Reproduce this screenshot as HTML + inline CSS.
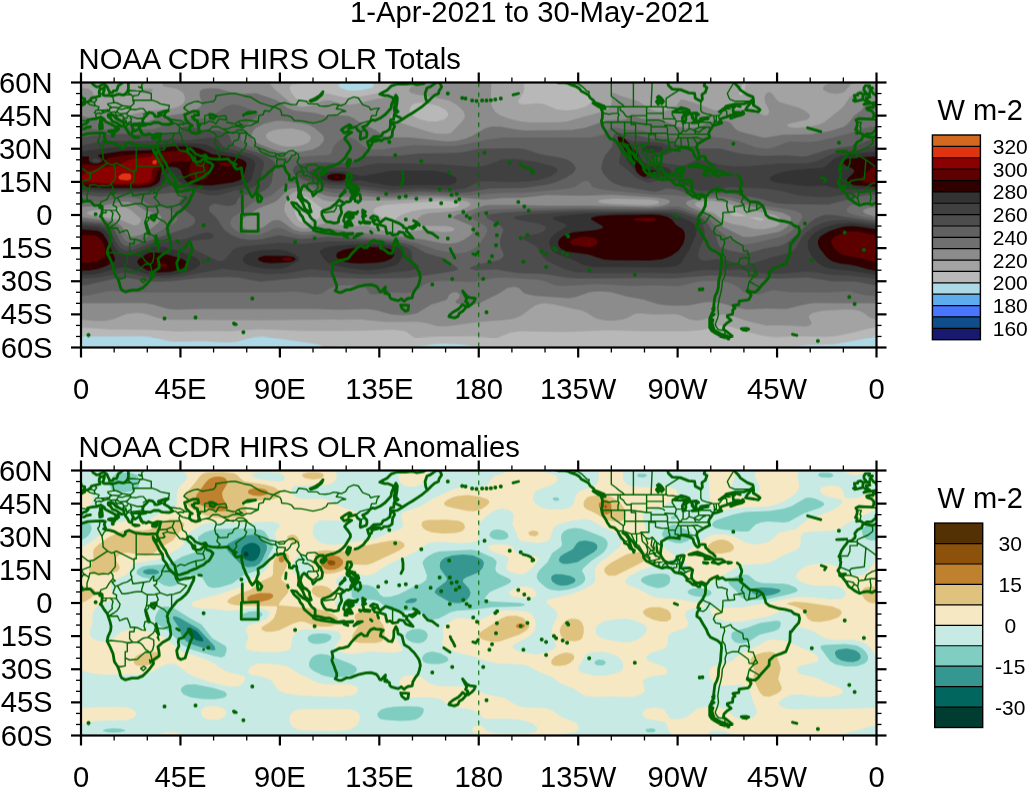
<!DOCTYPE html>
<html><head><meta charset="utf-8"><style>
html,body{margin:0;padding:0;background:#fff;width:1027px;height:788px;overflow:hidden}
svg text{font-family:"Liberation Sans",sans-serif;fill:#000}
svg{will-change:transform}
</style></head><body>
<svg width="1027" height="788" viewBox="0 0 1027 788" style="display:block">
<text x="529.9" y="21.9" text-anchor="middle" font-size="29.3">1-Apr-2021 to 30-May-2021</text>
<text x="78.6" y="68.7" font-size="29.2">NOAA CDR HIRS OLR Totals</text>
<text x="78.6" y="456.7" font-size="29.2">NOAA CDR HIRS OLR Anomalies</text>
<svg x="81.0" y="82.5" width="795.5" height="265.0" viewBox="0 0 795.5 265.0" overflow="hidden"><rect x="0" y="0" width="795.5" height="265.0" fill="#104E8B"/>
<path fill="#4876FF" fill-rule="evenodd" d="M795.5 0.0 795.5 265.0 0.0 265.0 0.0 0.0Z"/>
<path fill="#5CACEE" fill-rule="evenodd" d="M795.5 0.0 795.5 265.0 0.0 265.0 0.0 0.0Z"/>
<path fill="#ADD8E6" fill-rule="evenodd" d="M795.5 0.0 795.5 265.0 0.0 265.0 0.0 0.0Z"/>
<path fill="#B8B8B8" fill-rule="evenodd" d="M259.6 0.0 257.3 2.2 257.3 3.3 259.8 5.5 266.3 7.7 272.9 8.3 281.7 7.6 290.2 5.5 293.1 3.3 291.9 1.1 289.7 0.0 795.5 0.0 795.5 254.0 753.5 261.7 727.0 262.6 707.1 265.0 397.7 265.0 381.2 262.1 363.5 261.1 353.6 261.6 331.5 265.0 265.2 265.0 264.1 263.7 260.7 263.2 254.8 263.9 253.6 265.0 243.1 265.0 239.6 262.8 232.0 261.0 182.3 253.9 172.4 254.5 155.8 259.2 145.8 260.1 120.4 258.8 92.8 259.2 86.2 258.3 70.7 254.6 61.9 253.7 0.0 254.0 0.0 0.0Z"/>
<path fill="#A3A3A3" fill-rule="evenodd" d="M221.0 0.0 211.1 2.2 209.5 3.3 208.6 5.5 210.3 9.9 214.4 15.5 217.7 17.8 222.1 18.9 226.5 18.0 236.4 12.5 242.0 11.1 248.6 11.4 263.0 14.9 268.5 15.4 276.2 14.7 295.3 11.0 303.8 8.8 308.5 6.6 311.3 3.3 310.9 1.1 309.4 0.0 441.9 0.0 443.1 2.2 443.3 6.6 441.9 11.0 437.5 17.7 437.5 19.9 438.5 21.0 443.0 22.1 453.0 20.9 459.6 21.1 464.0 22.1 476.2 26.9 485.0 28.1 495.0 27.0 504.2 24.3 509.3 21.0 510.7 17.7 509.6 13.2 505.8 8.8 501.6 6.6 490.6 2.9 486.1 0.0 662.9 0.0 658.2 8.8 657.9 11.0 658.5 12.3 659.6 12.8 661.8 12.2 663.5 9.9 664.7 1.1 665.8 0.0 795.5 0.0 795.5 244.9 788.9 245.8 770.0 250.6 753.5 253.7 745.8 254.3 718.2 253.8 695.0 254.5 686.1 254.1 676.2 252.1 648.6 243.9 641.9 242.9 637.5 243.4 620.9 247.6 606.6 248.8 559.1 248.7 530.3 247.8 483.9 249.4 439.7 248.7 429.8 249.9 418.7 254.4 413.2 255.3 392.2 253.8 355.8 253.9 334.8 254.9 331.5 254.0 325.9 249.6 323.2 248.4 312.7 247.2 277.3 248.3 223.2 248.5 179.0 246.7 149.2 248.8 123.7 248.4 96.1 248.9 66.3 247.3 28.7 247.1 0.0 244.9 0.0 0.0ZM333.6 21.0 331.5 22.1 329.5 24.3 328.5 27.6 328.8 29.8 331.5 33.1 338.1 36.5 346.9 38.8 355.8 39.1 363.5 36.7 367.2 33.1 367.2 30.9 364.8 27.6 356.9 23.2 343.6 20.3 338.1 20.2ZM218.9 113.7 216.6 115.0 214.7 117.0 213.4 120.4 212.9 124.8 214.5 132.5 216.6 136.6 218.8 139.1 223.2 140.9 228.3 140.2 235.6 136.9 244.3 131.4 245.0 130.3 244.0 128.1 228.3 115.9 223.2 113.6ZM303.8 122.2 295.5 124.8 293.8 125.9 292.3 128.1 292.6 129.2 294.9 131.4 304.9 138.0 308.3 139.6 310.5 139.8 312.7 139.0 316.7 134.7 320.0 132.5 331.5 128.4 343.6 126.4 370.1 125.5 375.7 124.4 378.7 122.6 378.5 121.5 376.6 120.4 370.1 119.1 358.0 118.6ZM648.4 130.3 650.7 132.5 654.1 133.7 659.6 134.1 666.7 133.6 655.2 130.3 649.7 129.6ZM667.6 134.7 678.4 138.1 682.0 138.0 682.6 136.9 680.8 135.8 676.2 134.7Z"/>
<path fill="#8C8C8C" fill-rule="evenodd" d="M81.9 0.0 119.1 0.0 133.7 1.5 141.4 1.0 145.5 0.0 188.1 0.0 193.2 6.6 209.9 20.4 215.0 23.2 221.0 24.5 229.8 23.6 239.8 18.9 244.2 17.8 249.7 18.1 261.9 21.5 268.5 22.2 275.1 21.4 296.1 16.3 306.0 15.2 312.7 15.5 316.7 17.7 317.4 21.0 315.1 26.5 309.4 33.1 309.2 34.2 310.8 36.4 319.3 40.3 345.8 48.7 354.7 50.9 362.4 51.5 367.9 50.9 370.7 49.7 381.5 38.6 383.5 35.3 384.0 33.1 382.5 28.7 376.8 22.9 367.9 18.1 360.2 16.2 335.7 12.1 330.4 10.6 328.2 8.8 327.9 7.7 329.8 4.4 337.0 1.8 351.3 0.1 410.4 0.0 409.7 18.8 411.0 24.3 414.3 29.4 419.8 33.1 427.6 35.9 439.7 39.1 449.7 40.1 478.4 39.8 486.1 39.1 522.8 28.7 527.3 26.5 529.9 23.2 530.9 18.8 530.3 11.0 531.4 10.1 541.4 14.0 556.9 18.4 569.3 26.5 575.6 28.8 583.4 28.8 591.0 26.5 595.6 23.2 599.9 17.0 601.0 16.8 616.5 21.3 633.1 27.7 641.9 28.5 660.7 27.0 669.5 27.2 675.1 28.5 681.7 32.5 685.0 33.1 687.3 32.0 688.2 28.7 687.2 25.4 684.0 19.9 683.6 14.4 685.0 11.0 688.3 9.5 691.3 11.0 694.9 16.6 698.3 19.4 718.5 25.4 724.8 28.7 728.6 32.0 729.2 34.3 725.9 37.2 709.0 40.9 706.4 42.0 705.9 43.1 709.3 44.8 715.9 45.4 729.2 44.2 738.1 42.0 743.2 39.8 761.0 25.4 763.9 22.1 768.1 15.5 771.6 12.1 777.8 8.6 783.3 6.5 788.9 5.5 795.5 5.3 795.5 237.1 789.0 235.2 782.2 230.2 778.8 228.6 773.4 227.3 764.6 226.9 741.4 228.2 731.4 230.6 729.2 231.9 727.9 234.1 728.4 236.3 730.3 239.6 730.4 241.8 728.1 243.3 723.7 243.9 707.1 242.9 685.0 242.9 666.2 238.4 649.7 233.1 641.9 231.9 635.3 232.8 622.0 237.3 615.4 238.1 608.8 237.1 599.9 232.9 594.4 231.5 573.4 231.9 556.9 230.7 553.5 231.4 546.8 235.2 541.4 237.1 534.8 238.1 527.0 238.3 515.3 236.3 504.9 229.7 500.5 228.1 471.8 221.7 464.0 220.8 458.5 221.5 454.1 223.0 439.7 233.4 432.5 236.3 423.2 237.6 397.8 239.4 364.6 244.0 355.8 243.4 344.7 240.5 337.0 239.3 306.0 239.4 279.5 236.9 181.2 237.8 89.5 237.3 78.4 236.0 64.1 231.3 56.3 230.3 45.3 231.6 33.1 236.5 25.4 238.2 14.4 238.4 0.0 237.1 0.0 5.3 7.5 6.6 11.1 8.8 12.6 12.1 14.5 22.1 16.0 24.3 18.8 26.5 34.8 32.0 46.4 33.0 66.3 28.6 90.6 26.3 97.2 24.3 101.0 22.1 103.0 19.9 104.0 16.6 103.6 13.2 101.8 9.9 96.5 6.6 82.9 3.7 81.6 2.2ZM198.8 46.4 192.2 47.7 187.4 49.7 185.1 51.9 185.2 55.2 188.8 58.5 194.5 61.3 200.0 63.2 206.6 64.2 214.2 64.0 221.0 62.8 226.3 60.7 229.6 57.4 229.9 55.2 228.7 53.0 225.4 50.1 221.0 47.9 211.0 46.0ZM213.8 109.3 209.9 111.6 206.5 115.9 203.7 122.6 203.3 128.1 205.9 133.6 212.2 141.3 217.1 144.6 222.1 145.9 228.7 145.3 242.0 141.2 248.6 140.4 267.4 143.8 286.2 143.3 300.8 148.0 310.5 149.4 324.8 149.4 343.6 147.3 361.3 149.4 369.0 149.3 372.8 148.0 373.5 146.9 372.9 145.8 370.7 144.6 364.6 143.6 342.5 143.2 339.2 141.8 337.5 140.2 336.6 138.0 337.0 135.8 341.2 132.5 346.9 130.8 371.2 128.9 379.0 127.5 386.4 124.8 389.4 122.6 389.7 121.5 387.0 119.3 380.1 117.6 355.8 115.9 309.4 118.0 271.8 118.2 249.7 119.2 242.0 117.4 231.7 111.5 226.3 109.3 219.9 108.3ZM532.8 115.9 521.1 117.0 517.4 118.1 517.0 119.3 520.4 120.4 530.3 121.5 564.6 122.7 573.4 122.3 576.9 121.5 578.3 120.4 578.0 119.3 576.0 118.1 570.1 117.0ZM617.3 119.2 614.6 120.4 613.7 121.5 615.0 123.7 619.5 125.9 633.1 130.7 644.1 139.0 650.8 141.5 662.9 143.5 674.0 146.4 682.8 146.8 693.9 144.6 697.8 142.4 700.0 139.1 699.2 135.8 693.7 132.5 667.3 126.7 645.1 120.4 630.9 118.3ZM36.8 124.8 11.6 128.1 7.1 129.2 5.8 130.3 6.4 131.4 12.2 133.2 39.8 137.5 53.0 142.9 56.3 142.4 59.1 140.2 60.0 138.0 59.4 135.8 49.1 127.0 44.1 124.8ZM751.3 0.0 773.4 0.0 769.6 2.2 763.5 9.2 760.1 10.5 755.7 11.2 748.0 10.4 742.9 7.7 742.1 6.6 742.2 4.4 744.7 2.2ZM63.0 6.5 69.6 6.3 71.4 6.6 71.9 7.7 68.5 10.4 63.0 11.0 60.5 9.9 59.8 8.8 60.2 7.7ZM596.6 11.0 595.3 11.0 594.9 9.9Z"/>
<path fill="#707070" fill-rule="evenodd" d="M122.6 6.4 129.3 5.7 137.0 6.1 152.5 10.6 158.0 11.4 175.7 10.8 195.6 17.8 206.8 25.4 213.2 28.0 234.2 30.6 245.3 33.5 260.7 32.9 267.4 33.6 271.8 35.3 281.7 41.8 294.6 47.5 302.7 53.1 307.2 54.8 330.4 55.1 364.6 58.9 374.7 58.5 384.4 56.3 392.0 53.0 404.4 45.8 411.0 44.0 419.8 44.2 436.4 47.3 444.2 48.0 490.6 47.6 504.5 45.3 525.9 37.8 542.5 37.5 545.9 36.4 551.3 33.1 561.3 36.2 584.5 39.2 597.7 44.5 605.5 45.8 616.5 44.9 627.6 40.0 632.4 38.6 638.6 37.9 644.1 38.2 648.8 39.8 654.4 46.4 658.5 49.1 681.7 55.1 686.1 55.1 701.6 52.3 730.3 51.8 749.3 48.6 762.8 44.2 767.1 40.9 773.4 33.1 780.7 27.6 785.8 21.0 790.0 18.9 793.3 19.1 794.4 19.9 795.5 22.1 795.2 24.3 792.3 29.8 793.5 32.0 795.5 33.1 795.5 124.2 785.6 125.8 782.1 128.1 782.2 129.2 785.1 131.4 795.5 134.4 795.5 220.8 733.6 220.5 725.9 221.4 704.9 226.4 685.0 226.1 666.2 227.0 658.5 225.8 639.7 220.6 632.0 219.5 624.2 219.7 606.6 223.0 593.3 223.2 582.3 222.5 575.6 221.2 562.4 216.9 545.8 213.9 530.3 209.8 522.6 208.9 514.9 208.9 508.2 209.8 493.9 214.8 488.3 215.7 453.0 213.2 444.2 211.2 441.9 209.8 437.9 205.4 433.1 204.2 426.5 205.5 417.9 210.9 398.9 220.4 390.0 222.6 382.3 222.6 375.7 220.8 374.6 219.7 374.8 218.6 378.3 215.3 378.9 212.0 375.7 209.8 372.1 209.8 368.3 212.0 366.2 216.4 364.6 217.7 350.2 222.0 335.8 230.8 330.4 232.0 322.6 232.7 310.5 232.1 295.0 227.7 286.2 226.6 261.9 227.3 236.4 226.6 117.1 226.5 95.0 227.3 87.3 226.5 71.8 221.9 63.0 220.5 0.0 220.8 0.0 134.4 25.4 137.7 34.3 139.9 40.3 143.5 46.5 152.4 48.6 153.7 51.9 154.2 59.5 152.4 67.7 148.0 77.6 140.2 80.6 135.8 79.9 133.6 78.4 132.4 64.1 127.8 51.9 120.5 47.5 119.0 39.8 119.2 21.0 123.4 0.0 124.2 0.0 33.1 22.1 39.6 43.1 39.0 60.8 39.8 66.3 39.3 78.4 34.8 105.0 30.6 111.8 28.7 116.5 26.5 119.4 24.3 121.0 21.0 118.7 13.2 118.5 9.9 119.8 7.7ZM194.2 38.6 182.3 41.6 174.6 45.8 172.0 48.6 170.4 51.9 170.5 55.2 171.8 57.4 176.5 60.7 190.0 66.3 198.9 68.9 207.7 69.9 221.0 69.1 232.0 66.9 238.6 63.4 242.6 58.5 243.1 55.2 241.2 51.9 234.2 45.9 228.7 42.8 222.1 41.0 207.7 39.0 200.0 38.3ZM214.1 104.9 209.6 106.0 205.5 108.2 197.8 116.4 193.4 119.8 177.9 125.6 163.8 134.7 159.6 139.1 159.1 141.3 159.9 143.5 162.4 145.5 166.0 146.9 171.3 147.6 175.7 147.3 182.3 144.7 191.1 138.2 196.7 137.3 201.1 138.9 212.2 146.9 219.9 149.3 227.6 149.2 242.0 146.1 248.6 145.8 266.3 149.1 322.6 154.4 342.5 157.1 360.2 160.8 369.0 161.2 376.8 159.9 383.4 157.1 389.9 152.4 392.9 148.0 392.7 145.8 390.0 143.0 372.4 135.8 371.5 134.7 375.7 132.5 403.3 123.1 409.9 122.6 438.6 122.5 468.5 123.3 503.8 122.9 569.0 124.6 576.7 124.1 583.4 122.8 586.9 121.5 589.0 119.3 588.5 118.1 585.6 116.7 575.6 115.0 531.4 112.2 499.4 113.3 466.3 112.6 441.9 115.3 421.0 115.4 403.3 117.2 376.8 114.8 351.3 113.6 337.9 113.7 310.5 115.4 281.7 113.6 253.0 114.5 244.2 113.0 232.0 107.7 225.4 105.6 219.9 104.7ZM625.8 115.9 611.0 117.2 606.6 118.6 604.6 120.4 605.9 122.6 609.2 124.8 628.9 132.5 641.9 144.3 661.8 154.3 670.7 154.5 697.2 149.4 701.6 147.6 706.0 144.6 709.9 139.1 710.0 135.8 708.6 133.6 701.6 130.2 676.2 125.1 645.7 117.0 636.4 116.0Z"/>
<path fill="#616161" fill-rule="evenodd" d="M151.4 22.0 155.8 22.2 161.3 23.7 173.7 28.7 177.0 30.9 176.8 33.1 165.7 41.8 161.4 47.5 159.7 54.1 160.4 57.4 161.8 59.6 167.2 62.9 194.5 72.6 201.1 74.4 206.6 75.0 247.5 72.5 250.4 70.7 252.0 65.1 256.3 59.7 260.7 56.5 266.3 55.1 270.7 55.5 275.1 57.3 282.3 64.0 286.2 65.9 292.8 67.0 300.5 67.1 332.6 62.4 363.5 63.8 375.7 63.4 406.6 57.0 422.1 55.1 510.4 55.0 521.5 52.4 524.8 50.2 529.2 45.6 532.5 44.8 543.6 46.9 561.3 48.0 575.6 53.0 584.5 54.4 604.4 55.4 633.1 54.6 641.9 55.4 657.4 58.5 674.8 65.1 685.0 66.3 692.7 65.0 704.9 60.2 709.3 59.2 729.2 59.6 736.9 58.7 767.9 51.1 786.7 44.8 795.5 44.2 795.5 118.0 786.7 118.4 775.6 120.7 768.5 123.7 765.5 127.0 766.4 129.2 767.8 130.3 773.4 132.5 795.5 137.0 795.5 213.6 784.5 212.8 767.9 208.8 745.8 210.0 709.3 209.8 693.9 207.7 690.5 207.9 678.4 211.4 669.5 211.8 662.9 209.8 656.8 204.3 650.3 201.0 641.9 198.9 634.2 198.2 618.7 198.8 601.0 202.9 594.4 203.8 573.4 202.8 552.4 203.4 517.1 201.5 481.7 203.6 474.0 202.7 464.0 198.8 456.3 197.1 423.2 195.0 413.2 195.6 392.2 199.4 364.6 198.2 353.6 198.7 348.5 199.9 343.1 202.1 335.9 207.8 331.5 209.8 324.8 210.4 310.5 209.7 295.0 212.1 291.6 212.0 288.4 210.9 285.9 206.5 282.6 204.3 276.2 203.0 267.4 202.6 258.5 203.1 252.5 204.3 247.4 206.5 241.1 210.9 235.3 212.0 214.3 209.0 193.4 209.9 51.9 210.1 32.0 208.5 24.3 209.3 8.8 212.8 0.0 213.6 0.0 137.0 22.1 139.3 30.9 141.6 34.3 143.5 36.6 145.8 43.1 157.1 46.4 159.1 49.7 159.5 59.7 157.1 76.2 150.2 93.9 140.3 96.0 138.0 96.5 135.8 94.6 131.4 88.4 126.7 84.0 125.2 68.8 122.6 60.1 117.0 54.1 115.2 47.5 114.6 40.9 114.9 23.2 119.0 17.7 119.7 0.0 118.0 0.0 44.2 12.2 46.6 18.8 47.2 25.4 46.9 44.2 44.2 63.0 47.1 71.8 46.8 77.5 45.3 88.1 39.8 93.9 38.1 103.9 36.7 123.7 35.9 129.3 35.0 144.7 23.9ZM500.8 99.4 493.9 104.5 486.1 106.3 443.0 110.3 417.6 110.5 387.8 112.9 342.5 111.3 309.4 112.9 282.8 110.1 254.1 110.5 244.2 108.8 223.2 101.8 215.4 100.7 208.8 100.8 202.2 103.1 190.0 113.2 175.7 117.9 171.3 120.2 163.0 127.0 151.9 134.7 149.7 138.0 149.3 141.3 150.7 144.6 154.7 148.1 160.2 150.6 166.8 152.1 173.5 152.4 179.0 151.8 184.1 150.2 193.4 145.8 197.8 145.2 201.1 146.1 212.1 151.1 219.9 152.7 227.6 152.6 246.4 150.3 270.7 153.5 319.3 157.0 335.9 160.5 355.8 167.4 371.2 170.5 377.9 171.1 385.6 169.7 393.9 165.6 398.6 161.2 404.4 153.1 406.5 148.0 405.4 144.6 402.2 142.0 392.2 136.7 390.1 134.7 390.0 133.6 392.5 131.4 396.6 129.6 407.7 127.2 439.7 125.9 502.7 125.2 570.1 126.1 593.3 123.9 597.7 124.1 624.4 133.6 628.6 136.9 636.8 146.9 650.8 158.2 656.3 160.9 662.9 161.9 672.9 160.7 697.2 155.1 703.8 152.8 709.3 149.4 714.8 144.6 719.2 139.1 721.0 134.7 720.8 132.5 719.3 130.6 713.7 128.1 683.9 123.3 648.6 114.4 638.6 113.5 604.4 114.0 590.0 112.5 573.4 112.3 530.6 108.2 519.3 106.8 512.6 104.9 511.0 103.8 509.2 100.5 507.1 98.8 503.8 98.5Z"/>
<path fill="#4D4D4D" fill-rule="evenodd" d="M103.9 44.1 110.5 44.2 120.4 47.3 139.2 48.5 144.7 49.7 148.1 52.4 150.7 59.6 153.7 62.9 158.7 65.1 174.6 69.5 183.4 72.8 191.2 77.3 194.0 80.6 194.3 83.9 192.3 89.4 190.7 99.4 188.4 103.8 184.5 107.5 177.9 110.2 163.5 112.5 159.7 113.7 157.2 115.9 154.7 121.5 151.4 123.1 146.9 123.4 134.8 121.3 131.5 121.8 128.6 123.7 127.8 125.9 128.8 129.2 135.0 134.7 142.9 146.9 150.3 152.6 159.1 155.9 170.1 157.4 180.1 156.8 197.8 152.7 219.9 156.5 246.4 154.5 314.9 158.9 329.3 162.3 334.5 164.5 344.7 170.5 362.0 175.6 367.8 178.9 376.6 185.5 377.2 186.6 375.7 187.7 367.9 189.6 327.0 195.4 281.7 196.1 228.7 194.5 180.1 198.9 173.5 198.3 156.9 195.0 145.8 194.5 117.1 195.5 91.7 198.5 76.2 199.2 64.1 198.5 47.5 195.6 42.0 195.3 32.5 196.5 5.5 202.5 0.0 203.0 0.0 139.1 19.9 140.9 28.8 143.5 33.5 148.0 39.8 160.1 43.1 162.8 47.5 163.9 54.1 162.8 107.2 145.1 112.0 142.4 113.8 140.2 114.4 138.0 113.0 134.7 103.0 127.0 98.9 122.6 98.4 119.3 103.1 113.7 102.5 112.6 98.3 111.0 90.6 110.3 70.7 112.3 44.2 111.6 19.9 114.2 0.0 112.2 0.0 55.2 12.2 53.1 38.7 51.4 68.5 52.5 96.1 50.9 99.7 49.7 99.7 46.4 100.7 45.3ZM534.8 50.5 538.1 50.3 545.8 51.9 555.7 52.7 570.9 56.3 588.9 59.2 608.8 66.3 638.6 66.0 659.6 71.2 682.8 73.5 706.0 72.7 720.4 73.9 725.9 73.7 746.9 67.1 774.5 63.0 786.7 57.9 795.5 55.2 795.5 112.2 786.7 112.6 777.8 114.0 746.9 122.2 706.0 121.4 694.2 120.4 676.2 115.4 648.6 110.8 640.8 110.4 623.1 111.7 614.3 111.6 606.7 110.4 594.4 106.9 587.8 106.1 583.4 106.5 577.8 108.6 573.4 109.2 541.4 103.7 534.3 101.6 528.9 98.3 522.6 91.6 520.3 86.1 521.1 80.6 524.0 72.9 531.4 64.1 532.2 54.1 533.0 51.9ZM397.8 66.2 435.3 65.7 443.0 66.5 459.6 71.8 479.5 75.2 485.0 76.8 489.5 79.1 492.6 81.7 494.5 85.0 494.5 87.2 492.2 90.5 485.0 95.2 474.0 100.0 465.1 102.3 441.9 105.4 408.8 106.0 388.9 109.6 376.8 110.4 341.4 108.8 309.4 110.4 282.8 106.9 249.7 106.2 239.8 103.7 219.5 96.1 214.2 92.8 212.5 90.5 211.9 88.3 212.8 85.0 215.4 82.8 224.3 80.4 235.3 79.8 264.1 80.7 270.9 79.5 280.7 75.1 287.3 73.6 312.7 73.8 338.1 71.1 373.4 70.6 383.4 69.4ZM593.3 126.8 598.8 127.6 619.9 134.7 624.2 138.0 626.7 141.3 635.1 154.6 637.5 162.3 639.1 164.5 647.3 167.8 661.8 170.6 669.5 169.9 683.9 165.9 698.3 163.4 703.8 161.6 708.2 158.6 730.3 138.7 735.8 135.2 741.4 133.0 746.9 132.2 752.4 132.6 795.5 139.1 795.5 203.0 774.5 198.9 751.3 198.8 727.0 195.1 701.6 196.0 674.0 195.8 644.1 193.5 628.7 193.0 592.2 196.0 562.4 195.5 497.2 196.0 486.1 195.2 464.0 191.4 436.4 190.5 415.4 187.0 395.8 187.7 388.8 186.6 389.0 185.5 390.9 184.4 396.6 182.1 417.6 177.8 421.2 175.6 422.5 173.4 422.4 171.1 419.5 164.5 418.9 160.1 419.5 155.7 422.6 146.9 419.8 143.5 406.1 135.8 405.3 133.6 408.8 131.7 422.1 129.9 451.9 128.4 506.0 127.1 569.0 127.4Z"/>
<path fill="#404040" fill-rule="evenodd" d="M128.2 55.2 132.6 55.2 136.0 56.3 138.1 58.2 141.2 62.9 145.8 65.8 171.3 72.1 176.8 74.3 181.2 77.3 182.7 79.5 183.0 82.8 180.9 89.4 179.4 98.3 177.3 101.6 174.1 103.8 170.1 105.2 153.6 108.1 140.3 112.1 133.7 113.1 124.8 112.3 91.7 103.1 88.4 103.4 76.2 107.7 66.3 109.1 22.1 110.4 0.0 109.0 0.0 63.2 16.6 59.7 25.4 58.5 57.5 58.7 82.9 57.5 108.3 57.5ZM539.2 55.0 542.5 55.4 552.4 59.1 561.3 58.8 573.4 59.7 581.2 60.8 587.6 62.9 591.4 66.2 591.4 68.5 590.0 70.1 584.5 72.5 573.2 75.1 570.4 76.2 569.9 77.3 571.6 78.4 576.2 79.5 599.9 83.2 604.4 82.5 613.2 78.2 618.7 77.3 624.2 78.1 639.7 82.5 655.2 84.0 667.3 83.8 699.4 81.0 727.0 80.7 735.8 78.7 746.9 73.2 753.5 71.0 780.0 67.2 795.5 63.2 795.5 109.0 775.6 110.2 748.0 114.5 735.8 114.6 718.2 113.1 698.3 108.1 682.8 106.1 649.7 104.6 640.8 105.4 626.5 108.2 618.7 108.5 612.5 107.1 601.0 100.9 592.2 98.5 577.8 97.6 569.0 100.1 565.7 99.8 554.9 95.0 546.9 87.4 538.8 81.7 537.8 78.4 539.4 72.9 539.5 69.6 537.0 58.5 537.4 56.3ZM421.0 77.1 427.6 76.4 435.3 76.6 457.4 79.9 472.5 83.9 475.9 86.1 476.5 88.3 474.8 90.5 469.1 93.9 456.3 97.7 445.3 99.1 433.1 99.7 402.2 98.4 396.6 99.8 383.9 106.0 372.3 107.4 339.2 106.0 310.5 107.5 278.4 103.2 249.7 102.5 242.0 100.9 235.6 98.3 230.8 95.0 228.6 91.6 228.9 89.4 230.9 87.6 237.5 85.6 246.4 85.0 275.1 85.1 296.1 80.7 358.0 81.5 394.4 84.4 404.4 83.1ZM499.4 129.2 587.8 128.9 596.6 130.0 608.6 133.6 614.3 135.8 619.2 139.1 621.6 142.4 623.6 148.0 623.8 154.6 619.2 164.5 617.4 170.0 617.4 174.5 618.7 176.7 620.9 177.8 624.2 178.2 636.4 176.7 641.9 176.8 647.4 178.2 658.5 182.6 661.8 183.1 669.5 181.7 690.5 174.9 710.4 169.8 714.8 166.1 720.2 155.7 725.1 150.2 733.6 144.1 743.6 139.8 752.4 138.0 763.5 137.6 774.5 138.4 795.5 141.2 795.5 196.3 771.2 193.2 750.2 192.3 730.3 189.2 722.6 189.3 702.7 191.1 688.3 191.3 675.1 190.1 658.5 187.1 641.9 187.7 622.0 187.4 602.1 190.2 592.2 190.8 565.7 190.2 510.4 190.7 493.9 189.5 483.0 186.6 466.3 178.4 461.8 174.3 456.6 165.6 454.1 162.9 442.0 156.8 441.4 155.7 441.9 154.6 444.2 153.5 456.3 151.4 462.3 149.1 465.4 145.8 464.0 143.5 457.5 141.3 436.4 137.2 432.7 135.8 432.7 134.7 435.6 133.6 449.7 131.7ZM18.8 142.8 26.5 145.5 30.0 149.1 34.7 159.0 37.6 163.5 40.9 166.5 45.3 168.0 51.9 167.3 70.7 160.7 105.0 156.5 119.6 151.3 127.1 150.0 131.0 151.3 132.6 153.2 132.6 154.6 131.3 155.7 127.4 156.8 109.4 158.3 107.2 160.1 107.2 162.3 110.5 165.6 137.0 178.5 140.3 178.6 142.5 177.8 145.3 175.6 152.5 166.9 155.8 165.2 161.3 164.1 198.9 160.3 219.9 161.4 247.5 158.9 296.1 159.6 313.9 161.2 322.3 163.4 327.0 165.6 329.4 167.8 330.7 170.0 331.5 176.7 332.5 178.9 337.9 183.3 338.0 184.4 334.8 186.6 327.0 188.6 290.6 191.9 276.2 191.5 229.8 186.4 204.4 191.0 186.7 191.7 141.4 186.3 100.5 194.0 87.3 195.6 68.5 195.2 47.5 190.6 42.0 190.2 15.5 195.2 0.0 196.3 0.0 141.2Z"/>
<path fill="#333333" fill-rule="evenodd" d="M96.1 60.7 113.8 60.9 122.6 61.7 127.1 63.1 138.1 68.5 160.2 72.6 169.0 75.4 173.4 78.4 174.5 81.7 170.8 96.1 168.3 99.4 162.4 102.1 137.0 107.5 129.3 107.9 112.7 105.1 102.8 102.0 97.3 98.3 92.8 90.8 89.5 89.7 86.3 91.6 84.1 98.3 81.4 101.6 76.2 104.5 69.6 106.4 60.8 107.2 24.3 107.9 0.0 106.6 0.0 68.9 36.5 64.3 64.1 64.3 84.0 61.4ZM13.1 76.2 11.3 77.3 11.1 78.4 12.4 79.5 16.6 79.9 19.0 78.4 18.8 77.3 16.9 76.2ZM543.6 61.7 546.9 62.9 556.8 69.6 561.3 78.3 564.6 81.3 567.9 82.6 578.9 83.6 585.0 85.0 589.2 87.2 590.2 88.3 590.2 90.5 588.9 91.8 585.6 93.1 573.4 94.5 567.9 96.0 564.6 95.9 560.2 94.0 555.7 90.1 545.8 77.3 544.2 72.9 542.7 65.1 542.6 62.9ZM567.9 62.9 574.5 62.9 578.9 63.9 581.4 65.1 582.2 66.2 582.0 67.4 578.0 69.6 572.3 70.4 565.7 70.1 561.9 68.5 561.4 67.4 562.2 65.1 564.6 63.7ZM795.5 68.9 795.5 106.6 765.7 106.7 756.8 105.9 743.6 103.1 730.3 103.8 723.7 103.5 698.2 100.5 692.7 99.3 688.8 97.2 689.1 95.0 692.3 92.8 703.8 89.0 714.8 87.3 741.4 85.3 744.7 83.8 753.0 76.2 760.1 73.4 769.1 71.8ZM309.4 88.3 346.9 88.1 356.9 88.7 365.4 90.5 371.2 92.8 374.6 95.0 376.0 98.3 374.7 100.5 372.7 101.6 367.1 102.7 334.8 102.4 311.6 103.4 297.9 101.6 279.5 97.7 260.7 100.2 250.8 100.0 243.1 97.8 240.5 96.1 239.4 93.9 240.6 91.6 242.4 90.5 250.8 88.7 264.1 89.2 279.5 93.4 282.8 93.6ZM540.3 130.3 573.4 130.2 587.8 131.2 596.8 133.6 607.6 138.0 612.1 140.8 614.3 143.3 615.3 145.8 615.5 149.1 614.8 152.4 608.8 166.6 599.9 180.6 595.5 183.4 585.6 184.8 510.7 184.4 502.7 182.6 490.7 176.7 477.3 172.1 472.1 168.9 469.4 165.6 468.0 160.1 469.5 155.7 474.0 151.5 486.1 143.5 483.6 141.3 472.8 136.9 471.7 135.8 472.7 134.7 482.8 132.9 501.7 131.4ZM757.9 141.2 772.3 140.6 795.5 143.5 795.5 192.3 771.2 188.4 753.5 186.8 746.9 185.5 741.0 183.3 737.4 181.1 730.6 173.4 727.6 167.8 726.6 162.3 727.4 157.9 730.1 153.5 734.7 149.7 741.4 146.1 749.1 143.3ZM15.5 144.6 23.2 147.1 27.1 151.3 35.0 166.7 38.7 170.3 42.0 172.0 46.4 172.7 50.8 172.1 65.2 166.0 70.7 164.5 77.3 163.9 82.9 164.3 107.2 171.8 113.8 174.5 118.0 177.8 119.1 180.0 118.8 182.2 115.4 185.5 107.3 188.8 98.3 191.2 88.4 192.7 78.4 193.0 68.5 192.0 60.1 189.9 48.6 185.7 43.1 184.8 36.5 185.7 16.6 191.2 7.7 192.2 0.0 192.3 0.0 143.5ZM268.5 162.3 295.0 161.8 310.5 163.2 315.5 164.5 319.9 166.7 321.8 168.9 322.1 172.2 318.2 180.0 313.7 183.3 299.8 186.6 286.2 187.7 265.2 185.3 251.4 182.2 246.8 180.0 244.2 177.8 239.2 171.1 239.0 168.9 239.6 167.8 244.2 165.3 253.3 163.4ZM180.1 167.8 194.5 167.1 204.4 168.1 208.8 169.4 215.4 172.9 217.4 174.5 218.4 176.7 216.6 179.1 206.5 184.4 201.1 186.0 195.6 186.6 185.6 186.2 173.5 184.3 166.6 182.2 162.4 178.9 161.8 176.7 162.5 174.5 165.7 171.4 171.3 169.3Z"/>
<path fill="#300000" fill-rule="evenodd" d="M91.7 64.0 103.9 63.7 113.8 64.7 119.3 66.2 131.5 71.7 153.6 74.8 161.3 76.9 164.6 79.2 165.8 81.7 162.3 93.9 160.8 96.1 158.0 98.1 151.4 100.1 130.4 103.1 117.1 102.6 110.5 101.3 106.0 99.4 102.8 96.1 99.4 87.2 96.1 84.9 90.6 84.2 86.2 85.1 82.3 87.2 80.1 90.5 79.1 97.2 78.0 99.4 74.0 102.4 68.5 104.4 58.6 105.4 25.4 105.6 0.0 104.2 0.0 74.1 7.7 74.1 8.2 75.1 7.6 77.3 8.9 79.5 12.2 80.9 16.6 81.1 19.9 80.0 21.4 78.4 20.9 76.2 16.6 72.9 19.5 71.8 42.0 68.5 68.5 67.8ZM548.0 70.2 550.2 70.0 552.7 71.8 558.9 80.6 563.5 84.7 570.1 87.7 576.1 88.3 565.7 92.2 561.3 91.1 558.2 88.3 549.7 77.3 547.8 72.9ZM771.2 75.0 795.5 74.1 795.5 104.2 773.4 102.8 769.0 101.6 766.1 99.4 765.8 98.3 766.7 96.1 772.5 90.5 773.4 88.3 771.2 86.1 763.5 82.2 761.8 79.5 763.5 77.3ZM250.8 91.5 256.3 91.0 261.9 91.6 265.4 92.8 267.2 95.0 265.2 96.7 260.7 98.0 255.2 98.3 250.8 97.7 247.5 96.5 246.0 95.0 247.3 92.8ZM531.4 132.5 571.2 131.9 579.4 132.5 586.7 134.4 590.7 136.9 595.1 142.4 601.0 146.2 603.3 148.9 604.0 154.6 602.3 161.2 597.7 168.1 590.0 173.4 581.2 176.7 569.0 178.0 532.5 177.8 522.6 177.0 507.1 172.0 485.7 168.9 480.7 166.7 477.6 163.4 477.1 160.1 478.3 156.8 480.6 154.4 485.0 151.9 492.8 149.7 514.9 147.6 521.3 145.8 521.9 144.6 521.3 143.5 510.2 136.9 509.9 135.8 511.7 134.7 517.1 133.6ZM770.1 143.5 777.8 143.9 795.5 146.7 795.5 188.2 787.8 186.9 773.4 183.0 759.0 180.9 752.4 179.2 749.1 177.5 745.4 174.5 738.5 165.6 736.8 161.2 737.0 157.9 738.9 154.6 741.5 152.4 747.7 149.1 756.6 145.8 763.5 144.1ZM15.5 147.9 18.9 149.1 21.9 151.3 25.5 156.8 33.5 174.5 34.0 176.7 33.0 178.9 25.9 183.3 16.9 186.6 8.8 188.0 0.0 188.2 0.0 146.7ZM287.3 164.5 299.4 164.7 308.3 166.2 312.9 168.9 313.3 172.2 312.0 174.5 309.4 176.7 303.8 178.9 296.1 180.2 280.6 181.0 269.6 180.6 261.9 179.0 257.2 176.7 255.0 173.4 256.4 170.0 261.9 167.5 271.7 165.6ZM70.7 170.0 79.5 170.3 100.5 176.1 105.4 178.9 106.0 180.0 105.8 182.2 103.9 184.4 100.2 186.6 89.5 189.5 77.3 189.9 66.3 187.7 58.7 183.3 56.8 181.1 56.2 178.9 57.6 176.7 62.2 173.4 66.5 171.1ZM183.4 173.2 207.7 173.4 212.3 174.5 214.1 175.6 214.6 176.7 213.2 178.3 208.8 179.8 191.1 180.8 182.4 180.0 177.4 177.8 176.8 176.7 177.9 175.1Z"/>
<path fill="#5C0000" fill-rule="evenodd" d="M98.3 67.7 106.1 68.5 110.4 70.7 111.6 72.9 111.5 75.1 109.4 78.4 91.7 79.5 86.2 80.9 81.8 83.0 76.1 88.3 74.1 98.3 69.6 101.6 64.1 103.0 55.2 103.6 21.0 103.2 0.0 101.7 0.0 82.2 4.4 81.5 12.2 82.6 17.7 82.3 22.5 80.6 26.3 76.2 29.8 74.9 47.5 72.3 70.7 70.7ZM110.5 78.9 120.4 79.8 127.0 81.7 127.7 82.8 127.2 87.2 127.6 92.8 126.1 96.1 122.6 97.8 118.2 98.4 113.8 97.8 110.3 96.1 108.7 93.9 108.1 90.5 108.9 82.8ZM143.6 79.7 148.1 80.2 150.9 81.7 150.9 82.8 148.1 84.2 143.9 83.9 138.2 81.7 138.3 80.6ZM795.5 82.2 795.5 101.7 785.6 100.4 780.1 98.3 779.7 97.2 780.7 95.0 791.1 84.6ZM255.2 93.8 257.5 93.9 259.0 95.0 256.3 95.6 253.5 95.0ZM555.7 135.7 567.9 134.9 574.1 135.8 575.4 136.9 573.4 138.5 566.8 139.2 554.0 138.0 551.4 136.9ZM767.9 149.0 776.7 148.9 788.9 151.8 795.5 152.5 795.5 180.0 782.2 176.4 763.5 172.8 757.9 170.2 754.1 166.7 750.5 161.2 750.2 159.0 751.0 156.8 753.3 154.6 757.4 152.4ZM13.3 152.8 16.6 154.3 19.9 157.1 23.0 162.3 24.5 167.8 24.2 172.2 21.8 175.6 17.7 177.9 11.0 179.9 5.5 180.5 0.0 180.0 0.0 152.5ZM498.3 154.5 506.0 154.1 512.7 155.1 515.6 156.8 516.7 160.1 515.4 162.3 513.9 163.4 508.2 164.9 492.8 162.5 489.7 161.2 489.0 159.0 490.9 156.8ZM202.2 175.4 207.7 174.8 210.7 175.6 211.6 176.7 208.8 178.3 204.4 178.5 201.7 177.8 200.7 176.7ZM78.4 181.0 84.0 181.3 86.1 182.2 86.5 183.3 84.0 184.5 79.3 184.4 76.7 183.3 76.2 182.2Z"/>
<path fill="#8B0000" fill-rule="evenodd" d="M71.8 73.9 78.4 74.5 80.7 75.9 80.9 77.3 77.3 83.1 71.3 87.2 70.5 89.4 70.6 95.0 70.0 97.2 67.7 99.4 65.2 100.4 56.3 101.4 19.9 100.4 7.7 99.2 3.3 98.3 0.0 96.7 0.0 93.7 1.0 92.8 5.5 90.1 12.9 87.2 22.1 85.0 36.5 83.3 45.9 78.4 52.0 76.2ZM795.5 93.7 795.5 96.7 794.7 95.0ZM507.1 160.1 508.4 160.1 508.5 161.2 506.9 161.2Z"/>
<path fill="#E0330F" fill-rule="evenodd" d="M71.8 78.3 74.0 77.3 75.1 77.6 75.9 78.4 75.8 80.6 74.0 82.0 72.4 81.7 71.2 80.6ZM40.9 91.3 44.2 90.7 48.6 91.1 50.3 92.8 50.2 96.1 49.5 97.2 46.4 98.1 39.2 97.2 37.7 96.1 37.3 93.9Z"/>
<path fill="#300000" d="M536.6 53.9 542.4 55.0 548.2 60.9 552.9 66.7 556.4 72.6 561.1 79.6 564.6 86.6 566.4 92.4 563.4 94.8 558.8 92.4 555.3 88.9 554.1 84.2 552.9 79.6 549.4 73.7 544.7 67.9 540.1 62.0 537.1 57.4Z"/><g transform="translate(0,0)"><path d="M637.9,106.4 635.3,108.2 635.5,114.0 636.6,117.0 640.8,117.0 646.3,118.8 645.7,122.6 646.8,128.1 647.7,129.8 M662.9,113.7 660.3,119.5 661.4,121.0 662.9,122.6 M669.3,119.5 667.6,128.1 670.7,128.3 M676.2,119.9 675.5,127.4 M681.5,123.2 675.5,127.4 670.7,128.3 665.6,129.8 663.4,127.4 662.9,122.6 657.0,123.7 653.0,124.1 653.6,129.2 647.7,129.8 641.9,130.1 641.9,134.7 641.0,141.8 634.4,144.0 632.4,148.6 634.6,152.4 639.7,153.5 639.7,156.8 643.0,156.8 649.7,154.1 651.2,156.8 656.3,160.1 661.8,163.0 662.5,168.5 666.5,168.5 667.3,171.1 668.4,176.7 667.3,181.1 672.2,181.7 674.8,189.0 676.6,192.3 672.6,194.3 668.2,199.2 672.2,201.0 677.9,204.5 677.5,206.9 M618.1,140.0 622.3,140.9 625.4,138.7 628.9,132.9 M621.4,129.4 625.4,131.4 629.1,132.7 M629.1,132.7 633.1,135.8 640.8,141.8 M643.0,156.8 643.7,160.3 641.9,165.6 641.3,170.7 641.9,171.1 M639.9,173.1 641.9,171.1 M641.9,171.1 644.1,174.5 644.8,180.0 645.7,183.1 M645.7,183.1 644.1,187.7 644.4,192.3 641.3,198.8 640.8,205.4 639.7,210.9 638.2,216.4 636.8,225.3 637.5,231.9 636.4,236.3 634.2,241.8 635.3,244.5 637.5,247.3 644.4,248.2 M643.9,248.7 643.9,254.0 M645.7,183.1 650.8,181.3 655.2,181.1 657.2,181.5 M657.2,181.5 659.2,175.8 665.1,175.1 667.6,176.7 M657.2,181.5 662.9,185.5 667.3,188.8 668.2,192.8 672.2,193.0 674.8,189.0 M666.5,207.4 667.3,203.2 668.2,199.2 M536.7,60.7 542.0,60.3 550.2,63.4 556.4,63.4 560.2,62.3 564.6,67.1 567.9,68.5 571.4,66.7 575.6,71.8 580.7,75.3 M591.8,100.5 592.2,97.2 593.5,97.2 595.7,96.9 595.7,93.2 598.4,93.2 600.4,91.6 M598.4,93.2 598.4,97.4 600.6,97.8 M598.4,97.4 598.0,100.7 596.4,102.2 M598.0,100.7 601.5,101.8 601.9,103.1 M600.2,97.4 604.4,101.6 607.7,100.5 611.7,99.4 M601.9,103.1 604.4,102.0 607.7,100.5 M606.1,108.0 609.0,108.2 610.5,108.4 M612.3,114.6 612.5,112.0 613.2,111.3 M624.5,115.1 624.9,113.3 M563.5,85.0 567.9,83.9 572.3,82.8 576.7,86.1 578.9,88.3 574.5,89.4 570.1,90.5 566.8,87.2 563.5,85.0 M560.2,62.3 561.3,70.7 565.7,75.1 570.1,79.5 574.5,82.8 M571.4,66.7 570.1,75.1 573.4,79.5 M550.2,63.4 553.5,70.7 556.9,75.1 M575.6,71.8 576.7,80.6 579.4,83.3 M586.7,92.3 591.1,93.9 594.4,93.2 M581.2,97.6 582.3,93.9 585.6,92.8 M572.3,92.8 576.7,91.6 581.2,91.6 M523.0,24.3 585.1,24.3 585.1,23.4 586.5,25.0 592.2,25.2 597.7,26.5 608.1,29.8 611.0,30.9 613.4,37.5 611.7,39.8 620.9,38.0 619.8,36.9 626.7,35.3 630.2,33.1 637.5,33.1 639.1,32.0 640.8,29.4 642.6,27.8 644.8,28.0 645.7,28.7 645.7,31.8 647.4,33.8 M483.9,-1.1 483.9,0.4 491.7,2.2 496.1,0.7 500.5,3.3 506.0,8.8 508.2,9.3 507.6,11.5 M521.1,39.8 550.2,39.8 565.6,42.0 570.1,42.0 570.1,44.2 584.9,44.2 585.6,44.6 586.5,46.2 M521.1,30.5 528.1,31.8 532.5,30.9 537.0,30.9 M530.3,39.8 530.3,46.4 542.3,55.2 542.0,60.3 M537.0,24.3 537.0,30.9 538.1,32.0 537.0,34.7 537.0,39.8 M539.2,24.3 539.2,27.6 542.5,29.8 543.6,32.0 545.8,34.2 550.2,34.2 550.2,33.1 M543.6,39.8 543.6,54.1 542.3,55.2 M550.2,33.1 550.2,42.0 554.6,42.0 554.6,63.4 M565.6,24.3 565.6,42.0 M565.6,33.1 550.2,33.1 M570.1,42.0 570.1,50.8 567.9,50.8 567.9,61.8 559.9,61.8 M543.6,50.8 570.1,50.8 586.5,50.8 M582.0,24.3 582.3,30.9 582.3,32.5 582.3,36.4 M565.6,30.9 582.3,30.9 M565.6,37.5 577.8,37.5 582.3,38.6 583.4,39.8 M570.1,44.2 584.9,44.2 M574.5,50.8 574.5,51.9 567.9,51.9 M574.5,51.9 574.5,56.3 576.7,57.0 581.2,57.9 585.6,57.6 587.7,58.3 M586.5,46.2 586.5,51.9 586.9,54.3 587.7,58.3 587.7,59.6 587.8,62.1 588.9,64.0 588.2,66.9 M586.5,51.9 596.6,51.9 597.7,53.0 596.6,55.2 594.4,59.6 594.0,64.0 597.3,64.0 597.5,65.8 M587.7,59.6 594.4,59.6 M582.3,36.4 594.0,36.4 595.3,38.6 594.4,42.8 593.3,43.3 583.8,42.8 M593.3,43.3 596.6,47.5 598.4,50.8 597.7,51.9 M591.5,29.4 591.1,32.0 594.0,36.4 M595.3,38.6 601.5,38.6 M602.1,40.4 602.1,48.6 601.0,49.0 600.8,49.7 599.9,50.8 M599.9,50.8 598.4,50.8 M608.1,40.4 608.1,46.2 605.5,48.6 602.1,48.6 M602.1,40.4 608.1,40.4 611.2,40.4 M617.6,39.8 617.6,42.8 617.6,44.8 619.8,44.8 628.0,44.8 628.7,44.6 M608.1,46.2 612.1,47.3 613.0,47.7 615.4,49.0 M597.7,51.9 615.0,51.7 627.8,51.8 M596.6,55.2 600.6,55.2 606.3,55.2 609.2,55.2 612.1,55.0 616.5,54.8 620.9,56.8 622.0,57.6 M599.9,55.2 600.2,64.0 600.2,65.4 M606.3,55.2 607.7,61.8 607.7,64.0 601.9,64.0 602.1,65.4 M607.7,64.0 607.9,64.7 614.3,64.9 615.4,64.7 M612.1,55.0 612.5,55.4 616.1,61.4 M615.0,51.7 613.0,47.7 617.6,44.8 M615.4,49.0 618.1,49.7 622.0,46.4 623.6,45.7 624.2,45.9 M619.4,39.8 629.1,39.8 630.4,41.3 632.9,42.0 M628.4,45.0 628.0,44.8 629.5,47.5 M632.6,33.1 633.5,38.2 633.1,41.5 M633.5,38.2 636.8,39.8 636.8,41.3 M633.1,39.8 636.8,39.8 639.1,38.0 M637.5,33.1 638.6,37.5 639.3,37.3 M635.3,33.1 635.3,38.2 M552.4,24.3 552.4,-1.1 M543.5,24.3 541.4,22.1 538.1,19.9 534.8,17.0 530.3,13.7 530.3,-1.1 M570.1,24.3 571.2,-1.1 M585.1,23.4 585.1,15.9 598.8,7.1 M619.8,18.8 619.8,27.6 620.9,29.8 625.4,31.4 630.9,32.7 M645.7,28.7 643.0,27.4 644.1,26.5 649.2,26.5 M654.1,18.8 669.5,18.8 M654.1,18.8 648.6,16.6 646.3,11.0 653.0,0.0 M-4.0,36.7 1.5,38.0 7.1,38.9 M791.5,36.7 797.0,38.0 802.6,38.9 M778.9,50.3 779.4,47.5 780.0,45.0 778.9,44.2 780.3,40.0 777.4,39.8 M5.5,19.7 9.1,22.1 12.8,23.2 14.1,23.2 18.1,24.3 16.8,27.4 15.2,27.6 13.3,30.3 15.5,31.1 14.6,32.9 15.5,34.9 16.6,35.8 M7.5,19.0 11.0,19.0 13.3,20.3 14.1,23.2 M13.0,14.6 15.7,17.2 13.3,20.3 M19.0,11.3 21.9,11.5 M16.8,27.4 21.2,27.6 23.2,27.6 27.0,27.2 28.7,27.6 28.7,25.8 30.5,24.7 27.6,23.2 26.7,21.4 32.7,20.1 32.3,16.6 31.4,13.5 M15.5,31.1 18.8,30.5 19.9,31.4 23.2,29.8 27.4,28.7 30.3,29.8 M21.2,27.6 21.0,28.7 23.2,29.2 M28.7,25.8 32.7,24.7 37.3,25.2 37.6,26.5 36.5,27.6 35.6,29.2 30.3,29.8 30.1,32.0 M26.7,21.4 32.7,20.1 36.0,20.5 41.5,23.2 39.3,24.5 37.3,25.2 M41.5,23.2 49.7,24.1 48.8,25.6 45.3,25.4 41.5,26.9 38.0,26.5 M32.3,16.6 33.1,19.9 36.0,20.5 M49.7,24.1 53.0,21.0 51.9,17.7 51.9,14.4 50.4,12.4 43.3,12.4 M50.4,12.4 47.3,10.4 48.6,8.0 46.4,8.6 M51.9,13.5 57.5,12.6 58.8,9.5 61.9,8.6 55.2,8.4 48.6,8.0 M61.9,8.6 61.2,6.0 57.5,4.4 61.2,4.6 60.5,2.4 61.9,1.1 M53.0,21.0 52.8,17.7 70.7,17.7 70.3,17.4 M61.9,8.6 70.3,11.0 70.3,17.4 76.0,19.4 79.5,21.4 84.0,22.3 88.4,23.0 87.7,26.9 84.4,28.5 M48.8,25.6 50.6,26.7 55.0,27.2 58.8,26.1 62.3,26.1 65.6,30.0 62.3,32.0 M50.6,26.7 48.6,27.6 46.4,30.3 44.6,30.7 41.5,31.1 38.2,31.1 36.2,29.4 M44.6,30.7 47.5,33.1 50.2,34.2 49.5,35.3 50.6,37.1 49.5,39.1 45.5,41.7 45.1,39.1 42.9,40.0 M50.2,34.2 56.3,36.0 61.9,35.8 63.2,36.0 M49.5,39.1 50.8,41.3 57.7,40.4 61.9,39.8 M45.5,41.7 46.4,42.8 44.4,45.0 M50.8,41.3 49.7,41.7 46.4,42.2 M57.7,40.4 58.8,41.3 57.9,42.8 M36.2,29.4 34.5,30.5 34.3,32.0 36.5,32.7 42.0,33.3 42.4,35.3 43.1,37.5 40.9,38.6 M36.5,32.7 38.7,33.1 41.5,31.1 M34.9,32.7 36.5,35.3 38.7,37.5 M42.4,35.3 45.5,35.8 47.5,33.1 M42.0,36.9 44.9,38.0 45.5,39.3 M79.1,59.2 85.7,58.7 86.8,61.4 81.8,62.9 84.0,66.2 80.7,67.6 77.3,67.4 M79.1,53.4 80.9,51.2 84.0,51.2 89.5,50.8 93.5,50.6 91.3,56.3 85.7,58.7 M93.5,50.6 99.0,50.3 97.9,47.7 99.0,44.8 M99.0,44.8 96.3,42.2 94.6,40.9 91.9,40.6 M96.3,42.2 99.4,41.5 102.8,42.0 102.8,40.2 99.2,38.0 96.1,37.8 88.4,36.7 M102.8,40.2 105.0,41.3 107.4,40.2 M99.0,44.8 101.6,46.6 106.1,47.7 108.1,47.7 M99.0,50.3 100.5,54.1 101.6,59.6 105.0,61.8 106.1,65.1 107.4,66.2 M91.3,56.3 94.6,62.9 98.8,68.0 102.8,68.2 105.4,69.6 107.2,70.2 M105.4,69.6 105.0,68.5 106.1,67.6 M86.8,61.4 89.5,62.3 94.6,62.9 M77.3,67.4 82.9,67.4 M98.8,68.0 105.4,69.6 M114.0,78.8 116.0,82.8 122.6,83.9 123.7,88.3 121.5,89.4 114.9,90.5 115.3,95.6 M122.6,83.9 122.0,82.4 123.7,79.5 124.6,77.5 M96.1,95.8 99.4,93.9 103.9,95.0 107.8,92.8 114.9,90.5 M117.1,50.1 122.6,48.6 126.4,48.1 131.5,49.7 134.8,51.7 135.2,53.9 133.7,58.5 134.8,63.2 136.6,64.0 137.0,67.4 135.9,70.7 139.2,74.0 136.1,76.8 M135.2,53.9 139.2,54.1 142.5,52.3 144.7,50.1 149.8,50.3 154.7,49.7 158.0,50.8 165.5,49.9 M134.8,63.2 139.2,67.4 146.7,66.7 147.4,63.6 151.4,62.3 153.1,58.5 156.9,57.4 158.2,54.1 158.0,50.8 165.3,50.3 M117.1,50.1 117.1,40.9 123.7,41.3 123.7,33.1 129.3,32.0 M122.6,48.6 128.2,47.5 131.5,44.2 137.0,44.2 141.4,46.4 144.7,48.1 149.8,50.3 M117.1,40.9 123.5,41.3 128.2,38.6 132.6,39.8 134.8,41.5 138.1,36.4 145.8,37.5 144.7,33.1 134.8,34.2 129.3,32.0 M141.4,46.4 146.9,46.4 151.4,44.2 156.9,43.7 161.3,45.3 154.7,42.4 161.8,43.1 156.9,39.3 154.7,40.9 152.5,41.3 145.8,39.8 M161.3,45.3 165.7,43.1 169.7,43.1 173.5,40.9 177.2,39.3 169.0,38.0 164.6,37.5 159.1,38.4 156.9,39.3 M149.8,50.3 152.5,50.8 156.9,47.5 162.4,47.5 165.5,49.9 M177.2,39.3 177.9,33.1 182.3,32.0 183.4,28.3 188.9,28.7 192.2,24.3 187.8,23.2 179.0,20.3 170.1,14.8 162.4,13.2 154.7,11.0 150.3,11.0 143.6,11.9 134.8,13.2 134.8,16.1 132.6,18.8 126.0,19.9 121.5,20.8 117.1,18.8 112.7,19.4 106.1,22.1 103.9,24.3 102.8,25.6 105.0,27.4 108.3,29.8 M192.2,24.3 198.9,21.0 204.0,20.3 209.9,22.1 215.4,22.1 217.7,17.7 225.4,18.8 227.6,21.4 236.4,21.4 238.6,23.4 244.2,23.8 248.6,23.2 253.0,21.6 257.9,22.5 255.2,26.3 259.6,26.9 264.7,28.7 260.7,29.2 256.3,32.5 247.0,32.9 245.3,36.0 240.9,38.6 232.0,40.6 221.0,38.4 213.2,38.0 210.6,34.7 206.6,33.1 200.6,32.5 200.4,29.8 198.9,26.9 194.5,25.2 192.2,24.3 M257.9,22.5 260.3,23.2 264.5,21.2 267.4,16.6 272.9,14.4 277.3,15.5 281.7,22.1 288.4,24.7 289.5,27.2 293.9,26.1 298.3,25.6 296.1,28.7 295.0,33.1 290.6,33.3 289.5,36.9 288.8,38.9 M274.9,44.4 279.5,40.9 283.3,39.8 286.6,38.9 288.8,38.9 M278.6,49.0 280.6,48.6 283.7,47.3 M165.5,49.9 166.8,51.9 170.1,54.1 173.5,56.3 174.6,60.7 173.5,63.6 179.0,65.8 183.4,67.4 187.8,69.6 194.5,70.9 196.7,71.8 202.2,70.9 204.4,71.1 207.7,68.7 212.1,68.0 215.0,70.2 217.2,71.8 218.1,75.5 215.9,79.5 219.9,83.9 223.2,85.0 224.9,85.7 226.5,82.4 229.8,82.2 234.2,81.9 238.2,84.8 M165.5,49.9 164.6,56.3 163.5,59.6 165.7,61.2 164.6,64.0 163.5,66.2 156.9,71.1 154.7,72.9 155.8,75.7 153.6,79.1 151.4,80.2 M177.4,65.8 180.1,69.6 185.6,72.0 190.0,73.8 194.7,74.2 194.9,71.1 M194.7,74.2 196.7,76.8 195.6,78.8 196.0,81.7 196.7,84.4 M196.7,76.8 198.9,76.6 204.4,77.3 203.7,80.2 202.9,81.7 204.8,85.7 204.0,86.6 M196.7,71.8 198.4,73.5 203.3,73.3 204.4,71.1 M203.7,80.2 206.4,79.5 209.0,76.8 210.4,73.5 214.3,72.4 215.0,70.2 M215.9,79.5 219.4,83.7 221.2,87.5 223.2,89.2 217.9,89.0 215.0,91.6 215.9,96.1 M223.2,89.2 221.6,92.3 223.8,93.2 226.5,93.0 231.4,96.1 233.1,101.1 227.6,100.7 226.1,102.5 226.9,105.3 M224.9,85.7 226.5,89.4 229.8,90.1 232.5,91.9 235.6,93.9 237.5,97.2 237.5,100.5 235.3,100.5 233.1,101.1 M235.3,100.5 237.5,105.3 234.2,108.2 232.0,109.3 230.9,109.5 M221.2,118.1 223.2,118.8 225.4,119.0 M242.2,128.1 243.1,130.3 249.7,129.2 253.0,129.2 255.2,125.9 255.2,123.7 256.3,123.0 259.9,123.2 M253.0,121.7 254.6,121.9 255.2,121.5 M311.6,138.2 311.6,152.6 M275.1,152.8 276.4,153.5 M-4.0,55.0 -3.8,60.7 -8.2,64.5 -19.2,69.1 -19.2,71.3 M791.5,55.0 791.7,60.7 787.3,64.5 776.3,69.1 776.3,71.3 M776.3,71.3 766.3,71.3 M776.3,71.3 776.3,75.1 769.0,75.1 769.0,80.6 766.8,85.5 757.9,85.5 M776.3,72.2 784.9,77.3 783.3,96.3 770.3,98.0 768.5,100.3 759.0,96.7 M19.0,51.0 18.3,56.1 16.6,57.9 21.0,65.8 M21.0,65.8 21.9,71.8 22.1,76.6 26.5,80.6 M25.4,59.4 22.8,62.3 21.0,65.8 M26.5,80.6 12.8,89.7 9.3,90.3 M9.3,90.3 7.3,90.5 2.4,86.8 -10.6,77.3 M804.8,90.3 802.8,90.5 797.9,86.8 784.9,77.3 M55.2,62.7 55.2,83.9 M55.2,83.9 81.5,83.9 M55.2,83.9 55.2,88.3 53.0,88.3 53.0,89.4 M53.0,89.4 35.4,80.6 33.1,81.7 M33.1,81.7 30.9,82.6 26.5,80.6 M33.1,81.7 34.3,87.2 34.3,96.1 29.8,101.6 32.0,104.9 32.0,108.2 34.3,110.4 30.9,111.5 34.3,115.9 36.5,115.3 40.9,113.1 42.0,112.6 46.4,111.3 50.6,108.4 M9.3,90.3 9.3,96.1 2.9,98.7 0.4,99.6 M804.8,90.3 804.8,96.1 798.4,98.7 795.9,99.6 M0.4,99.6 -4.4,101.1 -9.9,104.5 -11.9,109.5 M795.9,99.6 791.1,101.1 785.6,104.5 783.6,109.5 M0.4,99.6 2.2,102.7 5.1,104.9 6.2,105.6 8.0,106.7 8.8,102.7 13.3,102.2 17.7,103.8 22.1,103.1 27.6,103.6 29.8,101.6 M795.9,99.6 797.7,102.7 800.6,104.9 801.7,105.6 803.5,106.7 804.3,102.7 808.8,102.2 813.2,103.8 817.6,103.1 823.1,103.6 825.3,101.6 M8.0,106.7 6.0,112.6 6.0,118.6 M5.1,104.9 2.2,104.2 0.0,108.2 0.4,114.8 2.7,119.0 M800.6,104.9 797.7,104.2 795.5,108.2 795.9,114.8 798.2,119.0 M0.0,108.2 -0.4,114.8 1.1,118.6 M795.5,108.2 795.1,114.8 796.6,118.6 M0.0,108.2 -6.2,108.2 -6.2,111.5 -5.5,114.8 -6.6,121.2 M795.5,108.2 789.3,108.2 789.3,111.5 790.0,114.8 788.9,121.2 M789.3,108.2 783.6,109.5 780.0,110.0 777.8,110.4 776.7,115.9 778.7,122.8 M776.7,115.9 773.4,113.7 770.8,117.0 770.1,117.3 M773.4,113.7 772.3,112.0 766.8,110.6 766.1,112.6 M777.8,110.4 776.7,107.1 770.3,105.1 765.2,104.5 758.6,105.1 M770.3,105.1 768.5,100.3 M765.2,104.5 762.4,106.0 761.7,107.8 M758.6,103.3 765.0,102.7 765.0,103.6 758.4,103.6 M18.8,122.6 19.9,119.3 25.4,117.3 27.6,113.7 29.8,110.4 32.0,108.2 M21.2,127.4 25.0,127.6 29.4,127.6 35.4,128.1 35.6,124.6 32.0,122.6 33.1,119.3 34.3,115.9 M25.0,127.6 25.0,130.3 20.8,130.3 M29.4,127.6 32.0,130.7 30.9,135.8 31.4,138.0 26.3,143.1 M35.4,128.1 39.1,133.6 38.2,136.9 36.0,140.2 33.8,141.8 27.2,145.8 M36.5,115.3 40.9,123.2 44.2,123.2 49.7,122.3 53.0,121.5 55.9,121.2 60.5,121.2 60.8,118.8 62.8,111.7 51.9,113.3 50.6,108.4 M50.6,108.4 50.8,106.0 49.7,104.5 49.7,101.6 53.0,97.8 53.0,89.4 M60.5,121.2 66.3,124.3 68.5,124.3 74.0,124.1 79.3,122.3 76.2,118.1 72.9,114.8 75.6,113.5 75.8,109.3 77.8,108.2 80.7,103.8 80.7,100.9 85.3,92.8 M62.8,111.7 68.5,110.9 71.8,106.0 72.9,105.6 72.5,110.4 75.1,110.0 M80.7,100.9 88.4,100.7 91.7,102.7 93.7,104.9 M93.7,104.9 94.6,108.2 95.7,107.1 M94.6,108.2 97.2,112.6 105.8,115.1 99.4,121.5 92.8,123.7 90.6,123.9 M90.6,123.9 90.6,135.8 91.7,136.3 M90.6,123.9 86.2,124.8 79.3,122.3 M75.1,123.2 77.3,129.2 75.1,132.5 M74.9,134.7 83.3,139.1 86.6,142.9 M89.5,155.7 82.9,158.1 79.1,157.9 76.5,157.9 M66.3,124.3 66.1,130.3 65.4,135.6 64.1,138.7 64.7,142.4 68.1,150.8 M65.4,135.6 68.1,134.7 67.4,137.8 64.7,140.0 M68.1,134.7 74.9,134.7 M68.1,150.8 72.7,153.3 74.5,156.8 73.6,160.1 72.3,162.5 66.7,166.9 M73.6,160.1 76.5,162.3 78.0,170.0 76.2,166.7 M66.7,166.9 61.9,167.8 55.9,171.8 59.2,172.5 61.9,175.1 64.5,178.9 69.2,182.0 71.6,179.5 72.9,174.5 72.7,169.4 67.2,166.9 M68.1,150.8 63.9,151.3 63.0,155.7 64.5,159.7 60.8,159.4 56.3,157.2 53.7,156.8 53.0,161.2 48.6,161.2 48.6,168.3 51.9,171.8 55.9,171.8 M53.7,156.8 49.3,156.8 48.6,153.7 46.4,148.0 44.2,148.0 38.7,150.2 36.5,145.5 27.2,145.8 M51.9,171.8 46.2,172.9 46.4,181.1 44.2,181.1 44.2,187.3 44.2,195.4 39.8,196.3 36.5,195.7 M44.2,187.3 48.6,189.5 56.3,188.8 59.7,185.5 64.5,181.5 69.2,182.0 70.7,187.7 70.7,191.7 72.7,191.9 M26.1,170.7 29.8,170.0 40.9,171.1 46.4,172.2 51.9,171.8 M59.7,197.9 63.0,195.7 65.0,197.4 62.3,200.1 59.7,197.9 M68.5,189.3 70.7,190.6 69.2,192.8 68.5,189.3 M21.2,123.9 21.2,127.4 M543.1,70.7 546.2,70.7 M555.5,63.4 555.7,70.7 554.9,73.8 M554.9,73.8 558.0,75.1 561.3,80.6 562.4,82.8 M564.6,67.1 566.8,72.9 565.2,75.1 M565.2,75.1 566.8,79.5 566.1,82.8 565.0,83.9 M573.9,71.1 572.3,75.1 573.4,77.3 572.3,79.5 M575.6,71.8 575.2,78.4 575.6,81.7 577.8,83.5 M567.9,90.5 569.0,87.2 566.8,85.0 M571.2,92.8 573.4,91.4 574.5,89.4 M577.8,96.1 577.8,93.2 579.4,91.6 M583.4,91.6 586.7,95.0 587.8,96.7 M595.7,86.1 597.7,88.3 596.6,91.6 M601.0,85.0 598.8,89.4 598.4,93.2 M572.3,82.8 574.5,85.7 578.9,86.1 M567.9,83.9 569.0,80.6 572.3,79.5" fill="none" stroke="#006400" stroke-width="1.4" stroke-linejoin="round" stroke-linecap="round"/><path d="M-13.0,53.4 -4.4,55.0 0.0,53.2 6.6,51.2 14.4,50.6 22.1,50.3 24.3,51.0 23.2,54.1 24.7,57.9 22.5,58.3 25.4,59.4 29.2,59.8 33.6,61.2 37.6,63.4 42.0,65.6 44.4,63.6 44.4,61.4 48.2,59.8 51.3,61.2 55.2,62.7 60.3,63.2 66.1,63.6 71.4,63.4 75.6,63.4 77.1,67.4 75.8,70.4 75.6,71.1 74.0,69.6 72.0,66.5 72.9,69.6 74.7,72.4 76.5,75.7 78.4,79.7 81.5,83.9 82.2,89.2 85.3,92.8 87.7,98.0 91.7,102.0 95.7,104.9 95.5,107.1 98.3,109.5 103.9,108.0 108.3,107.5 113.1,106.4 112.7,109.5 110.0,114.8 107.2,120.8 103.9,124.8 100.1,128.1 96.1,130.7 93.9,133.4 90.4,137.6 87.7,141.6 86.0,145.8 86.8,147.5 87.1,151.3 88.8,155.2 89.5,161.2 89.9,164.5 88.2,168.3 81.5,172.0 76.9,176.2 78.0,181.1 78.2,185.3 72.0,189.7 72.5,193.2 68.5,198.5 65.2,202.1 61.7,205.4 56.6,207.6 50.8,207.6 44.2,209.3 40.7,207.4 39.6,205.4 38.2,199.9 36.5,195.7 33.4,191.2 32.0,183.1 29.2,176.7 26.1,170.7 27.0,166.1 29.6,160.3 30.1,155.9 29.2,151.9 27.2,145.8 26.3,143.1 23.2,139.1 20.6,134.7 19.2,133.8 20.8,131.6 21.2,127.0 21.2,123.9 18.8,122.6 15.5,122.8 13.3,123.0 11.0,120.4 9.3,118.6 7.5,118.4 3.3,118.8 -0.4,120.1 -4.4,122.1 -8.8,120.8 -13.0,121.5 -17.0,122.8 -21.0,120.8 -23.9,118.6 -27.6,116.2 -29.2,113.7 -30.3,111.5 -32.5,108.9 -34.5,106.2 -36.9,104.9 -36.7,102.9 -38.7,100.0 -36.5,96.7 -35.6,91.6 -36.5,89.4 -35.8,87.9 -37.6,86.1 -36.0,82.8 -35.1,80.2 -32.5,76.4 -30.1,73.3 -28.5,70.9 -25.0,70.2 -21.7,67.4 -21.2,65.4 -21.7,62.9 -19.0,59.4 -16.8,58.3 -15.0,57.4 -13.7,54.1 -13.0,53.4 M782.5,53.4 791.1,55.0 795.5,53.2 802.1,51.2 809.9,50.6 817.6,50.3 819.8,51.0 818.7,54.1 820.2,57.9 818.0,58.3 820.9,59.4 824.7,59.8 829.1,61.2 833.1,63.4 837.5,65.6 839.9,63.6 839.9,61.4 843.7,59.8 846.8,61.2 850.7,62.7 855.8,63.2 861.6,63.6 866.9,63.4 871.1,63.4 872.6,67.4 871.3,70.4 871.1,71.1 869.5,69.6 867.5,66.5 868.4,69.6 870.2,72.4 872.0,75.7 873.9,79.7 877.0,83.9 877.7,89.2 880.8,92.8 883.2,98.0 887.2,102.0 891.2,104.9 891.0,107.1 893.8,109.5 899.4,108.0 903.8,107.5 908.6,106.4 908.2,109.5 905.5,114.8 902.7,120.8 899.4,124.8 895.6,128.1 891.6,130.7 889.4,133.4 885.9,137.6 883.2,141.6 881.5,145.8 882.3,147.5 882.6,151.3 884.3,155.2 885.0,161.2 885.4,164.5 883.7,168.3 877.0,172.0 872.4,176.2 873.5,181.1 873.7,185.3 867.5,189.7 868.0,193.2 864.0,198.5 860.7,202.1 857.2,205.4 852.1,207.6 846.3,207.6 839.7,209.3 836.2,207.4 835.1,205.4 833.7,199.9 832.0,195.7 828.9,191.2 827.5,183.1 824.7,176.7 821.6,170.7 822.5,166.1 825.1,160.3 825.6,155.9 824.7,151.9 822.7,145.8 821.8,143.1 818.7,139.1 816.1,134.7 814.7,133.8 816.3,131.6 816.7,127.0 816.7,123.9 814.3,122.6 811.0,122.8 808.8,123.0 806.5,120.4 804.8,118.6 803.0,118.4 798.8,118.8 795.1,120.1 791.1,122.1 786.7,120.8 782.5,121.5 778.5,122.8 774.5,120.8 771.6,118.6 767.9,116.2 766.3,113.7 765.2,111.5 763.0,108.9 761.0,106.2 758.6,104.9 758.8,102.9 756.8,100.0 759.0,96.7 759.9,91.6 759.0,89.4 759.7,87.9 757.9,86.1 759.5,82.8 760.4,80.2 763.0,76.4 765.4,73.3 767.0,70.9 770.5,70.2 773.8,67.4 774.3,65.4 773.8,62.9 776.5,59.4 778.7,58.3 780.5,57.4 781.8,54.1 782.5,53.4 M108.9,159.0 110.9,164.5 111.6,166.7 109.4,171.1 107.6,176.7 106.1,181.1 104.1,187.5 99.9,189.0 97.2,187.3 96.3,184.2 95.7,180.0 97.9,175.6 97.2,171.1 98.1,168.3 102.3,167.2 105.8,162.5 108.9,159.0 M48.6,-1.1 47.3,0.0 47.5,6.0 46.6,8.8 46.6,9.5 44.2,11.3 43.3,12.4 41.1,12.4 37.6,11.7 31.6,13.5 26.5,12.8 24.1,13.2 22.3,12.6 22.1,11.0 23.2,7.7 23.4,5.1 21.0,6.4 19.0,6.4 18.1,9.9 19.0,13.5 15.5,14.4 10.6,15.5 9.3,17.7 7.1,19.2 4.2,19.9 3.5,21.6 0.2,23.2 -3.5,23.0 -3.5,25.0 -6.6,24.7 -9.9,25.6 -9.5,26.9 -5.1,28.3 -2.7,30.9 -2.7,34.0 -4.0,36.7 -11.0,36.4 -17.7,36.0 -20.6,37.5 -19.7,38.6 -19.2,41.5 -19.7,44.2 -21.0,47.0 -19.4,47.5 -19.9,50.8 -16.4,50.3 -13.9,51.9 -12.4,53.0 -9.7,51.5 -4.9,51.2 -1.1,47.9 0.4,46.8 -0.7,45.3 2.0,42.0 4.9,41.1 7.1,39.1 6.6,37.5 10.6,36.7 16.1,36.0 19.7,34.5 22.8,36.4 24.5,38.9 27.0,40.2 31.4,42.4 34.7,44.2 34.5,48.1 35.4,48.6 36.7,47.5 37.8,46.4 36.5,44.8 38.0,43.1 40.9,43.9 37.3,41.7 35.1,40.0 31.6,38.9 29.8,36.2 27.2,34.2 27.2,32.2 30.3,31.6 30.1,33.1 32.0,32.5 35.1,36.2 40.0,38.4 42.9,40.0 42.9,42.8 44.4,45.3 46.4,47.9 48.0,51.2 49.7,52.1 50.8,51.9 51.3,48.8 53.0,48.1 50.6,42.8 53.0,42.6 57.5,42.4 58.6,43.1 60.8,42.0 64.1,41.5 61.9,40.6 61.7,37.1 63.2,34.9 65.6,32.7 67.8,29.8 71.8,30.7 74.0,32.9 73.8,34.2 76.2,34.2 80.7,32.5 78.0,32.2 77.3,30.9 84.0,28.7 87.3,28.3 84.4,30.0 83.7,31.8 83.3,33.8 87.7,36.2 91.9,40.6 88.4,42.0 81.8,41.7 80.2,41.3 77.3,39.8 72.9,40.0 69.2,41.7 64.3,41.5 64.7,42.6 59.7,43.3 57.9,45.3 59.2,47.7 60.3,50.8 62.3,51.5 65.4,52.6 67.6,51.2 71.8,52.8 76.5,51.2 80.0,51.5 79.1,54.1 78.4,57.6 77.3,60.1 76.2,62.9 75.6,63.4 M844.1,-1.1 842.8,0.0 843.0,6.0 842.1,8.8 842.1,9.5 839.7,11.3 838.8,12.4 836.6,12.4 833.1,11.7 827.1,13.5 822.0,12.8 819.6,13.2 817.8,12.6 817.6,11.0 818.7,7.7 818.9,5.1 816.5,6.4 814.5,6.4 813.6,9.9 814.5,13.5 811.0,14.4 806.1,15.5 804.8,17.7 802.6,19.2 799.7,19.9 799.0,21.6 795.7,23.2 792.0,23.0 792.0,25.0 788.9,24.7 785.6,25.6 786.0,26.9 790.4,28.3 792.8,30.9 792.8,34.0 791.5,36.7 784.5,36.4 777.8,36.0 774.9,37.5 775.8,38.6 776.3,41.5 775.8,44.2 774.5,47.0 776.1,47.5 775.6,50.8 779.1,50.3 781.6,51.9 783.1,53.0 785.8,51.5 790.6,51.2 794.4,47.9 795.9,46.8 794.8,45.3 797.5,42.0 800.4,41.1 802.6,39.1 802.1,37.5 806.1,36.7 811.6,36.0 815.2,34.5 818.3,36.4 820.0,38.9 822.5,40.2 826.9,42.4 830.2,44.2 830.0,48.1 830.9,48.6 832.2,47.5 833.3,46.4 832.0,44.8 833.5,43.1 836.4,43.9 832.8,41.7 830.6,40.0 827.1,38.9 825.3,36.2 822.7,34.2 822.7,32.2 825.8,31.6 825.6,33.1 827.5,32.5 830.6,36.2 835.5,38.4 838.4,40.0 838.4,42.8 839.9,45.3 841.9,47.9 843.5,51.2 845.2,52.1 846.3,51.9 846.8,48.8 848.5,48.1 846.1,42.8 848.5,42.6 853.0,42.4 854.1,43.1 856.3,42.0 859.6,41.5 857.4,40.6 857.2,37.1 858.7,34.9 861.1,32.7 863.3,29.8 867.3,30.7 869.5,32.9 869.3,34.2 871.7,34.2 876.2,32.5 873.5,32.2 872.8,30.9 879.5,28.7 882.8,28.3 879.9,30.0 879.2,31.8 878.8,33.8 883.2,36.2 887.4,40.6 883.9,42.0 877.3,41.7 875.7,41.3 872.8,39.8 868.4,40.0 864.7,41.7 859.8,41.5 860.2,42.6 855.2,43.3 853.4,45.3 854.7,47.7 855.8,50.8 857.8,51.5 860.9,52.6 863.1,51.2 867.3,52.8 872.0,51.2 875.5,51.5 874.6,54.1 873.9,57.6 872.8,60.1 871.7,62.9 871.1,63.4 M77.1,67.4 79.1,71.8 80.7,74.6 82.9,78.2 84.2,79.5 86.6,85.0 89.5,89.4 91.5,92.8 93.9,95.2 94.6,99.8 96.1,104.5 99.4,104.2 103.9,102.7 107.2,101.6 108.5,100.5 112.7,98.9 115.3,98.0 118.2,96.3 122.6,94.3 125.5,91.4 127.7,90.5 129.9,87.2 132.1,82.8 129.5,80.4 126.0,79.1 124.6,77.5 124.4,74.2 122.2,76.6 119.3,79.1 114.9,79.5 114.0,78.8 114.0,75.3 113.1,74.9 112.3,78.0 110.9,74.0 109.4,72.2 107.2,70.2 106.1,67.6 107.4,66.2 109.4,66.2 111.1,67.8 112.3,68.7 113.8,70.9 116.0,72.0 120.4,73.8 124.4,72.4 126.6,75.5 130.4,76.4 136.1,76.8 140.3,76.8 147.4,76.4 148.1,77.7 151.4,80.6 155.3,81.9 152.5,83.0 154.7,86.1 156.4,86.8 159.3,85.7 160.4,85.5 160.9,90.5 162.4,97.2 163.1,98.3 165.3,104.0 167.5,107.8 168.6,110.6 171.3,114.6 172.8,113.1 175.2,109.8 176.3,106.2 177.4,103.6 177.0,98.3 181.9,95.6 184.1,93.4 188.9,88.8 192.0,86.6 194.2,83.9 196.7,84.4 200.0,83.3 202.9,83.3 204.0,86.6 205.5,89.4 208.4,92.8 208.4,97.2 211.0,97.6 212.6,95.4 215.7,96.1 215.9,99.4 217.0,102.2 217.9,110.4 217.2,114.8 217.9,115.1 221.6,120.4 224.1,126.3 228.7,129.6 230.3,129.4 228.5,124.1 228.5,121.9 225.8,118.8 222.1,116.6 220.3,113.3 219.2,110.0 221.0,104.7 223.0,102.7 225.4,104.7 227.4,106.9 230.9,109.5 232.0,113.5 235.8,109.5 238.2,108.9 240.6,107.5 241.3,104.9 241.5,102.0 239.3,96.9 236.9,95.0 235.6,92.8 233.8,90.5 235.6,87.2 238.6,85.0 242.4,85.0 243.1,87.7 244.2,87.9 245.3,85.0 250.4,83.5 252.4,83.3 257.9,80.8 261.0,78.4 264.1,75.3 266.7,70.9 269.4,66.5 269.4,64.0 267.2,60.5 263.6,56.1 265.8,53.0 270.7,49.9 267.2,49.0 263.0,50.3 260.3,47.3 264.3,44.4 268.3,42.2 270.0,43.1 267.6,46.6 270.2,45.3 274.9,44.4 276.4,47.3 279.8,49.9 279.1,55.2 279.5,56.8 282.2,55.9 285.1,55.0 285.9,53.0 285.9,49.7 283.7,47.3 281.7,44.6 284.2,43.5 286.6,42.0 288.8,39.1 291.5,37.3 293.9,38.0 299.0,35.8 304.3,32.0 310.0,25.8 310.5,22.1 312.5,17.2 312.2,15.2 307.2,13.2 303.8,13.2 298.8,11.7 301.6,9.9 306.0,7.7 310.5,3.3 316.0,1.5 324.8,1.5 331.5,0.9 335.9,2.2 342.5,1.1 346.5,-2.2 M354.7,-2.2 353.1,-1.1 359.1,0.4 360.6,4.4 358.0,8.6 357.5,11.0 353.6,12.8 350.5,15.5 346.3,19.9 344.7,15.9 344.1,11.0 346.0,5.5 349.1,4.4 353.6,1.1 355.8,-0.7 M10.8,-1.1 11.0,0.0 12.2,2.2 12.6,2.4 15.5,4.4 17.7,4.2 21.0,2.2 23.2,1.1 23.6,2.2 25.4,3.3 26.5,5.1 27.6,7.7 28.3,8.8 28.5,10.2 31.4,10.2 32.5,8.4 35.4,8.2 36.7,5.5 37.1,3.3 39.8,1.5 41.5,0.0 38.7,-1.5 M-12.6,21.9 -8.8,21.2 -3.1,20.3 3.1,19.4 3.8,16.3 0.7,15.5 -0.2,12.8 -3.3,11.0 -4.4,9.1 -6.6,8.6 -5.5,7.1 -4.0,5.5 -7.7,5.1 -6.9,3.1 -11.0,3.1 -12.6,5.5 -12.4,8.2 -10.8,9.7 -11.0,11.5 -6.9,11.3 -7.3,13.2 -6.6,14.6 -10.2,14.8 -9.9,15.9 -9.1,17.0 -11.5,18.1 -7.1,19.0 -9.3,19.7 -12.6,21.9 M782.9,21.9 786.7,21.2 792.4,20.3 798.6,19.4 799.3,16.3 796.2,15.5 795.3,12.8 792.2,11.0 791.1,9.1 788.9,8.6 790.0,7.1 791.5,5.5 787.8,5.1 788.6,3.1 784.5,3.1 782.9,5.5 783.1,8.2 784.7,9.7 784.5,11.5 788.6,11.3 788.2,13.2 788.9,14.6 785.3,14.8 785.6,15.9 786.4,17.0 784.0,18.1 788.4,19.0 786.2,19.7 782.9,21.9 M782.2,17.2 781.8,14.8 782.5,11.9 779.6,10.4 776.9,11.0 776.7,12.6 773.4,12.8 773.6,14.6 774.5,16.3 772.5,17.9 773.8,18.8 777.4,18.1 781.4,17.2 782.2,17.2 M27.4,49.0 29.6,48.1 34.5,47.9 33.4,50.8 31.6,50.8 27.4,49.0 M18.6,42.0 21.2,42.0 21.4,45.9 18.8,46.6 18.6,44.2 18.6,42.0 M19.2,37.8 21.0,37.8 20.8,41.1 19.4,40.6 19.2,37.8 M51.9,54.1 58.1,54.8 54.1,55.4 51.9,54.1 M71.4,55.2 76.5,53.9 74.9,56.1 71.6,55.9 71.4,55.2 M103.9,33.8 103.6,31.8 105.2,31.6 108.7,30.0 112.7,28.7 117.1,28.9 117.6,32.5 113.4,32.7 112.7,34.7 111.1,34.5 113.4,37.1 116.5,38.4 116.7,41.5 118.9,42.8 117.1,44.2 119.1,49.9 114.7,51.2 110.7,49.9 108.3,47.9 109.2,43.5 111.4,43.1 108.7,41.5 107.4,40.2 105.0,37.8 104.5,35.3 103.9,33.8 M128.6,32.0 131.5,32.0 135.0,33.6 132.6,36.4 129.3,35.3 128.6,32.0 M162.4,32.7 166.8,29.8 174.6,29.6 170.1,30.5 164.6,31.4 162.4,32.7 M176.6,110.9 179.4,113.7 181.0,115.9 179.4,119.0 177.0,119.3 176.3,114.8 176.6,110.9 M267.4,76.6 269.6,77.3 268.5,81.7 266.9,84.1 265.4,81.5 267.4,76.6 M240.0,90.1 244.4,88.1 245.3,89.2 242.2,92.3 240.0,91.6 240.0,90.1 M286.4,59.2 289.3,57.6 291.5,59.6 290.1,63.2 287.7,63.6 286.8,60.3 286.4,59.2 M289.3,57.4 292.8,54.1 300.1,53.7 302.3,50.1 305.4,49.0 308.9,46.4 309.4,42.6 312.5,41.1 313.6,44.2 311.6,47.9 311.3,51.0 311.1,53.7 308.9,55.2 306.7,56.1 302.7,56.1 302.3,56.8 300.1,58.5 298.5,56.8 293.9,56.8 289.3,57.4 M292.8,59.0 293.9,57.4 297.4,57.0 297.6,57.9 295.0,58.7 292.8,59.0 M309.4,40.9 312.0,40.2 316.4,39.8 321.5,36.9 319.3,35.3 313.1,32.2 312.7,36.9 310.0,37.1 309.4,38.6 309.4,40.9 M313.8,30.9 317.1,29.2 314.9,26.5 316.0,19.9 316.4,15.5 314.9,12.6 313.8,15.5 314.2,19.9 313.3,25.4 313.8,30.9 M266.5,91.6 268.0,91.4 270.0,91.6 270.7,94.3 270.0,96.5 268.7,97.6 268.3,100.3 269.1,101.4 270.9,101.1 271.8,102.0 273.8,102.0 274.4,103.8 273.1,104.5 271.8,103.6 270.7,102.9 269.1,101.8 267.4,102.5 266.5,100.9 267.2,100.0 266.3,99.6 264.9,97.4 266.1,96.1 266.1,93.6 266.5,91.6 M269.6,117.0 270.0,115.1 271.8,113.7 273.1,113.5 274.7,113.7 275.8,112.6 277.3,111.1 278.9,112.2 279.8,116.4 278.9,118.6 277.8,119.3 277.1,120.1 276.4,119.0 274.4,118.8 273.8,116.4 271.8,115.9 269.8,117.3 269.6,117.0 M274.7,104.7 276.9,104.9 277.8,108.0 276.2,108.2 274.7,106.9 274.7,104.7 M269.4,106.2 270.9,106.9 272.0,107.8 270.9,109.3 269.6,109.3 269.4,106.2 M271.6,108.4 272.9,109.3 272.2,112.0 270.9,111.7 270.5,110.2 271.6,108.4 M259.0,114.0 260.7,112.6 262.5,110.6 264.3,109.3 263.8,107.5 263.0,109.5 261.2,111.3 259.4,113.1 259.0,114.0 M265.8,102.7 267.8,102.9 268.5,104.7 267.6,105.6 266.1,104.5 265.8,102.7 M240.9,129.2 242.2,128.1 245.7,127.0 249.9,125.2 255.2,120.8 258.1,117.3 260.1,118.8 263.6,120.8 260.7,122.6 259.6,124.8 260.7,130.3 259.6,132.5 257.9,135.8 257.4,139.8 253.0,140.7 249.7,139.6 245.3,139.1 243.1,136.9 240.9,132.5 240.9,129.2 M210.6,120.1 215.4,121.0 218.1,124.1 221.9,127.4 224.3,128.7 227.6,131.0 229.4,134.5 230.9,136.5 233.8,138.7 234.2,139.6 234.0,145.1 231.1,145.5 226.1,141.3 223.2,138.7 221.6,134.5 219.2,131.8 218.1,128.7 215.7,126.5 213.0,123.9 210.6,120.1 M232.5,147.5 234.2,145.5 239.3,146.4 244.0,147.7 248.8,147.7 252.8,149.5 253.0,151.7 247.5,150.8 244.0,150.4 238.6,149.5 235.1,148.8 232.5,147.5 M253.0,150.4 255.7,151.1 257.4,151.3 257.0,152.2 254.6,151.9 253.0,150.4 M258.1,151.5 263.0,150.6 262.5,151.9 258.1,152.2 258.1,151.5 M264.7,151.3 271.8,150.8 271.4,151.7 265.2,152.2 264.7,151.3 M272.9,155.2 276.7,151.5 281.3,151.1 276.2,153.5 272.9,155.2 M263.0,153.7 266.9,155.0 265.2,153.3 263.0,153.7 M263.8,144.6 264.3,140.2 262.5,138.5 264.1,132.5 265.8,130.7 267.4,129.6 271.8,130.3 275.1,130.1 276.7,129.2 275.3,131.4 272.5,131.6 267.4,131.4 265.6,132.5 266.3,134.7 268.5,134.5 272.5,134.5 271.1,135.8 268.0,136.7 271.4,142.9 268.7,143.1 267.2,138.5 266.1,139.1 266.1,144.9 263.8,144.6 M281.7,127.6 284.4,129.2 282.8,131.4 284.8,133.2 282.6,134.3 281.7,131.4 281.7,127.6 M282.8,139.1 289.0,140.0 288.4,140.9 283.9,140.5 282.8,139.1 M278.4,139.6 281.1,139.8 279.5,140.9 278.4,139.6 M289.5,135.4 292.1,133.4 296.1,134.5 297.2,138.0 299.4,139.8 304.5,135.8 311.6,138.2 318.2,140.9 322.2,143.5 322.6,145.1 326.2,146.0 325.3,148.6 327.0,149.9 329.2,152.4 332.1,155.9 329.2,155.2 324.8,153.5 322.6,150.2 318.2,149.3 316.7,151.9 311.6,152.6 309.4,150.4 306.0,151.1 304.3,144.0 298.3,142.2 293.9,141.6 291.7,138.7 294.3,137.6 290.1,135.8 289.5,135.4 M328.1,144.6 331.5,144.2 334.8,141.8 336.3,142.0 334.1,144.6 331.5,146.4 328.1,144.6 M332.6,138.2 337.6,141.3 338.5,142.9 335.7,139.6 332.6,138.2 M342.5,144.6 344.3,146.9 346.9,149.7 351.3,150.8 354.7,153.5 356.9,155.2 M250.8,181.1 251.9,186.6 250.8,189.9 253.2,195.9 254.1,198.8 255.7,202.7 255.7,206.0 254.1,208.2 257.4,209.8 260.7,209.8 265.2,207.4 269.4,207.1 274.0,205.4 278.4,203.8 285.1,202.3 289.9,202.1 295.0,203.6 296.8,205.4 298.8,209.1 300.3,209.3 301.6,207.6 304.5,204.5 303.8,208.7 303.8,210.9 306.0,209.6 305.4,211.1 308.3,211.8 308.9,214.9 310.5,216.4 313.8,217.3 317.1,218.2 319.3,217.1 320.2,216.2 321.5,217.5 323.3,218.8 324.8,217.3 327.0,216.0 331.2,215.3 331.9,211.3 333.4,208.7 334.1,207.4 337.0,203.6 338.3,199.9 339.4,194.8 338.3,189.9 336.8,187.3 333.2,182.2 329.7,178.9 328.1,177.1 323.3,174.2 322.4,171.1 321.1,165.6 319.3,164.1 317.1,163.4 316.4,159.0 314.9,156.1 313.6,158.8 312.9,160.3 312.7,166.7 311.1,171.1 307.6,170.7 303.8,167.6 299.4,165.6 300.1,161.9 302.3,159.7 300.3,159.0 295.0,158.6 293.0,157.9 289.5,159.4 287.3,162.3 286.2,165.2 283.3,165.4 280.2,163.0 276.2,165.6 272.9,168.9 270.0,172.2 267.4,175.8 262.3,177.3 257.9,178.0 253.0,180.6 250.8,181.1 M319.7,222.4 327.7,222.8 327.0,227.9 324.4,228.8 320.9,225.7 319.7,222.4 M381.6,208.5 386.0,213.8 388.7,215.1 394.4,215.8 393.1,219.1 390.9,221.5 387.1,224.4 386.0,223.7 386.9,220.8 384.5,218.8 385.8,216.4 384.0,213.1 381.6,208.5 M381.6,221.9 385.2,224.6 384.0,226.1 381.6,228.8 378.3,230.8 377.0,233.9 373.4,235.4 367.9,234.1 368.6,232.5 371.9,229.7 377.2,226.8 380.1,223.9 381.6,221.9 M466.3,-2.2 468.5,-1.1 472.9,-1.5 477.3,0.0 483.9,0.2 487.2,0.9 491.7,2.9 495.0,4.0 498.3,6.0 500.5,8.8 504.9,11.0 507.6,12.6 509.3,15.5 512.7,18.1 513.8,20.3 518.8,22.1 523.0,23.6 524.1,26.1 519.9,25.6 521.3,28.9 521.5,30.5 521.3,36.0 520.4,38.0 521.1,42.0 521.9,44.6 524.8,49.0 526.1,51.7 529.0,56.1 533.6,57.4 536.5,60.3 537.4,62.3 539.8,66.7 543.1,70.4 543.4,72.4 546.9,74.0 549.1,78.0 551.8,79.1 552.7,81.9 553.5,79.9 551.1,78.4 549.8,75.5 547.6,68.5 545.1,64.5 541.8,62.3 545.8,63.6 549.1,68.5 552.4,71.8 554.6,76.0 556.9,77.3 560.4,81.3 562.4,83.9 562.6,87.0 565.0,90.3 570.1,92.8 574.7,95.2 581.2,97.6 585.1,96.7 590.0,97.6 593.8,101.8 598.8,102.9 602.1,103.8 604.4,106.0 606.1,108.0 605.7,109.8 608.6,111.3 611.7,114.0 614.3,114.4 617.6,116.4 618.7,116.2 619.8,112.8 622.5,114.2 624.5,115.1 624.7,118.1 624.2,123.7 621.4,129.2 618.7,132.5 617.8,133.6 616.7,137.4 618.9,138.0 616.1,142.0 615.8,145.8 618.9,148.0 622.0,153.5 625.4,159.0 627.1,163.4 629.5,166.7 636.4,170.0 640.2,173.4 640.6,177.1 639.9,184.6 639.5,190.6 637.7,198.5 637.3,205.4 636.0,209.8 634.0,213.8 633.3,218.6 632.6,224.6 632.0,228.6 628.7,235.9 628.7,239.6 628.7,245.1 630.9,248.4 636.4,251.8 640.8,254.0 646.3,255.1 649.2,254.0 651.2,253.5 644.4,248.2 642.4,246.5 643.0,243.4 645.7,240.7 650.1,237.8 646.3,234.5 646.3,233.0 651.6,231.7 651.9,227.2 654.1,225.7 651.9,223.0 657.8,222.2 658.1,218.6 667.3,217.3 668.4,216.2 670.2,212.9 668.7,210.5 666.2,208.9 666.5,207.4 667.3,208.5 671.3,209.6 674.2,209.6 677.5,206.9 680.4,203.2 683.5,199.9 688.1,194.8 688.3,189.9 693.2,185.5 700.0,183.1 704.9,181.1 706.4,177.3 708.9,171.1 709.3,161.2 710.4,161.2 713.7,156.8 717.7,152.4 718.6,148.2 717.7,144.6 713.1,143.1 710.4,140.7 703.8,138.9 697.6,138.0 688.3,135.2 685.0,132.5 683.9,128.5 681.7,123.2 677.3,120.1 674.0,119.5 669.1,119.3 666.9,117.5 662.9,114.0 659.6,111.5 658.7,108.9 654.1,109.1 647.7,109.1 644.6,109.3 641.3,107.1 637.3,108.4 636.6,105.6 631.5,107.8 628.7,109.5 625.8,113.5 624.7,113.5 620.9,111.7 618.9,112.0 616.1,112.6 613.6,111.3 610.8,108.4 610.5,104.9 611.7,99.4 608.8,97.4 604.4,97.6 600.4,97.8 599.3,97.2 600.6,93.9 602.1,90.5 603.3,85.0 599.9,85.0 596.0,86.1 595.5,89.4 592.6,91.4 586.7,92.3 583.1,90.1 580.3,86.1 579.4,83.3 580.1,77.3 580.7,75.1 580.3,71.1 585.6,68.0 588.2,66.9 593.3,67.4 598.4,68.2 597.5,65.8 601.0,64.7 605.5,65.6 608.8,66.5 612.1,68.5 612.8,71.8 614.7,74.9 616.7,76.8 618.5,75.5 617.4,69.8 615.6,65.1 616.3,61.8 618.9,60.1 623.1,57.6 628.7,54.8 627.6,51.0 628.4,48.8 630.0,46.6 632.0,43.1 636.4,42.0 639.3,40.9 640.8,40.4 639.1,38.6 640.4,36.0 647.4,33.8 649.7,32.7 653.0,32.5 652.3,28.7 651.9,25.4 653.6,24.5 649.7,23.8 643.0,25.8 639.3,28.7 638.2,29.2 641.9,27.4 645.2,23.6 654.1,21.6 662.9,21.4 669.5,18.8 672.4,16.6 671.8,14.4 666.2,12.1 662.9,9.9 659.6,7.7 657.4,4.4 653.0,0.0 652.5,-2.2 M649.7,35.8 655.0,34.0 660.7,32.5 662.9,31.1 661.8,28.9 659.6,31.6 655.2,31.8 653.0,32.5 649.7,35.8 M679.0,27.4 677.3,29.4 672.9,28.5 664.5,27.4 666.2,24.3 669.1,21.0 672.6,18.5 672.4,22.7 676.8,25.4 679.0,27.4 M586.5,-2.2 587.3,2.7 591.1,6.6 599.3,7.1 607.7,10.4 613.6,10.8 614.3,15.7 619.8,18.8 621.4,16.6 620.9,12.1 624.2,9.9 626.0,5.1 623.1,3.3 624.0,0.0 623.1,-2.2 M523.0,25.6 518.2,24.5 512.0,20.5 514.0,20.1 519.3,22.1 523.0,25.6 M607.9,84.1 613.2,82.4 616.5,81.5 619.8,82.8 624.2,84.8 628.2,86.1 631.8,87.9 628.4,88.6 623.8,88.6 624.7,86.8 622.0,85.0 617.2,84.4 614.3,83.7 611.0,84.1 607.9,84.1 M631.1,91.9 634.6,88.6 640.8,88.8 644.4,91.4 641.0,91.9 637.7,93.6 634.6,92.5 631.1,91.9 M622.5,91.9 626.9,92.5 625.8,93.0 622.5,92.3 622.5,91.9 M647.0,91.6 650.5,92.1 647.0,92.8 647.0,91.6 M660.3,246.2 665.1,245.8 667.8,246.5 665.1,248.0 661.8,247.3 660.3,246.2 M630.9,248.4 634.2,250.6 638.6,252.9 643.0,255.1 646.3,255.1 M633.1,224.8 631.5,226.4 632.9,228.1 633.1,224.8 M592.0,29.4 596.6,29.6 602.1,29.8 608.6,29.8 608.1,27.8 605.7,26.7 599.9,25.2 597.7,26.5 592.0,29.4 M607.7,31.1 603.3,32.0 601.3,35.3 601.9,40.4 603.9,40.2 605.0,36.4 604.4,34.0 607.7,31.1 M608.8,31.1 611.0,32.7 611.2,35.3 613.2,37.5 615.0,36.4 615.0,33.1 617.6,32.0 615.4,30.5 608.8,31.1 M611.2,40.4 616.5,40.2 621.2,38.0 617.6,38.4 613.2,39.8 611.2,40.4 M619.2,36.9 623.1,36.9 627.1,36.4 626.7,34.9 624.2,35.3 620.0,36.0 619.2,36.9 M451.0,90.3 452.8,89.7 451.2,87.9 451.0,90.3 M70.3,133.2 74.9,132.3 75.4,133.4 72.9,138.0 70.0,135.8 70.3,133.2 M64.5,140.0 65.4,144.6 67.6,151.3 68.5,151.3 66.3,144.6 64.7,139.8 M75.1,153.5 76.2,157.9 77.8,164.1 76.5,162.3 75.6,157.9 75.1,153.5 M229.1,18.3 233.1,16.6 238.6,13.2 242.0,9.3 240.9,12.1 235.3,17.0 229.8,18.8 229.1,18.3 M161.3,113.3 161.3,122.6 161.5,131.8 M160.4,132.1 177.2,131.4 177.2,148.8 160.2,148.8 160.4,132.1 M205.1,102.5 204.6,108.2 M206.6,114.8 207.3,117.0 M117.8,104.7 120.4,104.9 M437.5,11.0 432.0,12.4 M362.8,177.3 369.0,181.7 M391.8,171.4 394.7,172.5 397.3,168.9 M369.2,166.1 370.1,168.5 371.9,171.4 373.9,175.6 M441.9,83.9 446.4,85.0 449.7,86.6 M322.2,36.2 327.0,33.1 331.5,30.5 335.9,27.6 340.3,24.7 344.7,21.0 M274.0,78.6 277.3,77.7 282.2,74.4 284.6,71.1 286.4,69.3 288.6,65.4 M320.0,102.9 322.0,98.9 322.0,92.5 321.3,88.3 M620.9,73.8 624.2,74.2 624.7,77.3 626.9,79.3 628.7,81.3 632.0,83.3 634.2,85.7 M656.3,92.5 658.9,94.7 659.4,96.7 660.3,98.7 660.7,100.3 660.7,101.8 659.2,105.8 660.0,109.3 M658.7,108.9 660.9,108.7 660.7,110.2 658.7,110.2 658.7,108.9 M711.5,251.8 715.9,252.9 M755.7,69.1 765.7,68.7 M740.3,95.0 745.1,96.7 743.6,99.4 M726.6,45.3 733.6,47.3 739.8,49.2 M593.3,132.9 596.6,134.3 M95.7,158.1 98.3,159.7 M122.6,179.1 122.6,179.1 M152.5,240.7 155.3,242.0 M2.9,46.6 5.5,45.0 9.5,44.4 M798.4,46.6 801.0,45.0 805.0,44.4 M51.9,46.8 54.1,48.6 58.6,45.9 61.9,52.3 M630.2,235.9 628.9,238.9 629.1,242.5 629.8,245.8 631.3,248.2 634.2,250.0 637.5,251.8 640.8,253.3 644.1,254.4 647.4,254.6 M632.0,237.4 630.9,240.7 632.0,244.0 633.1,247.3 636.4,249.5 639.7,251.3 643.0,252.4 646.3,253.5 M633.1,231.9 630.9,233.6 629.8,235.9 M580.7,21.2 582.5,19.0 581.2,16.8 579.4,14.6 577.8,13.7 576.3,14.8 578.5,17.2 579.4,19.4 580.7,21.2 M577.2,21.6 578.5,19.9 576.3,17.9 575.4,19.2 577.2,21.6 M653.0,22.5 659.2,24.1 657.4,23.4 653.0,22.5 M653.2,29.6 658.5,30.0 655.2,30.5 653.2,29.6 M274.7,107.1 276.2,108.2 276.7,110.2 275.8,110.4 274.7,108.7 274.7,107.1 M273.6,107.8 274.2,109.3 272.7,111.5 272.7,109.8 273.6,107.8 M273.6,110.2 275.1,110.4 274.7,111.3 273.6,111.1 273.6,110.2 M265.2,119.3 267.4,119.5 269.6,118.4 M281.5,133.8 282.2,136.0 283.3,140.5 M289.5,149.1 291.0,150.6 M296.5,144.4 297.6,147.5" fill="none" stroke="#006400" stroke-width="2.8" stroke-linejoin="round" stroke-linecap="round"/><path d="M340.3 78.8h0.01 M368.1 89.9h0.01 M378.3 116.8h0.01 M370.6 112.4h0.01 M368.8 107.1h0.01 M358.6 106.9h0.01 M374.8 119.3h0.01 M375.7 111.5h0.01 M349.6 117.3h0.01 M360.2 120.8h0.01 M335.4 116.2h0.01 M305.2 111.5h0.01 M297.2 116.2h0.01 M318.2 114.8h0.01 M324.8 113.7h0.01 M382.3 129.4h0.01 M385.6 133.6h0.01 M388.9 135.8h0.01 M368.8 133.6h0.01 M405.3 130.7h0.01 M447.7 128.3h0.01 M437.3 119.5h0.01 M443.3 123.9h0.01 M416.1 140.7h0.01 M414.3 142.4h0.01 M415.9 152.8h0.01 M396.0 151.3h0.01 M392.2 146.9h0.01 M415.0 162.8h0.01 M408.4 179.3h0.01 M411.0 173.8h0.01 M442.4 179.3h0.01 M439.7 155.5h0.01 M446.4 152.4h0.01 M465.1 171.4h0.01 M460.7 168.9h0.01 M475.1 167.8h0.01 M481.7 170.0h0.01 M486.1 172.2h0.01 M472.9 165.6h0.01 M486.1 152.4h0.01 M487.2 154.1h0.01 M465.1 184.4h0.01 M508.2 187.7h0.01 M553.8 192.3h0.01 M621.4 206.7h0.01 M366.8 156.1h0.01 M324.8 136.9h0.01 M371.2 196.5h0.01 M351.3 202.1h0.01 M402.2 196.5h0.01 M405.5 229.7h0.01 M451.9 89.4h0.01 M403.5 70.2h0.01 M428.7 80.2h0.01 M439.7 81.7h0.01 M419.8 15.9h0.01 M414.3 17.0h0.01 M409.9 17.7h0.01 M405.5 18.1h0.01 M401.1 18.1h0.01 M395.5 18.5h0.01 M391.1 17.9h0.01 M384.5 15.9h0.01 M381.2 15.5h0.01 M366.8 11.0h0.01 M314.2 72.7h0.01 M308.3 59.6h0.01 M122.6 142.7h0.01 M127.3 177.3h0.01 M153.6 241.4h0.01 M114.5 235.0h0.01 M162.4 249.8h0.01 M83.5 236.1h0.01 M171.3 216.0h0.01 M233.6 155.7h0.01 M214.1 159.4h0.01 M160.4 109.1h0.01 M652.3 61.2h0.01 M757.9 60.3h0.01 M14.6 131.8h0.01 M19.2 124.8h0.01 M763.7 149.9h0.01 M782.9 167.6h0.01 M768.3 214.4h0.01 M773.6 221.5h0.01 M723.9 140.9h0.01 M730.8 177.8h0.01 M7.5 252.6h0.01 M736.9 258.4h0.01 M31.8 53.2h0.01 M647.4 255.9h0.01 M618.7 206.9h0.01" fill="none" stroke="#006400" stroke-width="4" stroke-linecap="round"/><line x1="397.75" y1="0" x2="397.75" y2="265.0" stroke="#006400" stroke-width="1.1" stroke-dasharray="4.5 5.5"/></g></svg>
<line x1="81.00" y1="347.50" x2="81.00" y2="357.50" stroke="#000" stroke-width="2.2"/>
<line x1="81.00" y1="82.50" x2="81.00" y2="72.50" stroke="#000" stroke-width="2.2"/>
<line x1="114.15" y1="347.50" x2="114.15" y2="352.50" stroke="#000" stroke-width="1.3"/>
<line x1="114.15" y1="82.50" x2="114.15" y2="77.50" stroke="#000" stroke-width="1.3"/>
<line x1="147.29" y1="347.50" x2="147.29" y2="352.50" stroke="#000" stroke-width="1.3"/>
<line x1="147.29" y1="82.50" x2="147.29" y2="77.50" stroke="#000" stroke-width="1.3"/>
<line x1="180.44" y1="347.50" x2="180.44" y2="357.50" stroke="#000" stroke-width="2.2"/>
<line x1="180.44" y1="82.50" x2="180.44" y2="72.50" stroke="#000" stroke-width="2.2"/>
<line x1="213.58" y1="347.50" x2="213.58" y2="352.50" stroke="#000" stroke-width="1.3"/>
<line x1="213.58" y1="82.50" x2="213.58" y2="77.50" stroke="#000" stroke-width="1.3"/>
<line x1="246.73" y1="347.50" x2="246.73" y2="352.50" stroke="#000" stroke-width="1.3"/>
<line x1="246.73" y1="82.50" x2="246.73" y2="77.50" stroke="#000" stroke-width="1.3"/>
<line x1="279.88" y1="347.50" x2="279.88" y2="357.50" stroke="#000" stroke-width="2.2"/>
<line x1="279.88" y1="82.50" x2="279.88" y2="72.50" stroke="#000" stroke-width="2.2"/>
<line x1="313.02" y1="347.50" x2="313.02" y2="352.50" stroke="#000" stroke-width="1.3"/>
<line x1="313.02" y1="82.50" x2="313.02" y2="77.50" stroke="#000" stroke-width="1.3"/>
<line x1="346.17" y1="347.50" x2="346.17" y2="352.50" stroke="#000" stroke-width="1.3"/>
<line x1="346.17" y1="82.50" x2="346.17" y2="77.50" stroke="#000" stroke-width="1.3"/>
<line x1="379.31" y1="347.50" x2="379.31" y2="357.50" stroke="#000" stroke-width="2.2"/>
<line x1="379.31" y1="82.50" x2="379.31" y2="72.50" stroke="#000" stroke-width="2.2"/>
<line x1="412.46" y1="347.50" x2="412.46" y2="352.50" stroke="#000" stroke-width="1.3"/>
<line x1="412.46" y1="82.50" x2="412.46" y2="77.50" stroke="#000" stroke-width="1.3"/>
<line x1="445.60" y1="347.50" x2="445.60" y2="352.50" stroke="#000" stroke-width="1.3"/>
<line x1="445.60" y1="82.50" x2="445.60" y2="77.50" stroke="#000" stroke-width="1.3"/>
<line x1="478.75" y1="347.50" x2="478.75" y2="357.50" stroke="#000" stroke-width="2.2"/>
<line x1="478.75" y1="82.50" x2="478.75" y2="72.50" stroke="#000" stroke-width="2.2"/>
<line x1="511.90" y1="347.50" x2="511.90" y2="352.50" stroke="#000" stroke-width="1.3"/>
<line x1="511.90" y1="82.50" x2="511.90" y2="77.50" stroke="#000" stroke-width="1.3"/>
<line x1="545.04" y1="347.50" x2="545.04" y2="352.50" stroke="#000" stroke-width="1.3"/>
<line x1="545.04" y1="82.50" x2="545.04" y2="77.50" stroke="#000" stroke-width="1.3"/>
<line x1="578.19" y1="347.50" x2="578.19" y2="357.50" stroke="#000" stroke-width="2.2"/>
<line x1="578.19" y1="82.50" x2="578.19" y2="72.50" stroke="#000" stroke-width="2.2"/>
<line x1="611.33" y1="347.50" x2="611.33" y2="352.50" stroke="#000" stroke-width="1.3"/>
<line x1="611.33" y1="82.50" x2="611.33" y2="77.50" stroke="#000" stroke-width="1.3"/>
<line x1="644.48" y1="347.50" x2="644.48" y2="352.50" stroke="#000" stroke-width="1.3"/>
<line x1="644.48" y1="82.50" x2="644.48" y2="77.50" stroke="#000" stroke-width="1.3"/>
<line x1="677.62" y1="347.50" x2="677.62" y2="357.50" stroke="#000" stroke-width="2.2"/>
<line x1="677.62" y1="82.50" x2="677.62" y2="72.50" stroke="#000" stroke-width="2.2"/>
<line x1="710.77" y1="347.50" x2="710.77" y2="352.50" stroke="#000" stroke-width="1.3"/>
<line x1="710.77" y1="82.50" x2="710.77" y2="77.50" stroke="#000" stroke-width="1.3"/>
<line x1="743.92" y1="347.50" x2="743.92" y2="352.50" stroke="#000" stroke-width="1.3"/>
<line x1="743.92" y1="82.50" x2="743.92" y2="77.50" stroke="#000" stroke-width="1.3"/>
<line x1="777.06" y1="347.50" x2="777.06" y2="357.50" stroke="#000" stroke-width="2.2"/>
<line x1="777.06" y1="82.50" x2="777.06" y2="72.50" stroke="#000" stroke-width="2.2"/>
<line x1="810.21" y1="347.50" x2="810.21" y2="352.50" stroke="#000" stroke-width="1.3"/>
<line x1="810.21" y1="82.50" x2="810.21" y2="77.50" stroke="#000" stroke-width="1.3"/>
<line x1="843.35" y1="347.50" x2="843.35" y2="352.50" stroke="#000" stroke-width="1.3"/>
<line x1="843.35" y1="82.50" x2="843.35" y2="77.50" stroke="#000" stroke-width="1.3"/>
<line x1="876.50" y1="347.50" x2="876.50" y2="357.50" stroke="#000" stroke-width="2.2"/>
<line x1="876.50" y1="82.50" x2="876.50" y2="72.50" stroke="#000" stroke-width="2.2"/>
<line x1="81.00" y1="347.50" x2="71.00" y2="347.50" stroke="#000" stroke-width="2.2"/>
<line x1="876.50" y1="347.50" x2="886.50" y2="347.50" stroke="#000" stroke-width="2.2"/>
<line x1="81.00" y1="336.46" x2="76.00" y2="336.46" stroke="#000" stroke-width="1.3"/>
<line x1="876.50" y1="336.46" x2="881.50" y2="336.46" stroke="#000" stroke-width="1.3"/>
<line x1="81.00" y1="325.42" x2="76.00" y2="325.42" stroke="#000" stroke-width="1.3"/>
<line x1="876.50" y1="325.42" x2="881.50" y2="325.42" stroke="#000" stroke-width="1.3"/>
<line x1="81.00" y1="314.38" x2="71.00" y2="314.38" stroke="#000" stroke-width="2.2"/>
<line x1="876.50" y1="314.38" x2="886.50" y2="314.38" stroke="#000" stroke-width="2.2"/>
<line x1="81.00" y1="303.33" x2="76.00" y2="303.33" stroke="#000" stroke-width="1.3"/>
<line x1="876.50" y1="303.33" x2="881.50" y2="303.33" stroke="#000" stroke-width="1.3"/>
<line x1="81.00" y1="292.29" x2="76.00" y2="292.29" stroke="#000" stroke-width="1.3"/>
<line x1="876.50" y1="292.29" x2="881.50" y2="292.29" stroke="#000" stroke-width="1.3"/>
<line x1="81.00" y1="281.25" x2="71.00" y2="281.25" stroke="#000" stroke-width="2.2"/>
<line x1="876.50" y1="281.25" x2="886.50" y2="281.25" stroke="#000" stroke-width="2.2"/>
<line x1="81.00" y1="270.21" x2="76.00" y2="270.21" stroke="#000" stroke-width="1.3"/>
<line x1="876.50" y1="270.21" x2="881.50" y2="270.21" stroke="#000" stroke-width="1.3"/>
<line x1="81.00" y1="259.17" x2="76.00" y2="259.17" stroke="#000" stroke-width="1.3"/>
<line x1="876.50" y1="259.17" x2="881.50" y2="259.17" stroke="#000" stroke-width="1.3"/>
<line x1="81.00" y1="248.12" x2="71.00" y2="248.12" stroke="#000" stroke-width="2.2"/>
<line x1="876.50" y1="248.12" x2="886.50" y2="248.12" stroke="#000" stroke-width="2.2"/>
<line x1="81.00" y1="237.08" x2="76.00" y2="237.08" stroke="#000" stroke-width="1.3"/>
<line x1="876.50" y1="237.08" x2="881.50" y2="237.08" stroke="#000" stroke-width="1.3"/>
<line x1="81.00" y1="226.04" x2="76.00" y2="226.04" stroke="#000" stroke-width="1.3"/>
<line x1="876.50" y1="226.04" x2="881.50" y2="226.04" stroke="#000" stroke-width="1.3"/>
<line x1="81.00" y1="215.00" x2="71.00" y2="215.00" stroke="#000" stroke-width="2.2"/>
<line x1="876.50" y1="215.00" x2="886.50" y2="215.00" stroke="#000" stroke-width="2.2"/>
<line x1="81.00" y1="203.96" x2="76.00" y2="203.96" stroke="#000" stroke-width="1.3"/>
<line x1="876.50" y1="203.96" x2="881.50" y2="203.96" stroke="#000" stroke-width="1.3"/>
<line x1="81.00" y1="192.92" x2="76.00" y2="192.92" stroke="#000" stroke-width="1.3"/>
<line x1="876.50" y1="192.92" x2="881.50" y2="192.92" stroke="#000" stroke-width="1.3"/>
<line x1="81.00" y1="181.88" x2="71.00" y2="181.88" stroke="#000" stroke-width="2.2"/>
<line x1="876.50" y1="181.88" x2="886.50" y2="181.88" stroke="#000" stroke-width="2.2"/>
<line x1="81.00" y1="170.83" x2="76.00" y2="170.83" stroke="#000" stroke-width="1.3"/>
<line x1="876.50" y1="170.83" x2="881.50" y2="170.83" stroke="#000" stroke-width="1.3"/>
<line x1="81.00" y1="159.79" x2="76.00" y2="159.79" stroke="#000" stroke-width="1.3"/>
<line x1="876.50" y1="159.79" x2="881.50" y2="159.79" stroke="#000" stroke-width="1.3"/>
<line x1="81.00" y1="148.75" x2="71.00" y2="148.75" stroke="#000" stroke-width="2.2"/>
<line x1="876.50" y1="148.75" x2="886.50" y2="148.75" stroke="#000" stroke-width="2.2"/>
<line x1="81.00" y1="137.71" x2="76.00" y2="137.71" stroke="#000" stroke-width="1.3"/>
<line x1="876.50" y1="137.71" x2="881.50" y2="137.71" stroke="#000" stroke-width="1.3"/>
<line x1="81.00" y1="126.67" x2="76.00" y2="126.67" stroke="#000" stroke-width="1.3"/>
<line x1="876.50" y1="126.67" x2="881.50" y2="126.67" stroke="#000" stroke-width="1.3"/>
<line x1="81.00" y1="115.62" x2="71.00" y2="115.62" stroke="#000" stroke-width="2.2"/>
<line x1="876.50" y1="115.62" x2="886.50" y2="115.62" stroke="#000" stroke-width="2.2"/>
<line x1="81.00" y1="104.58" x2="76.00" y2="104.58" stroke="#000" stroke-width="1.3"/>
<line x1="876.50" y1="104.58" x2="881.50" y2="104.58" stroke="#000" stroke-width="1.3"/>
<line x1="81.00" y1="93.54" x2="76.00" y2="93.54" stroke="#000" stroke-width="1.3"/>
<line x1="876.50" y1="93.54" x2="881.50" y2="93.54" stroke="#000" stroke-width="1.3"/>
<line x1="81.00" y1="82.50" x2="71.00" y2="82.50" stroke="#000" stroke-width="2.2"/>
<line x1="876.50" y1="82.50" x2="886.50" y2="82.50" stroke="#000" stroke-width="2.2"/>
<rect x="81.0" y="82.5" width="795.5" height="265.0" fill="none" stroke="#000" stroke-width="2.2"/>
<text x="52.6" y="92.50" text-anchor="end" font-size="29.2">60N</text>
<text x="52.6" y="125.62" text-anchor="end" font-size="29.2">45N</text>
<text x="52.6" y="158.75" text-anchor="end" font-size="29.2">30N</text>
<text x="52.6" y="191.88" text-anchor="end" font-size="29.2">15N</text>
<text x="52.6" y="225.00" text-anchor="end" font-size="29.2">0</text>
<text x="52.6" y="258.12" text-anchor="end" font-size="29.2">15S</text>
<text x="52.6" y="291.25" text-anchor="end" font-size="29.2">30S</text>
<text x="52.6" y="324.38" text-anchor="end" font-size="29.2">45S</text>
<text x="52.6" y="357.50" text-anchor="end" font-size="29.2">60S</text>
<text x="81.00" y="398.90" text-anchor="middle" font-size="29.2">0</text>
<text x="180.44" y="398.90" text-anchor="middle" font-size="29.2">45E</text>
<text x="279.88" y="398.90" text-anchor="middle" font-size="29.2">90E</text>
<text x="379.31" y="398.90" text-anchor="middle" font-size="29.2">135E</text>
<text x="478.75" y="398.90" text-anchor="middle" font-size="29.2">180</text>
<text x="578.19" y="398.90" text-anchor="middle" font-size="29.2">135W</text>
<text x="677.62" y="398.90" text-anchor="middle" font-size="29.2">90W</text>
<text x="777.06" y="398.90" text-anchor="middle" font-size="29.2">45W</text>
<text x="876.50" y="398.90" text-anchor="middle" font-size="29.2">0</text>
<svg x="81.0" y="470.5" width="795.5" height="265.0" viewBox="0 0 795.5 265.0" overflow="hidden"><rect x="0" y="0" width="795.5" height="265.0" fill="#003c30"/>
<path fill="#01665e" fill-rule="evenodd" d="M795.5 0.0 795.5 265.0 0.0 265.0 0.0 0.0ZM163.7 81.7 162.8 82.8 163.1 85.0 164.6 86.1 166.8 85.5 167.7 83.9 166.8 81.9 165.7 81.3Z"/>
<path fill="#35978f" fill-rule="evenodd" d="M795.5 0.0 795.5 265.0 0.0 265.0 0.0 0.0ZM167.4 72.9 163.5 74.9 161.2 77.3 159.8 81.7 160.3 85.0 161.7 87.2 164.6 89.2 170.1 90.7 173.5 90.2 176.2 88.3 178.2 85.0 179.4 80.6 179.0 77.3 177.7 75.1 174.6 72.9 171.3 72.2ZM105.7 157.9 106.6 162.3 110.0 166.7 116.0 170.0 121.7 171.1 122.4 170.0 121.6 167.8 116.0 161.1 109.4 157.3 107.2 156.9Z"/>
<path fill="#80cdc1" fill-rule="evenodd" d="M795.5 0.0 795.5 265.0 0.0 265.0 0.0 0.0ZM164.1 65.1 156.9 68.0 147.7 72.9 145.7 75.1 145.5 78.4 147.9 81.7 161.0 95.0 166.8 96.8 173.5 96.1 177.9 93.7 181.2 89.4 185.7 79.5 185.9 75.1 182.3 69.5 176.8 65.3 171.3 64.2ZM498.6 70.7 496.1 72.5 491.7 78.7 482.0 83.9 479.2 86.1 477.8 89.4 478.8 91.6 481.7 93.2 486.1 93.6 496.1 91.7 512.7 81.7 516.0 78.4 516.3 75.1 514.9 73.2 512.6 71.8 504.9 70.1ZM371.0 85.0 363.8 87.2 360.9 89.4 359.4 91.6 358.7 95.0 359.3 98.3 365.6 107.1 366.1 109.3 364.5 111.5 355.7 118.1 353.6 121.5 354.0 122.6 356.8 124.8 367.9 131.0 373.4 132.6 379.0 132.5 382.8 131.4 386.0 129.2 388.5 125.9 389.6 122.6 387.9 118.1 382.0 111.5 382.0 109.3 384.9 107.1 395.5 102.7 398.9 100.6 401.7 97.2 403.0 92.8 402.2 90.5 399.9 88.3 392.2 85.1 382.3 84.1ZM63.7 99.4 62.3 100.5 62.0 101.6 63.0 102.7 66.3 103.9 74.8 103.8 77.6 102.7 78.2 101.6 75.7 99.4 71.8 98.5 67.4 98.4ZM473.7 103.8 470.7 105.5 470.1 108.2 471.7 111.5 476.2 114.3 480.6 115.2 486.6 114.8 492.5 112.6 494.5 110.4 493.9 107.9 489.5 105.5 480.6 103.8ZM672.5 118.1 670.3 120.4 671.3 122.6 675.1 124.6 679.5 125.4 685.0 125.4 691.6 124.2 696.9 122.6 699.8 120.4 699.2 119.3 697.2 118.4 690.5 117.4 679.5 117.1ZM329.7 128.1 325.1 130.3 324.1 131.4 324.8 132.4 331.5 132.5 334.4 131.4 336.2 129.2 334.8 127.7ZM92.5 145.8 91.7 146.9 91.9 148.0 97.2 155.9 100.7 165.6 105.0 170.5 110.5 173.7 128.2 179.2 132.6 179.9 134.5 178.9 133.4 175.6 117.1 158.1 98.3 147.3 95.0 145.9ZM757.5 178.9 754.6 180.6 753.9 183.3 755.7 186.9 760.3 189.9 765.7 191.3 772.3 191.4 777.3 189.9 779.5 187.7 779.7 185.5 778.7 183.3 776.4 181.1 773.4 179.5 765.7 178.0Z"/>
<path fill="#c7eae5" fill-rule="evenodd" d="M795.5 0.0 795.5 52.3 788.9 54.0 783.6 56.3 781.4 58.5 780.8 60.7 781.8 65.1 784.8 68.5 790.0 69.9 795.5 69.4 795.5 265.0 0.0 265.0 0.0 69.4 4.4 67.6 7.4 65.1 9.6 61.8 10.8 57.4 9.9 54.4 7.7 52.7 4.4 51.9 0.0 52.3 0.0 0.0ZM40.0 2.2 34.3 3.7 31.4 6.6 29.4 15.5 29.8 17.7 30.9 19.2 36.5 21.5 44.2 21.8 51.9 20.5 56.8 17.7 57.8 15.5 57.8 8.8 57.3 6.6 55.8 4.4 49.7 2.3ZM739.8 2.2 737.7 3.3 737.2 4.4 737.7 5.5 740.3 6.8 748.0 7.2 750.7 6.6 752.2 5.5 752.2 4.4 751.0 3.3 748.0 2.2ZM557.8 3.3 556.1 4.4 556.1 5.5 558.0 6.8 562.4 7.0 566.1 5.5 566.0 4.4 563.8 3.3ZM471.8 27.6 471.8 28.9 474.0 30.3 477.3 30.2 478.4 28.7 477.3 27.4 475.1 26.7ZM724.7 27.6 710.4 35.7 702.7 38.3 688.3 40.5 664.0 41.5 651.5 44.2 634.9 49.7 631.9 51.9 631.0 54.1 631.3 55.2 634.3 57.4 639.7 58.8 659.6 61.0 666.2 61.0 668.4 60.2 674.5 54.1 680.6 51.8 687.2 50.9 702.7 51.9 708.2 50.9 722.6 43.1 739.2 37.3 743.4 34.2 742.5 32.0 734.7 28.3 729.2 27.0ZM594.1 44.2 590.0 46.4 589.8 47.5 590.6 48.6 593.3 48.8 596.3 46.4 596.9 45.3 596.6 44.2ZM583.4 59.0 580.9 62.9 581.9 66.2 587.8 70.2 594.4 72.6 599.9 72.8 606.6 70.5 611.4 66.2 611.5 64.0 610.9 62.9 605.5 59.3 594.4 54.3 591.1 54.3ZM134.4 58.5 123.9 61.8 117.2 66.2 116.9 69.6 120.6 75.1 121.2 77.3 119.9 79.5 118.4 80.6 101.5 86.1 90.6 92.3 87.3 93.5 67.4 94.9 60.8 96.3 56.3 99.4 55.4 101.6 56.2 103.8 60.8 106.4 73.4 109.3 82.9 114.8 88.4 116.0 92.8 115.5 96.1 114.0 101.6 108.0 105.0 105.7 109.4 104.5 114.9 104.7 119.2 106.0 121.5 107.5 125.9 114.8 128.2 116.6 132.6 117.4 139.2 116.7 151.4 113.0 162.4 104.8 174.6 100.6 179.0 98.4 183.0 93.9 192.1 77.3 191.3 72.9 185.6 63.8 183.4 61.1 180.1 59.2 170.1 57.9ZM487.5 58.5 483.0 60.7 480.5 64.0 480.0 67.4 481.1 74.0 480.1 76.2 471.1 82.8 466.6 91.6 458.6 99.4 456.1 103.8 455.7 107.1 457.5 110.4 464.9 117.0 469.6 119.3 477.3 120.2 486.1 119.3 494.5 117.0 500.8 113.7 503.1 111.5 504.4 108.2 503.6 104.9 501.1 100.5 501.7 98.3 510.2 90.5 521.5 82.8 524.5 79.5 526.2 76.2 526.7 72.9 526.2 70.7 524.6 68.5 521.2 66.2 500.5 58.2 493.9 57.6ZM412.6 59.6 409.9 61.2 408.5 64.0 409.1 66.2 412.1 68.3 416.5 69.2 422.1 69.2 425.4 68.3 427.6 66.2 426.7 62.9 423.2 60.3 417.6 59.0ZM358.0 80.9 352.5 82.7 346.6 86.1 342.7 89.4 341.5 92.8 346.0 104.9 345.3 109.3 341.3 112.6 330.4 117.3 318.1 123.7 309.4 126.3 302.7 126.5 299.4 124.5 295.9 119.3 292.8 116.5 287.3 114.7 279.5 114.1 274.7 114.8 271.8 116.8 270.5 120.4 270.7 125.9 272.7 128.1 276.2 129.1 292.8 129.6 297.2 130.4 308.1 139.1 312.7 141.0 317.1 141.3 330.4 140.1 337.0 140.8 340.5 142.4 346.9 148.0 351.3 149.3 358.0 147.9 369.0 142.0 375.4 140.2 392.2 139.2 411.0 136.7 438.6 136.0 443.9 134.7 443.3 133.6 439.5 132.5 411.0 131.0 406.6 130.3 404.6 129.2 404.1 128.1 404.9 125.9 408.8 121.4 426.7 113.7 429.8 111.5 430.3 110.4 428.3 108.2 418.5 103.8 415.4 101.6 414.2 98.3 415.6 92.8 415.4 90.5 412.0 87.2 395.5 79.9 390.0 79.2ZM571.0 103.8 565.7 105.2 561.6 107.1 560.2 108.7 560.0 110.4 562.2 112.6 566.4 114.8 575.6 117.4 580.1 117.2 584.1 115.9 587.4 113.7 588.9 111.5 589.2 107.1 587.9 104.9 586.1 103.8 580.1 102.9ZM658.0 104.9 649.7 108.6 647.7 110.4 647.4 112.6 649.1 114.8 655.4 120.4 658.8 125.9 662.9 128.2 672.9 129.5 686.1 128.8 708.3 123.7 715.1 121.5 716.4 120.4 716.6 119.3 714.6 117.0 708.2 114.2 702.7 113.2 680.6 112.4 674.5 110.4 667.3 104.5 662.9 104.0ZM612.0 118.1 608.2 119.3 606.3 121.5 608.2 123.7 613.2 125.5 618.7 126.3 625.4 126.0 629.1 124.8 630.7 122.6 629.7 120.4 625.4 118.4 618.7 117.7ZM80.3 136.9 77.3 140.0 74.9 144.6 73.9 148.0 74.3 151.3 77.7 154.6 88.4 161.0 100.5 173.9 109.4 178.7 133.7 185.8 140.3 186.9 143.8 185.5 145.5 180.0 145.6 177.8 144.5 175.6 131.3 167.8 120.4 153.9 109.4 147.9 93.9 138.2 86.2 136.0 82.9 136.0ZM167.6 141.3 161.7 143.5 160.5 144.6 160.2 146.9 161.3 148.0 164.6 149.1 172.4 149.1 177.9 147.7 181.7 144.6 180.9 142.4 177.9 141.1 173.5 140.7ZM694.8 150.2 678.9 152.4 666.2 157.3 654.1 160.4 651.9 161.5 650.3 163.4 650.6 167.8 653.0 171.0 656.3 172.5 661.8 172.9 667.3 171.5 678.4 164.2 692.7 160.7 697.0 159.0 699.0 156.8 699.9 152.4 698.3 150.4ZM331.1 159.0 326.5 161.2 324.2 164.5 324.8 167.5 327.4 170.0 332.6 172.3 338.1 172.8 342.5 171.5 345.8 168.6 346.8 164.5 345.8 162.3 343.6 160.1 338.1 158.3ZM232.6 163.4 228.7 164.8 226.5 167.8 227.7 171.1 232.0 173.2 237.5 173.5 244.2 172.2 248.6 170.0 250.8 166.7 249.1 164.5 245.3 163.3 238.6 162.9ZM743.3 174.5 739.6 175.6 739.7 177.8 749.1 190.4 754.6 193.9 764.6 195.9 775.6 195.7 783.2 193.2 785.8 191.0 787.0 188.8 787.0 185.5 784.5 181.1 780.9 177.8 775.6 175.1 764.6 173.5ZM345.4 182.2 342.6 184.4 341.0 187.7 342.1 191.0 344.7 192.5 350.2 193.6 358.0 193.5 364.2 192.1 367.1 189.9 367.4 188.8 366.1 186.6 359.1 182.8 351.3 181.1ZM234.8 184.4 232.0 186.0 229.6 188.8 228.2 192.1 228.1 195.4 229.2 197.6 231.9 199.9 242.0 205.1 250.8 207.1 263.0 206.6 271.7 204.3 275.4 201.0 275.8 198.8 275.0 196.5 269.7 193.2 246.4 184.3 239.8 183.5ZM514.9 189.9 513.4 192.1 513.8 193.3 516.0 194.7 521.5 195.0 524.6 193.2 524.3 191.0 522.6 189.8 518.2 189.0ZM105.2 214.2 101.4 216.4 100.1 218.6 100.0 220.8 102.7 224.1 109.4 226.7 121.5 228.6 133.7 228.8 141.9 227.5 144.3 226.4 146.0 224.1 144.7 221.9 142.9 220.8 132.6 217.5 113.8 213.8ZM313.0 236.3 304.9 237.6 299.5 239.6 296.4 242.9 296.8 246.2 299.6 248.4 304.9 249.6 319.3 250.4 329.2 250.0 334.8 248.9 338.1 247.3 341.4 244.0 342.7 240.7 342.7 238.5 341.8 237.4 338.1 236.2 327.0 235.7ZM25.5 258.4 22.3 259.5 22.1 260.6 26.7 261.7 33.1 261.9 38.9 261.7 44.1 260.6 44.0 259.5 39.8 258.3 32.0 257.8ZM565.6 258.4 564.6 259.5 564.8 260.6 566.9 261.7 572.3 261.8 574.5 260.6 574.5 259.5 573.4 258.5 571.2 257.7Z"/>
<path fill="#f6e8c3" fill-rule="evenodd" d="M253.9 0.0 255.9 3.3 255.6 7.7 253.6 11.0 249.7 13.6 240.9 15.2 215.4 15.2 212.1 16.1 210.5 18.8 210.8 22.1 211.8 24.3 216.6 27.4 222.1 28.4 239.8 28.2 246.4 29.2 259.6 36.0 271.8 40.0 276.1 43.1 276.9 45.3 276.2 47.5 271.8 49.9 264.1 50.7 243.1 49.5 237.5 50.7 234.1 53.0 232.3 56.3 231.6 60.7 232.2 64.0 233.9 67.4 236.4 70.1 239.8 72.3 248.6 74.3 257.4 74.1 269.6 71.7 289.5 69.2 295.8 67.4 307.2 62.5 317.1 59.6 319.4 58.5 321.6 56.3 321.8 53.0 319.7 45.3 320.6 43.1 323.6 40.9 339.2 36.1 350.7 28.7 373.4 18.1 380.1 17.1 397.8 17.4 403.3 16.2 406.6 14.0 411.2 7.7 413.8 5.5 429.1 0.0 454.5 0.0 471.1 3.3 475.5 5.5 476.6 8.8 475.0 12.1 470.7 14.8 456.3 19.6 453.5 22.1 452.1 25.4 452.4 29.8 455.5 34.2 461.5 37.5 468.5 39.1 482.8 38.7 487.2 37.6 490.6 35.7 492.6 33.1 494.6 25.4 496.7 22.1 500.5 19.8 512.7 15.8 516.1 13.2 517.5 8.8 517.8 0.0 543.1 0.0 541.7 4.4 542.5 10.0 544.9 13.2 550.2 15.6 560.2 16.6 584.5 16.5 590.0 17.3 594.1 18.8 596.3 21.0 596.5 23.2 595.2 25.4 590.7 29.8 586.5 33.1 581.2 36.1 564.6 41.6 562.4 43.9 561.7 46.4 562.2 49.7 564.5 56.3 565.8 64.0 567.5 67.4 571.2 70.3 582.5 76.2 592.2 84.3 595.5 86.0 597.7 85.6 604.4 82.2 626.5 66.2 633.1 64.0 641.9 63.8 650.3 65.1 656.2 67.4 665.1 72.3 670.7 73.7 679.5 73.6 687.2 71.5 691.6 68.6 698.3 61.9 714.8 58.4 722.6 51.9 727.8 48.6 751.6 39.8 758.9 35.3 761.2 32.0 761.2 29.8 759.0 28.8 746.9 26.2 742.6 24.3 739.7 22.1 738.9 19.9 739.2 18.8 741.4 16.8 745.1 15.5 752.4 14.9 758.5 16.6 761.8 19.9 763.9 26.5 765.0 27.6 766.8 28.0 773.4 27.7 778.9 26.4 795.5 18.6 795.5 39.1 769.0 51.5 759.0 58.1 755.7 59.5 748.0 60.6 728.1 61.4 722.6 62.6 720.8 64.0 719.9 66.2 719.6 72.9 718.8 76.2 715.1 79.5 702.7 84.5 692.7 90.3 687.2 92.5 680.6 93.6 664.0 94.3 658.5 95.5 641.1 104.9 632.0 111.1 628.7 112.3 622.0 113.1 614.3 113.1 608.8 112.5 605.5 111.2 603.9 109.3 603.9 107.1 607.9 99.4 607.6 96.1 603.3 92.0 594.4 87.6 558.0 100.5 548.1 106.0 544.7 109.3 544.1 111.5 544.7 112.6 548.2 114.8 559.1 119.3 571.2 126.1 577.8 127.5 593.3 128.3 617.6 132.3 622.0 133.6 624.2 135.8 622.0 136.7 611.0 138.2 606.1 140.2 604.3 142.4 604.0 144.6 607.2 152.4 606.7 155.7 603.5 157.9 593.2 161.2 588.9 163.6 587.0 166.7 586.7 174.5 584.3 177.8 570.1 182.5 565.5 185.5 565.0 187.7 566.7 189.9 583.3 196.5 585.7 198.8 586.6 202.1 586.1 203.2 584.5 204.1 570.1 205.9 563.2 208.7 561.7 212.0 563.7 218.6 563.6 220.8 560.2 224.0 554.6 226.0 545.8 226.8 530.3 226.1 513.8 226.5 506.0 225.7 501.6 224.0 492.8 218.2 480.0 213.1 470.7 206.6 458.5 201.8 447.5 195.5 440.8 194.1 418.7 193.3 408.8 191.7 394.4 186.6 374.5 181.8 365.7 177.8 361.7 174.5 361.0 172.2 362.4 165.6 361.7 159.0 362.3 156.8 365.2 153.5 372.3 149.0 375.7 147.8 380.1 147.3 393.3 149.2 398.8 149.1 404.4 147.2 412.1 142.5 415.4 141.2 423.2 140.1 435.3 140.0 445.3 141.1 450.7 143.5 454.1 149.1 454.9 155.7 453.5 160.1 450.8 163.7 446.4 167.0 434.1 173.4 431.9 175.6 431.9 177.8 435.2 180.0 439.7 181.4 455.2 183.9 462.9 182.8 471.5 178.9 474.6 176.7 475.2 174.5 471.0 165.6 470.7 160.1 472.1 154.6 475.8 146.9 476.6 143.5 474.8 140.2 466.9 133.6 465.6 131.4 465.7 130.3 467.0 129.2 470.4 128.1 483.9 125.2 495.0 122.0 504.3 118.1 511.8 113.7 514.4 110.4 513.6 100.5 515.7 95.0 519.1 91.6 531.4 82.8 538.8 76.2 540.6 72.9 540.6 70.7 539.4 67.4 534.8 62.4 521.2 56.3 510.4 50.0 503.8 48.5 491.7 50.1 481.7 52.5 476.2 54.5 473.7 56.3 472.2 58.5 468.9 68.5 465.1 71.3 456.3 72.4 441.9 71.0 439.7 70.2 437.5 68.2 434.2 59.6 431.2 54.1 432.7 46.4 432.1 43.1 428.6 39.8 422.1 38.2 416.5 39.1 411.0 41.5 405.7 45.3 399.9 50.8 397.8 55.2 397.4 68.5 395.5 70.7 391.1 71.8 380.1 72.8 359.1 71.2 349.1 72.3 344.7 74.3 333.8 81.7 305.2 95.0 291.7 104.1 285.1 105.2 272.9 103.6 267.4 103.8 260.1 106.0 254.7 109.3 254.7 111.5 259.0 117.0 260.3 121.5 258.9 125.9 253.9 132.5 254.1 134.0 255.9 135.8 259.6 137.5 264.1 138.1 280.6 135.2 290.6 135.8 297.2 138.8 308.3 147.3 318.2 152.0 318.5 154.6 315.3 161.2 314.6 165.6 316.2 170.0 321.5 177.8 321.1 180.0 319.3 181.2 311.6 182.3 288.4 181.2 272.9 183.6 265.2 183.2 258.5 181.0 253.7 177.8 254.1 175.6 257.9 171.1 259.9 166.7 259.3 163.4 257.4 161.6 250.8 160.1 225.4 158.7 218.8 159.7 213.7 163.4 211.2 167.8 210.0 176.7 208.3 178.9 205.5 180.3 197.8 181.6 183.4 181.7 172.4 180.8 166.5 178.9 165.3 177.8 164.5 175.6 167.2 166.7 165.1 160.1 165.5 156.8 168.5 154.6 180.1 151.0 185.6 148.0 187.6 145.8 188.4 143.5 187.7 141.3 186.5 140.2 182.3 138.6 175.7 137.8 165.7 138.3 149.2 140.6 131.5 138.6 119.3 138.1 114.9 137.2 112.0 135.8 110.3 133.6 110.5 132.5 114.9 129.9 137.0 124.1 156.9 117.3 161.5 114.8 169.8 108.2 180.1 103.2 183.4 100.8 186.1 97.2 190.9 86.1 198.8 77.3 198.7 74.0 194.7 67.4 194.0 64.0 194.9 60.7 198.3 56.3 198.8 54.1 195.3 51.9 187.8 51.0 159.1 52.4 130.4 52.2 121.5 54.0 109.0 61.8 104.9 66.2 102.3 74.0 99.0 77.3 78.4 88.8 54.1 92.8 51.4 95.0 46.2 103.8 34.5 109.3 31.3 111.5 29.9 113.7 29.7 117.0 34.0 129.2 21.0 133.0 16.6 135.8 13.5 139.1 11.6 143.5 11.4 153.5 9.1 160.1 8.7 163.4 10.3 166.7 13.3 168.8 17.7 170.5 23.2 171.1 29.8 169.5 39.8 161.8 46.4 159.4 58.6 158.7 71.8 161.4 82.9 166.4 97.2 178.5 101.6 181.2 124.7 188.8 133.5 193.2 141.4 198.8 145.8 201.0 162.8 205.4 163.7 206.5 163.9 208.7 161.8 213.1 158.0 215.5 152.5 216.2 142.5 214.9 128.2 211.6 110.5 205.0 105.5 202.1 97.2 195.3 90.6 193.0 84.0 194.3 68.5 202.5 60.8 203.9 22.1 204.3 11.0 202.9 2.2 200.3 0.0 198.8 0.0 77.3 11.1 70.7 22.1 61.6 36.5 52.1 44.2 50.4 59.7 51.4 65.3 50.8 70.6 48.6 79.5 42.6 93.0 37.5 95.0 35.3 95.7 33.1 95.7 23.2 96.5 19.9 98.5 16.6 104.6 9.9 106.3 6.6 105.1 3.3 99.4 0.0ZM174.5 2.2 171.5 3.3 170.8 4.4 171.3 5.5 174.6 7.6 179.0 8.8 197.8 11.0 202.2 10.5 203.8 8.8 203.8 6.6 202.3 4.4 197.8 2.6 186.7 1.7ZM217.7 85.0 215.2 87.2 212.7 92.8 211.6 98.3 212.4 101.6 214.4 103.8 218.8 105.6 223.2 105.8 227.6 104.7 230.0 102.7 230.8 99.4 228.4 89.4 226.5 86.5 224.3 84.9 221.0 84.2ZM532.8 149.1 522.6 151.0 517.1 154.1 515.3 156.8 514.6 160.1 515.3 163.4 516.9 165.6 521.5 168.0 530.3 170.1 541.4 171.6 549.1 171.5 554.6 170.1 558.8 167.8 563.7 163.4 565.8 160.1 565.6 156.8 563.7 154.6 553.5 149.7 544.7 148.2ZM509.0 182.2 506.0 183.5 504.0 185.5 497.7 196.5 497.2 198.8 497.7 199.9 501.0 202.1 512.7 205.0 525.9 204.9 537.0 202.1 540.5 199.9 541.9 197.6 542.2 194.3 540.5 189.9 537.4 186.6 533.6 184.4 528.1 182.6 521.5 181.6 514.9 181.4ZM318.9 0.0 344.3 0.0 346.9 2.2 347.6 5.5 345.2 9.9 340.3 13.7 333.7 16.0 327.0 16.2 321.9 14.4 318.8 11.0 317.4 5.5ZM652.0 0.0 653.9 3.3 654.0 5.5 650.8 14.4 650.9 19.9 653.4 23.2 659.6 25.7 664.0 26.1 669.5 25.4 675.1 23.2 677.7 21.0 678.6 18.8 678.4 15.5 674.0 6.6 673.6 4.4 674.4 2.2 676.4 0.0 718.1 0.0 716.2 4.4 718.2 14.4 718.0 17.7 715.4 22.1 710.2 26.5 702.7 31.1 695.0 34.2 683.9 36.2 662.9 37.0 643.0 39.8 636.2 39.8 631.4 37.5 629.9 35.3 628.9 32.0 627.5 5.5 627.7 0.0ZM786.0 0.0 780.0 3.5 774.5 4.7 770.1 4.0 760.2 0.0ZM5.5 18.6 8.8 20.1 11.1 23.2 12.0 28.7 11.3 32.0 8.8 35.1 0.0 39.1 0.0 18.6ZM413.2 73.9 423.2 73.9 429.7 75.1 432.0 76.8 434.2 80.8 436.4 82.7 440.8 83.8 454.1 85.4 457.3 87.2 457.6 89.4 450.8 97.9 445.3 102.4 441.9 103.6 438.6 103.7 430.9 102.1 427.4 100.5 425.5 98.3 425.3 96.1 427.6 89.4 427.2 87.2 424.3 85.5 413.0 81.7 409.3 79.5 407.2 77.3 407.0 76.2 407.8 75.1ZM795.5 77.3 795.5 86.6 793.7 80.6ZM795.5 88.3 795.5 187.7 793.7 183.3 789.8 177.8 785.6 173.8 781.1 171.4 772.3 169.4 754.6 169.4 746.9 168.4 741.4 166.4 732.5 160.7 718.2 156.5 716.0 154.6 715.7 153.5 716.4 148.0 715.8 144.6 713.7 142.4 710.4 141.0 706.0 140.4 701.6 140.8 685.0 146.5 660.7 151.1 654.1 151.6 644.1 150.7 636.4 148.3 631.6 144.6 629.3 140.2 629.6 138.0 630.9 137.6 660.7 137.0 713.7 126.7 727.0 126.4 750.2 128.7 760.1 127.9 763.5 126.1 764.9 123.7 764.0 120.4 761.2 118.0 756.8 116.1 752.4 115.2 733.6 115.2 725.9 113.8 720.4 111.4 716.0 108.2 715.0 106.0 715.9 102.7 720.4 98.3 727.0 95.0 733.6 93.4 742.5 93.1 749.1 93.7 754.6 95.3 764.6 102.2 769.0 104.1 774.5 105.0 780.0 104.7 783.3 103.8 786.3 101.6ZM440.8 115.9 446.4 116.0 451.8 118.1 454.9 121.5 455.7 123.7 455.2 125.5 450.8 127.2 439.7 127.3 431.5 125.9 428.2 123.7 428.4 121.5 431.1 119.3 436.1 117.0ZM42.7 131.4 44.2 132.5 40.5 132.5 38.9 131.4ZM691.6 168.9 699.4 169.4 708.2 171.6 733.6 183.3 736.2 185.5 737.4 187.7 737.0 189.9 736.0 191.0 732.5 192.5 718.8 195.4 716.2 197.6 716.3 201.0 719.3 203.4 734.7 207.0 746.9 212.9 757.1 216.4 761.0 218.6 762.2 220.8 761.0 223.0 757.9 224.8 749.1 226.6 738.0 226.4 719.3 223.9 710.4 224.6 704.9 226.5 699.6 229.7 697.5 233.0 698.9 235.2 704.9 237.9 713.7 238.9 732.5 238.2 755.7 238.5 795.5 237.2 795.5 254.0 782.2 258.3 766.8 261.9 763.5 263.6 762.4 265.0 653.7 265.0 643.0 260.9 635.3 259.8 630.9 260.4 628.7 261.7 628.2 262.8 628.7 265.0 596.6 265.0 591.8 263.9 588.9 262.1 585.5 254.0 583.4 251.5 566.8 248.6 563.9 247.3 561.7 245.1 561.8 241.8 564.6 239.1 569.0 237.4 575.6 236.9 580.1 237.7 583.3 239.6 588.9 247.9 592.2 248.8 598.8 248.6 606.4 246.2 613.2 240.2 617.6 237.8 624.2 236.5 632.0 236.1 638.6 236.8 643.0 238.1 646.3 240.0 653.4 246.2 658.5 248.4 665.1 249.0 671.8 247.3 675.1 244.0 675.8 239.6 671.8 230.7 669.4 221.9 667.3 218.5 664.0 215.8 659.6 214.4 641.9 215.3 635.3 214.1 632.2 212.0 629.8 208.7 628.2 204.3 628.3 199.9 629.7 197.6 632.0 196.0 649.7 191.2 660.6 182.2 675.1 176.3 686.1 170.1ZM177.9 193.1 190.0 193.2 203.3 195.1 207.7 196.8 218.1 203.2 236.4 212.0 245.3 213.8 264.1 213.4 270.7 214.1 275.6 216.4 276.9 218.6 276.8 220.8 275.0 223.0 270.7 225.1 259.6 226.6 221.0 225.3 204.4 223.0 197.3 219.7 191.1 211.0 188.2 208.7 182.3 206.5 170.3 204.3 167.7 203.2 167.3 199.9 169.2 196.5 172.7 194.3ZM795.5 193.0 795.5 198.8 794.9 196.5ZM324.8 205.3 331.5 204.4 337.9 205.4 341.4 207.3 348.0 212.6 354.7 215.0 361.3 215.7 379.0 215.8 388.9 217.4 404.4 223.4 423.2 227.6 435.3 234.4 440.8 236.4 447.5 237.2 461.8 237.3 467.4 238.2 471.8 240.2 480.1 246.2 494.1 251.8 497.4 255.1 497.6 258.4 495.7 260.6 493.3 261.7 475.1 265.0 397.8 265.0 391.9 261.7 390.3 259.5 392.6 256.2 397.8 254.0 400.0 254.4 405.7 260.6 409.9 261.9 417.5 262.8 435.3 263.5 447.5 262.9 454.1 261.3 455.4 260.6 456.5 258.4 455.6 256.2 451.9 253.2 440.8 249.4 428.7 248.2 403.9 248.4 402.2 247.6 397.7 242.9 394.2 240.7 388.9 239.1 372.0 236.3 367.9 234.4 361.0 229.7 355.8 227.7 348.0 226.8 331.5 227.2 324.8 226.1 321.7 224.1 320.4 222.2 318.7 217.5 318.1 213.1 319.3 208.7 321.5 206.7ZM124.8 236.2 132.6 235.5 140.3 236.7 144.5 239.6 145.2 241.8 144.9 244.0 142.5 247.1 138.1 249.0 131.5 249.6 125.2 248.4 121.5 245.9 119.8 241.8 120.7 238.5ZM34.3 236.3 44.2 236.8 49.7 238.0 52.8 239.6 54.7 241.8 55.1 244.0 52.9 247.3 46.4 249.7 17.7 250.3 8.8 251.6 0.0 254.0 0.0 237.2ZM221.0 238.4 260.7 238.4 269.6 239.1 274.0 240.2 277.3 242.2 278.9 245.1 278.9 248.4 277.8 251.8 275.1 255.3 270.7 258.2 266.3 259.6 257.4 260.4 219.9 259.8 215.0 258.4 211.0 255.6 208.8 251.8 208.2 247.3 209.2 244.0 211.1 241.8 215.4 239.6ZM86.2 261.6 95.0 262.0 98.3 263.1 101.1 265.0 75.7 265.0 79.5 262.9Z"/>
<path fill="#dfc27d" fill-rule="evenodd" d="M126.0 2.0 141.4 1.6 152.5 2.8 155.8 4.3 160.3 8.8 164.0 11.0 184.5 14.2 193.4 16.8 197.7 19.9 198.9 22.1 198.8 24.3 196.7 27.0 192.2 28.8 169.0 30.9 164.7 32.0 163.4 33.1 163.2 35.3 165.6 40.9 165.8 43.1 163.6 45.3 160.7 46.4 153.6 47.5 143.6 47.7 133.7 47.0 126.0 45.4 113.8 40.0 108.3 36.5 105.7 33.1 104.5 27.6 104.9 24.3 106.5 21.0 114.3 12.1 119.1 5.5 121.7 3.3ZM226.5 2.1 233.1 1.7 239.4 2.2 242.0 3.3 242.8 5.5 239.8 7.9 232.0 9.0 224.3 7.8 221.1 5.5 221.1 4.4 222.2 3.3ZM522.6 24.3 527.0 24.8 530.3 26.3 537.4 30.9 540.7 34.2 543.4 38.6 544.7 43.1 544.4 46.4 542.1 49.7 539.2 51.0 535.9 51.4 524.8 49.6 514.9 43.0 505.2 38.6 503.1 36.4 502.5 34.2 502.9 30.9 506.0 27.1 510.4 25.4ZM376.8 25.4 386.7 24.6 398.9 26.2 406.3 28.7 407.7 29.8 408.4 32.0 405.7 35.3 401.1 38.3 396.6 40.1 392.2 40.8 385.6 40.3 370.1 37.1 365.7 35.8 363.2 34.2 363.3 32.0 365.9 29.8 371.2 27.1ZM89.5 48.5 95.0 48.7 100.4 50.8 102.8 53.0 103.3 54.1 102.7 56.3 91.7 70.1 79.4 77.3 72.7 82.8 69.6 84.3 65.2 85.2 47.5 82.3 43.1 82.5 38.8 83.9 35.9 86.1 35.0 88.3 35.5 90.5 38.6 96.1 38.6 98.3 36.5 100.7 29.8 103.3 22.1 104.8 16.6 104.7 11.0 103.0 8.0 100.5 8.1 97.2 12.5 88.3 12.1 81.7 13.0 78.4 16.3 75.1 26.5 67.5 35.4 62.9 44.2 59.8 49.7 59.4 61.9 60.1 68.5 59.1 75.1 56.1 85.1 49.9ZM346.9 49.6 365.7 49.2 376.8 50.2 380.1 51.3 382.6 53.0 383.8 55.2 383.8 57.4 382.5 59.6 381.0 60.7 374.5 62.4 361.3 63.0 350.4 61.8 344.6 59.6 342.1 57.4 340.8 55.2 340.7 53.0 341.4 51.6 343.6 50.2ZM449.7 60.4 453.0 60.0 455.8 60.7 457.2 61.8 457.4 64.0 454.1 65.7 449.0 65.1 447.3 62.9 447.7 61.8ZM211.0 64.0 214.3 64.8 216.2 66.2 218.8 70.7 218.5 72.9 216.6 73.7 213.2 73.1 206.8 68.5 206.1 66.2 206.6 65.5ZM636.4 69.5 641.9 69.1 647.5 70.7 651.6 74.0 652.9 76.2 652.9 78.4 649.7 81.2 640.8 82.9 632.0 82.7 628.7 82.0 626.2 80.6 625.4 78.4 627.1 75.1 631.1 71.8ZM307.2 70.5 313.8 69.8 319.3 70.6 323.1 72.9 323.7 75.1 322.3 77.3 317.2 80.6 290.6 93.1 285.1 94.4 275.1 93.9 271.8 94.4 260.7 100.3 253.0 102.8 245.3 103.5 240.9 102.4 237.5 99.3 234.9 93.9 233.6 85.0 234.2 82.7 236.9 80.6 245.3 79.7 266.3 81.1 280.6 75.9ZM558.0 81.7 563.5 81.9 565.7 82.6 567.0 83.9 566.6 87.2 561.7 91.6 534.8 104.9 528.1 105.2 525.4 103.8 523.7 101.8 523.2 99.4 524.0 97.2 529.1 92.8 544.7 84.3 550.2 82.7ZM198.9 82.8 202.2 81.9 205.5 82.4 207.3 83.9 208.2 86.1 208.1 89.4 207.2 92.8 200.1 107.1 200.6 109.3 201.5 110.4 207.1 114.8 208.2 118.1 206.7 122.6 199.0 131.4 197.7 134.7 235.3 138.3 244.2 140.2 252.0 143.5 256.3 146.9 257.4 150.2 255.9 153.5 250.8 155.8 240.9 156.3 233.1 155.0 223.2 151.2 218.8 151.0 212.1 153.0 197.8 159.9 191.1 161.3 185.2 161.2 181.2 159.5 180.4 157.9 180.8 156.8 189.3 151.3 192.6 148.0 195.1 142.4 196.1 136.9 195.7 135.8 156.9 134.9 150.3 133.8 146.9 132.2 146.4 130.3 150.1 127.0 157.0 123.7 169.2 119.3 172.8 117.0 178.7 111.5 190.8 106.0 192.0 103.8 192.2 93.9 193.2 89.4 196.0 85.0ZM10.2 117.0 13.3 119.0 14.4 121.5 13.7 123.7 10.6 127.0 5.5 130.2 0.0 132.5 0.0 115.8ZM234.2 115.6 240.9 115.1 246.4 116.6 250.2 119.3 251.2 121.5 251.0 122.6 248.6 125.2 244.5 127.0 240.9 127.5 236.4 126.7 232.1 123.7 230.5 120.4 231.7 117.0ZM795.5 115.8 795.5 132.5 791.1 132.7 786.7 131.3 783.3 128.6 781.4 124.8 781.1 120.8 782.5 118.1 785.6 116.6ZM713.7 131.3 724.8 132.0 751.3 135.9 758.9 139.1 760.6 141.3 760.5 143.5 757.0 146.9 749.1 149.7 739.2 151.4 731.4 150.9 727.0 148.5 722.8 141.3 720.4 138.8 715.9 136.6 706.0 133.6 707.1 132.5ZM570.1 136.8 578.9 136.8 585.9 139.1 588.5 141.3 589.8 143.5 590.3 146.9 589.5 149.1 585.6 151.0 580.1 151.0 572.3 149.2 564.9 145.8 562.0 142.4 562.5 140.2 565.5 138.0ZM282.8 140.1 288.4 140.4 292.8 142.4 296.2 145.8 302.2 154.6 303.6 157.9 303.7 162.3 302.7 168.5 300.7 171.1 295.0 172.4 279.5 172.4 274.0 171.4 271.8 169.7 271.1 167.8 271.6 164.5 277.2 155.7 276.9 153.5 273.8 148.0 273.8 144.6 277.3 141.7ZM426.5 145.6 435.3 145.2 441.9 147.2 447.5 152.5 448.4 154.6 448.2 156.8 445.3 160.1 438.6 164.0 418.7 170.9 413.2 171.4 407.7 170.8 401.6 168.9 398.4 166.7 397.6 164.5 399.9 161.2 420.2 148.0ZM487.2 149.0 490.6 148.2 495.0 148.4 498.3 149.6 501.2 152.4 502.7 156.8 502.7 162.3 501.6 166.7 499.4 169.2 495.0 170.8 488.3 170.5 483.9 168.9 480.0 165.6 478.7 161.2 479.5 156.8 482.8 151.9ZM65.2 182.0 72.9 181.4 77.3 181.8 79.8 183.3 79.8 185.5 78.5 187.7 74.6 191.0 66.3 195.1 58.6 195.6 55.2 194.7 53.3 193.2 52.5 189.9 53.4 187.7 55.2 185.6 59.6 183.3ZM485.0 182.1 490.6 182.9 493.2 185.5 492.9 188.8 489.7 192.1 485.0 194.4 478.4 195.6 472.9 195.0 470.3 193.2 470.4 189.9 473.3 186.6 478.4 183.8ZM681.7 182.1 689.4 181.3 693.9 182.5 695.8 185.5 699.8 197.6 697.2 208.7 700.6 216.4 700.7 218.6 699.3 220.8 696.4 223.0 688.3 226.2 682.8 225.7 680.6 224.1 678.2 220.8 672.8 209.8 672.5 206.5 673.5 199.9 669.5 191.0 669.6 188.8 671.8 186.1 676.2 183.8Z"/>
<path fill="#bf812d" fill-rule="evenodd" d="M132.6 6.5 137.0 6.1 141.6 6.6 144.2 7.7 146.2 9.9 146.2 13.2 141.6 21.0 141.0 23.2 141.9 27.6 147.2 37.5 146.5 39.8 144.7 40.6 137.0 40.9 129.3 38.8 119.3 34.2 116.4 32.0 115.0 29.8 114.6 27.6 115.6 24.3 124.8 11.7 128.2 8.4ZM173.5 17.7 178.5 17.7 183.4 18.7 185.9 19.9 187.5 22.1 185.2 24.3 179.0 25.5 172.4 25.1 167.8 23.2 166.9 22.1 167.4 19.9 169.0 18.8ZM521.5 29.7 523.7 29.1 526.8 29.8 529.2 32.0 530.3 34.2 530.6 39.8 529.2 42.3 527.0 43.8 524.8 43.9 522.6 43.0 519.6 39.8 518.0 36.4 517.8 33.1ZM243.1 84.7 249.7 84.2 257.6 86.1 261.6 89.4 262.2 91.6 261.7 93.9 258.5 97.1 254.1 98.9 248.6 99.4 244.2 98.4 240.4 95.0 239.0 90.5 239.8 87.1ZM198.9 86.1 201.1 85.1 203.4 86.1 204.1 88.3 202.2 91.5 200.0 92.1 197.9 90.5 197.7 88.3ZM179.0 122.5 188.9 122.7 191.4 123.7 192.4 125.9 191.1 127.4 188.2 129.2 180.1 131.3 171.3 131.2 167.8 130.3 166.3 129.2 166.4 127.0 169.6 124.8ZM437.5 153.3 441.9 153.3 444.0 154.6 444.3 155.7 441.9 157.8 437.5 157.7 435.6 156.8 434.9 155.7 435.3 154.6Z"/>
<path fill="#8c510a" fill-rule="evenodd" d="M523.7 35.2 524.8 34.7 525.5 35.3 525.9 36.4 524.8 37.9 523.7 37.0ZM247.5 90.0 249.7 89.6 253.0 90.5 254.3 91.6 254.2 93.9 250.8 95.1 247.5 94.2 246.1 91.6Z"/><g transform="translate(0,0)"><path d="M637.9,106.4 635.3,108.2 635.5,114.0 636.6,117.0 640.8,117.0 646.3,118.8 645.7,122.6 646.8,128.1 647.7,129.8 M662.9,113.7 660.3,119.5 661.4,121.0 662.9,122.6 M669.3,119.5 667.6,128.1 670.7,128.3 M676.2,119.9 675.5,127.4 M681.5,123.2 675.5,127.4 670.7,128.3 665.6,129.8 663.4,127.4 662.9,122.6 657.0,123.7 653.0,124.1 653.6,129.2 647.7,129.8 641.9,130.1 641.9,134.7 641.0,141.8 634.4,144.0 632.4,148.6 634.6,152.4 639.7,153.5 639.7,156.8 643.0,156.8 649.7,154.1 651.2,156.8 656.3,160.1 661.8,163.0 662.5,168.5 666.5,168.5 667.3,171.1 668.4,176.7 667.3,181.1 672.2,181.7 674.8,189.0 676.6,192.3 672.6,194.3 668.2,199.2 672.2,201.0 677.9,204.5 677.5,206.9 M618.1,140.0 622.3,140.9 625.4,138.7 628.9,132.9 M621.4,129.4 625.4,131.4 629.1,132.7 M629.1,132.7 633.1,135.8 640.8,141.8 M643.0,156.8 643.7,160.3 641.9,165.6 641.3,170.7 641.9,171.1 M639.9,173.1 641.9,171.1 M641.9,171.1 644.1,174.5 644.8,180.0 645.7,183.1 M645.7,183.1 644.1,187.7 644.4,192.3 641.3,198.8 640.8,205.4 639.7,210.9 638.2,216.4 636.8,225.3 637.5,231.9 636.4,236.3 634.2,241.8 635.3,244.5 637.5,247.3 644.4,248.2 M643.9,248.7 643.9,254.0 M645.7,183.1 650.8,181.3 655.2,181.1 657.2,181.5 M657.2,181.5 659.2,175.8 665.1,175.1 667.6,176.7 M657.2,181.5 662.9,185.5 667.3,188.8 668.2,192.8 672.2,193.0 674.8,189.0 M666.5,207.4 667.3,203.2 668.2,199.2 M536.7,60.7 542.0,60.3 550.2,63.4 556.4,63.4 560.2,62.3 564.6,67.1 567.9,68.5 571.4,66.7 575.6,71.8 580.7,75.3 M591.8,100.5 592.2,97.2 593.5,97.2 595.7,96.9 595.7,93.2 598.4,93.2 600.4,91.6 M598.4,93.2 598.4,97.4 600.6,97.8 M598.4,97.4 598.0,100.7 596.4,102.2 M598.0,100.7 601.5,101.8 601.9,103.1 M600.2,97.4 604.4,101.6 607.7,100.5 611.7,99.4 M601.9,103.1 604.4,102.0 607.7,100.5 M606.1,108.0 609.0,108.2 610.5,108.4 M612.3,114.6 612.5,112.0 613.2,111.3 M624.5,115.1 624.9,113.3 M563.5,85.0 567.9,83.9 572.3,82.8 576.7,86.1 578.9,88.3 574.5,89.4 570.1,90.5 566.8,87.2 563.5,85.0 M560.2,62.3 561.3,70.7 565.7,75.1 570.1,79.5 574.5,82.8 M571.4,66.7 570.1,75.1 573.4,79.5 M550.2,63.4 553.5,70.7 556.9,75.1 M575.6,71.8 576.7,80.6 579.4,83.3 M586.7,92.3 591.1,93.9 594.4,93.2 M581.2,97.6 582.3,93.9 585.6,92.8 M572.3,92.8 576.7,91.6 581.2,91.6 M523.0,24.3 585.1,24.3 585.1,23.4 586.5,25.0 592.2,25.2 597.7,26.5 608.1,29.8 611.0,30.9 613.4,37.5 611.7,39.8 620.9,38.0 619.8,36.9 626.7,35.3 630.2,33.1 637.5,33.1 639.1,32.0 640.8,29.4 642.6,27.8 644.8,28.0 645.7,28.7 645.7,31.8 647.4,33.8 M483.9,-1.1 483.9,0.4 491.7,2.2 496.1,0.7 500.5,3.3 506.0,8.8 508.2,9.3 507.6,11.5 M521.1,39.8 550.2,39.8 565.6,42.0 570.1,42.0 570.1,44.2 584.9,44.2 585.6,44.6 586.5,46.2 M521.1,30.5 528.1,31.8 532.5,30.9 537.0,30.9 M530.3,39.8 530.3,46.4 542.3,55.2 542.0,60.3 M537.0,24.3 537.0,30.9 538.1,32.0 537.0,34.7 537.0,39.8 M539.2,24.3 539.2,27.6 542.5,29.8 543.6,32.0 545.8,34.2 550.2,34.2 550.2,33.1 M543.6,39.8 543.6,54.1 542.3,55.2 M550.2,33.1 550.2,42.0 554.6,42.0 554.6,63.4 M565.6,24.3 565.6,42.0 M565.6,33.1 550.2,33.1 M570.1,42.0 570.1,50.8 567.9,50.8 567.9,61.8 559.9,61.8 M543.6,50.8 570.1,50.8 586.5,50.8 M582.0,24.3 582.3,30.9 582.3,32.5 582.3,36.4 M565.6,30.9 582.3,30.9 M565.6,37.5 577.8,37.5 582.3,38.6 583.4,39.8 M570.1,44.2 584.9,44.2 M574.5,50.8 574.5,51.9 567.9,51.9 M574.5,51.9 574.5,56.3 576.7,57.0 581.2,57.9 585.6,57.6 587.7,58.3 M586.5,46.2 586.5,51.9 586.9,54.3 587.7,58.3 587.7,59.6 587.8,62.1 588.9,64.0 588.2,66.9 M586.5,51.9 596.6,51.9 597.7,53.0 596.6,55.2 594.4,59.6 594.0,64.0 597.3,64.0 597.5,65.8 M587.7,59.6 594.4,59.6 M582.3,36.4 594.0,36.4 595.3,38.6 594.4,42.8 593.3,43.3 583.8,42.8 M593.3,43.3 596.6,47.5 598.4,50.8 597.7,51.9 M591.5,29.4 591.1,32.0 594.0,36.4 M595.3,38.6 601.5,38.6 M602.1,40.4 602.1,48.6 601.0,49.0 600.8,49.7 599.9,50.8 M599.9,50.8 598.4,50.8 M608.1,40.4 608.1,46.2 605.5,48.6 602.1,48.6 M602.1,40.4 608.1,40.4 611.2,40.4 M617.6,39.8 617.6,42.8 617.6,44.8 619.8,44.8 628.0,44.8 628.7,44.6 M608.1,46.2 612.1,47.3 613.0,47.7 615.4,49.0 M597.7,51.9 615.0,51.7 627.8,51.8 M596.6,55.2 600.6,55.2 606.3,55.2 609.2,55.2 612.1,55.0 616.5,54.8 620.9,56.8 622.0,57.6 M599.9,55.2 600.2,64.0 600.2,65.4 M606.3,55.2 607.7,61.8 607.7,64.0 601.9,64.0 602.1,65.4 M607.7,64.0 607.9,64.7 614.3,64.9 615.4,64.7 M612.1,55.0 612.5,55.4 616.1,61.4 M615.0,51.7 613.0,47.7 617.6,44.8 M615.4,49.0 618.1,49.7 622.0,46.4 623.6,45.7 624.2,45.9 M619.4,39.8 629.1,39.8 630.4,41.3 632.9,42.0 M628.4,45.0 628.0,44.8 629.5,47.5 M632.6,33.1 633.5,38.2 633.1,41.5 M633.5,38.2 636.8,39.8 636.8,41.3 M633.1,39.8 636.8,39.8 639.1,38.0 M637.5,33.1 638.6,37.5 639.3,37.3 M635.3,33.1 635.3,38.2 M552.4,24.3 552.4,-1.1 M543.5,24.3 541.4,22.1 538.1,19.9 534.8,17.0 530.3,13.7 530.3,-1.1 M570.1,24.3 571.2,-1.1 M585.1,23.4 585.1,15.9 598.8,7.1 M619.8,18.8 619.8,27.6 620.9,29.8 625.4,31.4 630.9,32.7 M645.7,28.7 643.0,27.4 644.1,26.5 649.2,26.5 M654.1,18.8 669.5,18.8 M654.1,18.8 648.6,16.6 646.3,11.0 653.0,0.0 M-4.0,36.7 1.5,38.0 7.1,38.9 M791.5,36.7 797.0,38.0 802.6,38.9 M778.9,50.3 779.4,47.5 780.0,45.0 778.9,44.2 780.3,40.0 777.4,39.8 M5.5,19.7 9.1,22.1 12.8,23.2 14.1,23.2 18.1,24.3 16.8,27.4 15.2,27.6 13.3,30.3 15.5,31.1 14.6,32.9 15.5,34.9 16.6,35.8 M7.5,19.0 11.0,19.0 13.3,20.3 14.1,23.2 M13.0,14.6 15.7,17.2 13.3,20.3 M19.0,11.3 21.9,11.5 M16.8,27.4 21.2,27.6 23.2,27.6 27.0,27.2 28.7,27.6 28.7,25.8 30.5,24.7 27.6,23.2 26.7,21.4 32.7,20.1 32.3,16.6 31.4,13.5 M15.5,31.1 18.8,30.5 19.9,31.4 23.2,29.8 27.4,28.7 30.3,29.8 M21.2,27.6 21.0,28.7 23.2,29.2 M28.7,25.8 32.7,24.7 37.3,25.2 37.6,26.5 36.5,27.6 35.6,29.2 30.3,29.8 30.1,32.0 M26.7,21.4 32.7,20.1 36.0,20.5 41.5,23.2 39.3,24.5 37.3,25.2 M41.5,23.2 49.7,24.1 48.8,25.6 45.3,25.4 41.5,26.9 38.0,26.5 M32.3,16.6 33.1,19.9 36.0,20.5 M49.7,24.1 53.0,21.0 51.9,17.7 51.9,14.4 50.4,12.4 43.3,12.4 M50.4,12.4 47.3,10.4 48.6,8.0 46.4,8.6 M51.9,13.5 57.5,12.6 58.8,9.5 61.9,8.6 55.2,8.4 48.6,8.0 M61.9,8.6 61.2,6.0 57.5,4.4 61.2,4.6 60.5,2.4 61.9,1.1 M53.0,21.0 52.8,17.7 70.7,17.7 70.3,17.4 M61.9,8.6 70.3,11.0 70.3,17.4 76.0,19.4 79.5,21.4 84.0,22.3 88.4,23.0 87.7,26.9 84.4,28.5 M48.8,25.6 50.6,26.7 55.0,27.2 58.8,26.1 62.3,26.1 65.6,30.0 62.3,32.0 M50.6,26.7 48.6,27.6 46.4,30.3 44.6,30.7 41.5,31.1 38.2,31.1 36.2,29.4 M44.6,30.7 47.5,33.1 50.2,34.2 49.5,35.3 50.6,37.1 49.5,39.1 45.5,41.7 45.1,39.1 42.9,40.0 M50.2,34.2 56.3,36.0 61.9,35.8 63.2,36.0 M49.5,39.1 50.8,41.3 57.7,40.4 61.9,39.8 M45.5,41.7 46.4,42.8 44.4,45.0 M50.8,41.3 49.7,41.7 46.4,42.2 M57.7,40.4 58.8,41.3 57.9,42.8 M36.2,29.4 34.5,30.5 34.3,32.0 36.5,32.7 42.0,33.3 42.4,35.3 43.1,37.5 40.9,38.6 M36.5,32.7 38.7,33.1 41.5,31.1 M34.9,32.7 36.5,35.3 38.7,37.5 M42.4,35.3 45.5,35.8 47.5,33.1 M42.0,36.9 44.9,38.0 45.5,39.3 M79.1,59.2 85.7,58.7 86.8,61.4 81.8,62.9 84.0,66.2 80.7,67.6 77.3,67.4 M79.1,53.4 80.9,51.2 84.0,51.2 89.5,50.8 93.5,50.6 91.3,56.3 85.7,58.7 M93.5,50.6 99.0,50.3 97.9,47.7 99.0,44.8 M99.0,44.8 96.3,42.2 94.6,40.9 91.9,40.6 M96.3,42.2 99.4,41.5 102.8,42.0 102.8,40.2 99.2,38.0 96.1,37.8 88.4,36.7 M102.8,40.2 105.0,41.3 107.4,40.2 M99.0,44.8 101.6,46.6 106.1,47.7 108.1,47.7 M99.0,50.3 100.5,54.1 101.6,59.6 105.0,61.8 106.1,65.1 107.4,66.2 M91.3,56.3 94.6,62.9 98.8,68.0 102.8,68.2 105.4,69.6 107.2,70.2 M105.4,69.6 105.0,68.5 106.1,67.6 M86.8,61.4 89.5,62.3 94.6,62.9 M77.3,67.4 82.9,67.4 M98.8,68.0 105.4,69.6 M114.0,78.8 116.0,82.8 122.6,83.9 123.7,88.3 121.5,89.4 114.9,90.5 115.3,95.6 M122.6,83.9 122.0,82.4 123.7,79.5 124.6,77.5 M96.1,95.8 99.4,93.9 103.9,95.0 107.8,92.8 114.9,90.5 M117.1,50.1 122.6,48.6 126.4,48.1 131.5,49.7 134.8,51.7 135.2,53.9 133.7,58.5 134.8,63.2 136.6,64.0 137.0,67.4 135.9,70.7 139.2,74.0 136.1,76.8 M135.2,53.9 139.2,54.1 142.5,52.3 144.7,50.1 149.8,50.3 154.7,49.7 158.0,50.8 165.5,49.9 M134.8,63.2 139.2,67.4 146.7,66.7 147.4,63.6 151.4,62.3 153.1,58.5 156.9,57.4 158.2,54.1 158.0,50.8 165.3,50.3 M117.1,50.1 117.1,40.9 123.7,41.3 123.7,33.1 129.3,32.0 M122.6,48.6 128.2,47.5 131.5,44.2 137.0,44.2 141.4,46.4 144.7,48.1 149.8,50.3 M117.1,40.9 123.5,41.3 128.2,38.6 132.6,39.8 134.8,41.5 138.1,36.4 145.8,37.5 144.7,33.1 134.8,34.2 129.3,32.0 M141.4,46.4 146.9,46.4 151.4,44.2 156.9,43.7 161.3,45.3 154.7,42.4 161.8,43.1 156.9,39.3 154.7,40.9 152.5,41.3 145.8,39.8 M161.3,45.3 165.7,43.1 169.7,43.1 173.5,40.9 177.2,39.3 169.0,38.0 164.6,37.5 159.1,38.4 156.9,39.3 M149.8,50.3 152.5,50.8 156.9,47.5 162.4,47.5 165.5,49.9 M177.2,39.3 177.9,33.1 182.3,32.0 183.4,28.3 188.9,28.7 192.2,24.3 187.8,23.2 179.0,20.3 170.1,14.8 162.4,13.2 154.7,11.0 150.3,11.0 143.6,11.9 134.8,13.2 134.8,16.1 132.6,18.8 126.0,19.9 121.5,20.8 117.1,18.8 112.7,19.4 106.1,22.1 103.9,24.3 102.8,25.6 105.0,27.4 108.3,29.8 M192.2,24.3 198.9,21.0 204.0,20.3 209.9,22.1 215.4,22.1 217.7,17.7 225.4,18.8 227.6,21.4 236.4,21.4 238.6,23.4 244.2,23.8 248.6,23.2 253.0,21.6 257.9,22.5 255.2,26.3 259.6,26.9 264.7,28.7 260.7,29.2 256.3,32.5 247.0,32.9 245.3,36.0 240.9,38.6 232.0,40.6 221.0,38.4 213.2,38.0 210.6,34.7 206.6,33.1 200.6,32.5 200.4,29.8 198.9,26.9 194.5,25.2 192.2,24.3 M257.9,22.5 260.3,23.2 264.5,21.2 267.4,16.6 272.9,14.4 277.3,15.5 281.7,22.1 288.4,24.7 289.5,27.2 293.9,26.1 298.3,25.6 296.1,28.7 295.0,33.1 290.6,33.3 289.5,36.9 288.8,38.9 M274.9,44.4 279.5,40.9 283.3,39.8 286.6,38.9 288.8,38.9 M278.6,49.0 280.6,48.6 283.7,47.3 M165.5,49.9 166.8,51.9 170.1,54.1 173.5,56.3 174.6,60.7 173.5,63.6 179.0,65.8 183.4,67.4 187.8,69.6 194.5,70.9 196.7,71.8 202.2,70.9 204.4,71.1 207.7,68.7 212.1,68.0 215.0,70.2 217.2,71.8 218.1,75.5 215.9,79.5 219.9,83.9 223.2,85.0 224.9,85.7 226.5,82.4 229.8,82.2 234.2,81.9 238.2,84.8 M165.5,49.9 164.6,56.3 163.5,59.6 165.7,61.2 164.6,64.0 163.5,66.2 156.9,71.1 154.7,72.9 155.8,75.7 153.6,79.1 151.4,80.2 M177.4,65.8 180.1,69.6 185.6,72.0 190.0,73.8 194.7,74.2 194.9,71.1 M194.7,74.2 196.7,76.8 195.6,78.8 196.0,81.7 196.7,84.4 M196.7,76.8 198.9,76.6 204.4,77.3 203.7,80.2 202.9,81.7 204.8,85.7 204.0,86.6 M196.7,71.8 198.4,73.5 203.3,73.3 204.4,71.1 M203.7,80.2 206.4,79.5 209.0,76.8 210.4,73.5 214.3,72.4 215.0,70.2 M215.9,79.5 219.4,83.7 221.2,87.5 223.2,89.2 217.9,89.0 215.0,91.6 215.9,96.1 M223.2,89.2 221.6,92.3 223.8,93.2 226.5,93.0 231.4,96.1 233.1,101.1 227.6,100.7 226.1,102.5 226.9,105.3 M224.9,85.7 226.5,89.4 229.8,90.1 232.5,91.9 235.6,93.9 237.5,97.2 237.5,100.5 235.3,100.5 233.1,101.1 M235.3,100.5 237.5,105.3 234.2,108.2 232.0,109.3 230.9,109.5 M221.2,118.1 223.2,118.8 225.4,119.0 M242.2,128.1 243.1,130.3 249.7,129.2 253.0,129.2 255.2,125.9 255.2,123.7 256.3,123.0 259.9,123.2 M253.0,121.7 254.6,121.9 255.2,121.5 M311.6,138.2 311.6,152.6 M275.1,152.8 276.4,153.5 M-4.0,55.0 -3.8,60.7 -8.2,64.5 -19.2,69.1 -19.2,71.3 M791.5,55.0 791.7,60.7 787.3,64.5 776.3,69.1 776.3,71.3 M776.3,71.3 766.3,71.3 M776.3,71.3 776.3,75.1 769.0,75.1 769.0,80.6 766.8,85.5 757.9,85.5 M776.3,72.2 784.9,77.3 783.3,96.3 770.3,98.0 768.5,100.3 759.0,96.7 M19.0,51.0 18.3,56.1 16.6,57.9 21.0,65.8 M21.0,65.8 21.9,71.8 22.1,76.6 26.5,80.6 M25.4,59.4 22.8,62.3 21.0,65.8 M26.5,80.6 12.8,89.7 9.3,90.3 M9.3,90.3 7.3,90.5 2.4,86.8 -10.6,77.3 M804.8,90.3 802.8,90.5 797.9,86.8 784.9,77.3 M55.2,62.7 55.2,83.9 M55.2,83.9 81.5,83.9 M55.2,83.9 55.2,88.3 53.0,88.3 53.0,89.4 M53.0,89.4 35.4,80.6 33.1,81.7 M33.1,81.7 30.9,82.6 26.5,80.6 M33.1,81.7 34.3,87.2 34.3,96.1 29.8,101.6 32.0,104.9 32.0,108.2 34.3,110.4 30.9,111.5 34.3,115.9 36.5,115.3 40.9,113.1 42.0,112.6 46.4,111.3 50.6,108.4 M9.3,90.3 9.3,96.1 2.9,98.7 0.4,99.6 M804.8,90.3 804.8,96.1 798.4,98.7 795.9,99.6 M0.4,99.6 -4.4,101.1 -9.9,104.5 -11.9,109.5 M795.9,99.6 791.1,101.1 785.6,104.5 783.6,109.5 M0.4,99.6 2.2,102.7 5.1,104.9 6.2,105.6 8.0,106.7 8.8,102.7 13.3,102.2 17.7,103.8 22.1,103.1 27.6,103.6 29.8,101.6 M795.9,99.6 797.7,102.7 800.6,104.9 801.7,105.6 803.5,106.7 804.3,102.7 808.8,102.2 813.2,103.8 817.6,103.1 823.1,103.6 825.3,101.6 M8.0,106.7 6.0,112.6 6.0,118.6 M5.1,104.9 2.2,104.2 0.0,108.2 0.4,114.8 2.7,119.0 M800.6,104.9 797.7,104.2 795.5,108.2 795.9,114.8 798.2,119.0 M0.0,108.2 -0.4,114.8 1.1,118.6 M795.5,108.2 795.1,114.8 796.6,118.6 M0.0,108.2 -6.2,108.2 -6.2,111.5 -5.5,114.8 -6.6,121.2 M795.5,108.2 789.3,108.2 789.3,111.5 790.0,114.8 788.9,121.2 M789.3,108.2 783.6,109.5 780.0,110.0 777.8,110.4 776.7,115.9 778.7,122.8 M776.7,115.9 773.4,113.7 770.8,117.0 770.1,117.3 M773.4,113.7 772.3,112.0 766.8,110.6 766.1,112.6 M777.8,110.4 776.7,107.1 770.3,105.1 765.2,104.5 758.6,105.1 M770.3,105.1 768.5,100.3 M765.2,104.5 762.4,106.0 761.7,107.8 M758.6,103.3 765.0,102.7 765.0,103.6 758.4,103.6 M18.8,122.6 19.9,119.3 25.4,117.3 27.6,113.7 29.8,110.4 32.0,108.2 M21.2,127.4 25.0,127.6 29.4,127.6 35.4,128.1 35.6,124.6 32.0,122.6 33.1,119.3 34.3,115.9 M25.0,127.6 25.0,130.3 20.8,130.3 M29.4,127.6 32.0,130.7 30.9,135.8 31.4,138.0 26.3,143.1 M35.4,128.1 39.1,133.6 38.2,136.9 36.0,140.2 33.8,141.8 27.2,145.8 M36.5,115.3 40.9,123.2 44.2,123.2 49.7,122.3 53.0,121.5 55.9,121.2 60.5,121.2 60.8,118.8 62.8,111.7 51.9,113.3 50.6,108.4 M50.6,108.4 50.8,106.0 49.7,104.5 49.7,101.6 53.0,97.8 53.0,89.4 M60.5,121.2 66.3,124.3 68.5,124.3 74.0,124.1 79.3,122.3 76.2,118.1 72.9,114.8 75.6,113.5 75.8,109.3 77.8,108.2 80.7,103.8 80.7,100.9 85.3,92.8 M62.8,111.7 68.5,110.9 71.8,106.0 72.9,105.6 72.5,110.4 75.1,110.0 M80.7,100.9 88.4,100.7 91.7,102.7 93.7,104.9 M93.7,104.9 94.6,108.2 95.7,107.1 M94.6,108.2 97.2,112.6 105.8,115.1 99.4,121.5 92.8,123.7 90.6,123.9 M90.6,123.9 90.6,135.8 91.7,136.3 M90.6,123.9 86.2,124.8 79.3,122.3 M75.1,123.2 77.3,129.2 75.1,132.5 M74.9,134.7 83.3,139.1 86.6,142.9 M89.5,155.7 82.9,158.1 79.1,157.9 76.5,157.9 M66.3,124.3 66.1,130.3 65.4,135.6 64.1,138.7 64.7,142.4 68.1,150.8 M65.4,135.6 68.1,134.7 67.4,137.8 64.7,140.0 M68.1,134.7 74.9,134.7 M68.1,150.8 72.7,153.3 74.5,156.8 73.6,160.1 72.3,162.5 66.7,166.9 M73.6,160.1 76.5,162.3 78.0,170.0 76.2,166.7 M66.7,166.9 61.9,167.8 55.9,171.8 59.2,172.5 61.9,175.1 64.5,178.9 69.2,182.0 71.6,179.5 72.9,174.5 72.7,169.4 67.2,166.9 M68.1,150.8 63.9,151.3 63.0,155.7 64.5,159.7 60.8,159.4 56.3,157.2 53.7,156.8 53.0,161.2 48.6,161.2 48.6,168.3 51.9,171.8 55.9,171.8 M53.7,156.8 49.3,156.8 48.6,153.7 46.4,148.0 44.2,148.0 38.7,150.2 36.5,145.5 27.2,145.8 M51.9,171.8 46.2,172.9 46.4,181.1 44.2,181.1 44.2,187.3 44.2,195.4 39.8,196.3 36.5,195.7 M44.2,187.3 48.6,189.5 56.3,188.8 59.7,185.5 64.5,181.5 69.2,182.0 70.7,187.7 70.7,191.7 72.7,191.9 M26.1,170.7 29.8,170.0 40.9,171.1 46.4,172.2 51.9,171.8 M59.7,197.9 63.0,195.7 65.0,197.4 62.3,200.1 59.7,197.9 M68.5,189.3 70.7,190.6 69.2,192.8 68.5,189.3 M21.2,123.9 21.2,127.4 M543.1,70.7 546.2,70.7 M555.5,63.4 555.7,70.7 554.9,73.8 M554.9,73.8 558.0,75.1 561.3,80.6 562.4,82.8 M564.6,67.1 566.8,72.9 565.2,75.1 M565.2,75.1 566.8,79.5 566.1,82.8 565.0,83.9 M573.9,71.1 572.3,75.1 573.4,77.3 572.3,79.5 M575.6,71.8 575.2,78.4 575.6,81.7 577.8,83.5 M567.9,90.5 569.0,87.2 566.8,85.0 M571.2,92.8 573.4,91.4 574.5,89.4 M577.8,96.1 577.8,93.2 579.4,91.6 M583.4,91.6 586.7,95.0 587.8,96.7 M595.7,86.1 597.7,88.3 596.6,91.6 M601.0,85.0 598.8,89.4 598.4,93.2 M572.3,82.8 574.5,85.7 578.9,86.1 M567.9,83.9 569.0,80.6 572.3,79.5" fill="none" stroke="#006400" stroke-width="1.4" stroke-linejoin="round" stroke-linecap="round"/><path d="M-13.0,53.4 -4.4,55.0 0.0,53.2 6.6,51.2 14.4,50.6 22.1,50.3 24.3,51.0 23.2,54.1 24.7,57.9 22.5,58.3 25.4,59.4 29.2,59.8 33.6,61.2 37.6,63.4 42.0,65.6 44.4,63.6 44.4,61.4 48.2,59.8 51.3,61.2 55.2,62.7 60.3,63.2 66.1,63.6 71.4,63.4 75.6,63.4 77.1,67.4 75.8,70.4 75.6,71.1 74.0,69.6 72.0,66.5 72.9,69.6 74.7,72.4 76.5,75.7 78.4,79.7 81.5,83.9 82.2,89.2 85.3,92.8 87.7,98.0 91.7,102.0 95.7,104.9 95.5,107.1 98.3,109.5 103.9,108.0 108.3,107.5 113.1,106.4 112.7,109.5 110.0,114.8 107.2,120.8 103.9,124.8 100.1,128.1 96.1,130.7 93.9,133.4 90.4,137.6 87.7,141.6 86.0,145.8 86.8,147.5 87.1,151.3 88.8,155.2 89.5,161.2 89.9,164.5 88.2,168.3 81.5,172.0 76.9,176.2 78.0,181.1 78.2,185.3 72.0,189.7 72.5,193.2 68.5,198.5 65.2,202.1 61.7,205.4 56.6,207.6 50.8,207.6 44.2,209.3 40.7,207.4 39.6,205.4 38.2,199.9 36.5,195.7 33.4,191.2 32.0,183.1 29.2,176.7 26.1,170.7 27.0,166.1 29.6,160.3 30.1,155.9 29.2,151.9 27.2,145.8 26.3,143.1 23.2,139.1 20.6,134.7 19.2,133.8 20.8,131.6 21.2,127.0 21.2,123.9 18.8,122.6 15.5,122.8 13.3,123.0 11.0,120.4 9.3,118.6 7.5,118.4 3.3,118.8 -0.4,120.1 -4.4,122.1 -8.8,120.8 -13.0,121.5 -17.0,122.8 -21.0,120.8 -23.9,118.6 -27.6,116.2 -29.2,113.7 -30.3,111.5 -32.5,108.9 -34.5,106.2 -36.9,104.9 -36.7,102.9 -38.7,100.0 -36.5,96.7 -35.6,91.6 -36.5,89.4 -35.8,87.9 -37.6,86.1 -36.0,82.8 -35.1,80.2 -32.5,76.4 -30.1,73.3 -28.5,70.9 -25.0,70.2 -21.7,67.4 -21.2,65.4 -21.7,62.9 -19.0,59.4 -16.8,58.3 -15.0,57.4 -13.7,54.1 -13.0,53.4 M782.5,53.4 791.1,55.0 795.5,53.2 802.1,51.2 809.9,50.6 817.6,50.3 819.8,51.0 818.7,54.1 820.2,57.9 818.0,58.3 820.9,59.4 824.7,59.8 829.1,61.2 833.1,63.4 837.5,65.6 839.9,63.6 839.9,61.4 843.7,59.8 846.8,61.2 850.7,62.7 855.8,63.2 861.6,63.6 866.9,63.4 871.1,63.4 872.6,67.4 871.3,70.4 871.1,71.1 869.5,69.6 867.5,66.5 868.4,69.6 870.2,72.4 872.0,75.7 873.9,79.7 877.0,83.9 877.7,89.2 880.8,92.8 883.2,98.0 887.2,102.0 891.2,104.9 891.0,107.1 893.8,109.5 899.4,108.0 903.8,107.5 908.6,106.4 908.2,109.5 905.5,114.8 902.7,120.8 899.4,124.8 895.6,128.1 891.6,130.7 889.4,133.4 885.9,137.6 883.2,141.6 881.5,145.8 882.3,147.5 882.6,151.3 884.3,155.2 885.0,161.2 885.4,164.5 883.7,168.3 877.0,172.0 872.4,176.2 873.5,181.1 873.7,185.3 867.5,189.7 868.0,193.2 864.0,198.5 860.7,202.1 857.2,205.4 852.1,207.6 846.3,207.6 839.7,209.3 836.2,207.4 835.1,205.4 833.7,199.9 832.0,195.7 828.9,191.2 827.5,183.1 824.7,176.7 821.6,170.7 822.5,166.1 825.1,160.3 825.6,155.9 824.7,151.9 822.7,145.8 821.8,143.1 818.7,139.1 816.1,134.7 814.7,133.8 816.3,131.6 816.7,127.0 816.7,123.9 814.3,122.6 811.0,122.8 808.8,123.0 806.5,120.4 804.8,118.6 803.0,118.4 798.8,118.8 795.1,120.1 791.1,122.1 786.7,120.8 782.5,121.5 778.5,122.8 774.5,120.8 771.6,118.6 767.9,116.2 766.3,113.7 765.2,111.5 763.0,108.9 761.0,106.2 758.6,104.9 758.8,102.9 756.8,100.0 759.0,96.7 759.9,91.6 759.0,89.4 759.7,87.9 757.9,86.1 759.5,82.8 760.4,80.2 763.0,76.4 765.4,73.3 767.0,70.9 770.5,70.2 773.8,67.4 774.3,65.4 773.8,62.9 776.5,59.4 778.7,58.3 780.5,57.4 781.8,54.1 782.5,53.4 M108.9,159.0 110.9,164.5 111.6,166.7 109.4,171.1 107.6,176.7 106.1,181.1 104.1,187.5 99.9,189.0 97.2,187.3 96.3,184.2 95.7,180.0 97.9,175.6 97.2,171.1 98.1,168.3 102.3,167.2 105.8,162.5 108.9,159.0 M48.6,-1.1 47.3,0.0 47.5,6.0 46.6,8.8 46.6,9.5 44.2,11.3 43.3,12.4 41.1,12.4 37.6,11.7 31.6,13.5 26.5,12.8 24.1,13.2 22.3,12.6 22.1,11.0 23.2,7.7 23.4,5.1 21.0,6.4 19.0,6.4 18.1,9.9 19.0,13.5 15.5,14.4 10.6,15.5 9.3,17.7 7.1,19.2 4.2,19.9 3.5,21.6 0.2,23.2 -3.5,23.0 -3.5,25.0 -6.6,24.7 -9.9,25.6 -9.5,26.9 -5.1,28.3 -2.7,30.9 -2.7,34.0 -4.0,36.7 -11.0,36.4 -17.7,36.0 -20.6,37.5 -19.7,38.6 -19.2,41.5 -19.7,44.2 -21.0,47.0 -19.4,47.5 -19.9,50.8 -16.4,50.3 -13.9,51.9 -12.4,53.0 -9.7,51.5 -4.9,51.2 -1.1,47.9 0.4,46.8 -0.7,45.3 2.0,42.0 4.9,41.1 7.1,39.1 6.6,37.5 10.6,36.7 16.1,36.0 19.7,34.5 22.8,36.4 24.5,38.9 27.0,40.2 31.4,42.4 34.7,44.2 34.5,48.1 35.4,48.6 36.7,47.5 37.8,46.4 36.5,44.8 38.0,43.1 40.9,43.9 37.3,41.7 35.1,40.0 31.6,38.9 29.8,36.2 27.2,34.2 27.2,32.2 30.3,31.6 30.1,33.1 32.0,32.5 35.1,36.2 40.0,38.4 42.9,40.0 42.9,42.8 44.4,45.3 46.4,47.9 48.0,51.2 49.7,52.1 50.8,51.9 51.3,48.8 53.0,48.1 50.6,42.8 53.0,42.6 57.5,42.4 58.6,43.1 60.8,42.0 64.1,41.5 61.9,40.6 61.7,37.1 63.2,34.9 65.6,32.7 67.8,29.8 71.8,30.7 74.0,32.9 73.8,34.2 76.2,34.2 80.7,32.5 78.0,32.2 77.3,30.9 84.0,28.7 87.3,28.3 84.4,30.0 83.7,31.8 83.3,33.8 87.7,36.2 91.9,40.6 88.4,42.0 81.8,41.7 80.2,41.3 77.3,39.8 72.9,40.0 69.2,41.7 64.3,41.5 64.7,42.6 59.7,43.3 57.9,45.3 59.2,47.7 60.3,50.8 62.3,51.5 65.4,52.6 67.6,51.2 71.8,52.8 76.5,51.2 80.0,51.5 79.1,54.1 78.4,57.6 77.3,60.1 76.2,62.9 75.6,63.4 M844.1,-1.1 842.8,0.0 843.0,6.0 842.1,8.8 842.1,9.5 839.7,11.3 838.8,12.4 836.6,12.4 833.1,11.7 827.1,13.5 822.0,12.8 819.6,13.2 817.8,12.6 817.6,11.0 818.7,7.7 818.9,5.1 816.5,6.4 814.5,6.4 813.6,9.9 814.5,13.5 811.0,14.4 806.1,15.5 804.8,17.7 802.6,19.2 799.7,19.9 799.0,21.6 795.7,23.2 792.0,23.0 792.0,25.0 788.9,24.7 785.6,25.6 786.0,26.9 790.4,28.3 792.8,30.9 792.8,34.0 791.5,36.7 784.5,36.4 777.8,36.0 774.9,37.5 775.8,38.6 776.3,41.5 775.8,44.2 774.5,47.0 776.1,47.5 775.6,50.8 779.1,50.3 781.6,51.9 783.1,53.0 785.8,51.5 790.6,51.2 794.4,47.9 795.9,46.8 794.8,45.3 797.5,42.0 800.4,41.1 802.6,39.1 802.1,37.5 806.1,36.7 811.6,36.0 815.2,34.5 818.3,36.4 820.0,38.9 822.5,40.2 826.9,42.4 830.2,44.2 830.0,48.1 830.9,48.6 832.2,47.5 833.3,46.4 832.0,44.8 833.5,43.1 836.4,43.9 832.8,41.7 830.6,40.0 827.1,38.9 825.3,36.2 822.7,34.2 822.7,32.2 825.8,31.6 825.6,33.1 827.5,32.5 830.6,36.2 835.5,38.4 838.4,40.0 838.4,42.8 839.9,45.3 841.9,47.9 843.5,51.2 845.2,52.1 846.3,51.9 846.8,48.8 848.5,48.1 846.1,42.8 848.5,42.6 853.0,42.4 854.1,43.1 856.3,42.0 859.6,41.5 857.4,40.6 857.2,37.1 858.7,34.9 861.1,32.7 863.3,29.8 867.3,30.7 869.5,32.9 869.3,34.2 871.7,34.2 876.2,32.5 873.5,32.2 872.8,30.9 879.5,28.7 882.8,28.3 879.9,30.0 879.2,31.8 878.8,33.8 883.2,36.2 887.4,40.6 883.9,42.0 877.3,41.7 875.7,41.3 872.8,39.8 868.4,40.0 864.7,41.7 859.8,41.5 860.2,42.6 855.2,43.3 853.4,45.3 854.7,47.7 855.8,50.8 857.8,51.5 860.9,52.6 863.1,51.2 867.3,52.8 872.0,51.2 875.5,51.5 874.6,54.1 873.9,57.6 872.8,60.1 871.7,62.9 871.1,63.4 M77.1,67.4 79.1,71.8 80.7,74.6 82.9,78.2 84.2,79.5 86.6,85.0 89.5,89.4 91.5,92.8 93.9,95.2 94.6,99.8 96.1,104.5 99.4,104.2 103.9,102.7 107.2,101.6 108.5,100.5 112.7,98.9 115.3,98.0 118.2,96.3 122.6,94.3 125.5,91.4 127.7,90.5 129.9,87.2 132.1,82.8 129.5,80.4 126.0,79.1 124.6,77.5 124.4,74.2 122.2,76.6 119.3,79.1 114.9,79.5 114.0,78.8 114.0,75.3 113.1,74.9 112.3,78.0 110.9,74.0 109.4,72.2 107.2,70.2 106.1,67.6 107.4,66.2 109.4,66.2 111.1,67.8 112.3,68.7 113.8,70.9 116.0,72.0 120.4,73.8 124.4,72.4 126.6,75.5 130.4,76.4 136.1,76.8 140.3,76.8 147.4,76.4 148.1,77.7 151.4,80.6 155.3,81.9 152.5,83.0 154.7,86.1 156.4,86.8 159.3,85.7 160.4,85.5 160.9,90.5 162.4,97.2 163.1,98.3 165.3,104.0 167.5,107.8 168.6,110.6 171.3,114.6 172.8,113.1 175.2,109.8 176.3,106.2 177.4,103.6 177.0,98.3 181.9,95.6 184.1,93.4 188.9,88.8 192.0,86.6 194.2,83.9 196.7,84.4 200.0,83.3 202.9,83.3 204.0,86.6 205.5,89.4 208.4,92.8 208.4,97.2 211.0,97.6 212.6,95.4 215.7,96.1 215.9,99.4 217.0,102.2 217.9,110.4 217.2,114.8 217.9,115.1 221.6,120.4 224.1,126.3 228.7,129.6 230.3,129.4 228.5,124.1 228.5,121.9 225.8,118.8 222.1,116.6 220.3,113.3 219.2,110.0 221.0,104.7 223.0,102.7 225.4,104.7 227.4,106.9 230.9,109.5 232.0,113.5 235.8,109.5 238.2,108.9 240.6,107.5 241.3,104.9 241.5,102.0 239.3,96.9 236.9,95.0 235.6,92.8 233.8,90.5 235.6,87.2 238.6,85.0 242.4,85.0 243.1,87.7 244.2,87.9 245.3,85.0 250.4,83.5 252.4,83.3 257.9,80.8 261.0,78.4 264.1,75.3 266.7,70.9 269.4,66.5 269.4,64.0 267.2,60.5 263.6,56.1 265.8,53.0 270.7,49.9 267.2,49.0 263.0,50.3 260.3,47.3 264.3,44.4 268.3,42.2 270.0,43.1 267.6,46.6 270.2,45.3 274.9,44.4 276.4,47.3 279.8,49.9 279.1,55.2 279.5,56.8 282.2,55.9 285.1,55.0 285.9,53.0 285.9,49.7 283.7,47.3 281.7,44.6 284.2,43.5 286.6,42.0 288.8,39.1 291.5,37.3 293.9,38.0 299.0,35.8 304.3,32.0 310.0,25.8 310.5,22.1 312.5,17.2 312.2,15.2 307.2,13.2 303.8,13.2 298.8,11.7 301.6,9.9 306.0,7.7 310.5,3.3 316.0,1.5 324.8,1.5 331.5,0.9 335.9,2.2 342.5,1.1 346.5,-2.2 M354.7,-2.2 353.1,-1.1 359.1,0.4 360.6,4.4 358.0,8.6 357.5,11.0 353.6,12.8 350.5,15.5 346.3,19.9 344.7,15.9 344.1,11.0 346.0,5.5 349.1,4.4 353.6,1.1 355.8,-0.7 M10.8,-1.1 11.0,0.0 12.2,2.2 12.6,2.4 15.5,4.4 17.7,4.2 21.0,2.2 23.2,1.1 23.6,2.2 25.4,3.3 26.5,5.1 27.6,7.7 28.3,8.8 28.5,10.2 31.4,10.2 32.5,8.4 35.4,8.2 36.7,5.5 37.1,3.3 39.8,1.5 41.5,0.0 38.7,-1.5 M-12.6,21.9 -8.8,21.2 -3.1,20.3 3.1,19.4 3.8,16.3 0.7,15.5 -0.2,12.8 -3.3,11.0 -4.4,9.1 -6.6,8.6 -5.5,7.1 -4.0,5.5 -7.7,5.1 -6.9,3.1 -11.0,3.1 -12.6,5.5 -12.4,8.2 -10.8,9.7 -11.0,11.5 -6.9,11.3 -7.3,13.2 -6.6,14.6 -10.2,14.8 -9.9,15.9 -9.1,17.0 -11.5,18.1 -7.1,19.0 -9.3,19.7 -12.6,21.9 M782.9,21.9 786.7,21.2 792.4,20.3 798.6,19.4 799.3,16.3 796.2,15.5 795.3,12.8 792.2,11.0 791.1,9.1 788.9,8.6 790.0,7.1 791.5,5.5 787.8,5.1 788.6,3.1 784.5,3.1 782.9,5.5 783.1,8.2 784.7,9.7 784.5,11.5 788.6,11.3 788.2,13.2 788.9,14.6 785.3,14.8 785.6,15.9 786.4,17.0 784.0,18.1 788.4,19.0 786.2,19.7 782.9,21.9 M782.2,17.2 781.8,14.8 782.5,11.9 779.6,10.4 776.9,11.0 776.7,12.6 773.4,12.8 773.6,14.6 774.5,16.3 772.5,17.9 773.8,18.8 777.4,18.1 781.4,17.2 782.2,17.2 M27.4,49.0 29.6,48.1 34.5,47.9 33.4,50.8 31.6,50.8 27.4,49.0 M18.6,42.0 21.2,42.0 21.4,45.9 18.8,46.6 18.6,44.2 18.6,42.0 M19.2,37.8 21.0,37.8 20.8,41.1 19.4,40.6 19.2,37.8 M51.9,54.1 58.1,54.8 54.1,55.4 51.9,54.1 M71.4,55.2 76.5,53.9 74.9,56.1 71.6,55.9 71.4,55.2 M103.9,33.8 103.6,31.8 105.2,31.6 108.7,30.0 112.7,28.7 117.1,28.9 117.6,32.5 113.4,32.7 112.7,34.7 111.1,34.5 113.4,37.1 116.5,38.4 116.7,41.5 118.9,42.8 117.1,44.2 119.1,49.9 114.7,51.2 110.7,49.9 108.3,47.9 109.2,43.5 111.4,43.1 108.7,41.5 107.4,40.2 105.0,37.8 104.5,35.3 103.9,33.8 M128.6,32.0 131.5,32.0 135.0,33.6 132.6,36.4 129.3,35.3 128.6,32.0 M162.4,32.7 166.8,29.8 174.6,29.6 170.1,30.5 164.6,31.4 162.4,32.7 M176.6,110.9 179.4,113.7 181.0,115.9 179.4,119.0 177.0,119.3 176.3,114.8 176.6,110.9 M267.4,76.6 269.6,77.3 268.5,81.7 266.9,84.1 265.4,81.5 267.4,76.6 M240.0,90.1 244.4,88.1 245.3,89.2 242.2,92.3 240.0,91.6 240.0,90.1 M286.4,59.2 289.3,57.6 291.5,59.6 290.1,63.2 287.7,63.6 286.8,60.3 286.4,59.2 M289.3,57.4 292.8,54.1 300.1,53.7 302.3,50.1 305.4,49.0 308.9,46.4 309.4,42.6 312.5,41.1 313.6,44.2 311.6,47.9 311.3,51.0 311.1,53.7 308.9,55.2 306.7,56.1 302.7,56.1 302.3,56.8 300.1,58.5 298.5,56.8 293.9,56.8 289.3,57.4 M292.8,59.0 293.9,57.4 297.4,57.0 297.6,57.9 295.0,58.7 292.8,59.0 M309.4,40.9 312.0,40.2 316.4,39.8 321.5,36.9 319.3,35.3 313.1,32.2 312.7,36.9 310.0,37.1 309.4,38.6 309.4,40.9 M313.8,30.9 317.1,29.2 314.9,26.5 316.0,19.9 316.4,15.5 314.9,12.6 313.8,15.5 314.2,19.9 313.3,25.4 313.8,30.9 M266.5,91.6 268.0,91.4 270.0,91.6 270.7,94.3 270.0,96.5 268.7,97.6 268.3,100.3 269.1,101.4 270.9,101.1 271.8,102.0 273.8,102.0 274.4,103.8 273.1,104.5 271.8,103.6 270.7,102.9 269.1,101.8 267.4,102.5 266.5,100.9 267.2,100.0 266.3,99.6 264.9,97.4 266.1,96.1 266.1,93.6 266.5,91.6 M269.6,117.0 270.0,115.1 271.8,113.7 273.1,113.5 274.7,113.7 275.8,112.6 277.3,111.1 278.9,112.2 279.8,116.4 278.9,118.6 277.8,119.3 277.1,120.1 276.4,119.0 274.4,118.8 273.8,116.4 271.8,115.9 269.8,117.3 269.6,117.0 M274.7,104.7 276.9,104.9 277.8,108.0 276.2,108.2 274.7,106.9 274.7,104.7 M269.4,106.2 270.9,106.9 272.0,107.8 270.9,109.3 269.6,109.3 269.4,106.2 M271.6,108.4 272.9,109.3 272.2,112.0 270.9,111.7 270.5,110.2 271.6,108.4 M259.0,114.0 260.7,112.6 262.5,110.6 264.3,109.3 263.8,107.5 263.0,109.5 261.2,111.3 259.4,113.1 259.0,114.0 M265.8,102.7 267.8,102.9 268.5,104.7 267.6,105.6 266.1,104.5 265.8,102.7 M240.9,129.2 242.2,128.1 245.7,127.0 249.9,125.2 255.2,120.8 258.1,117.3 260.1,118.8 263.6,120.8 260.7,122.6 259.6,124.8 260.7,130.3 259.6,132.5 257.9,135.8 257.4,139.8 253.0,140.7 249.7,139.6 245.3,139.1 243.1,136.9 240.9,132.5 240.9,129.2 M210.6,120.1 215.4,121.0 218.1,124.1 221.9,127.4 224.3,128.7 227.6,131.0 229.4,134.5 230.9,136.5 233.8,138.7 234.2,139.6 234.0,145.1 231.1,145.5 226.1,141.3 223.2,138.7 221.6,134.5 219.2,131.8 218.1,128.7 215.7,126.5 213.0,123.9 210.6,120.1 M232.5,147.5 234.2,145.5 239.3,146.4 244.0,147.7 248.8,147.7 252.8,149.5 253.0,151.7 247.5,150.8 244.0,150.4 238.6,149.5 235.1,148.8 232.5,147.5 M253.0,150.4 255.7,151.1 257.4,151.3 257.0,152.2 254.6,151.9 253.0,150.4 M258.1,151.5 263.0,150.6 262.5,151.9 258.1,152.2 258.1,151.5 M264.7,151.3 271.8,150.8 271.4,151.7 265.2,152.2 264.7,151.3 M272.9,155.2 276.7,151.5 281.3,151.1 276.2,153.5 272.9,155.2 M263.0,153.7 266.9,155.0 265.2,153.3 263.0,153.7 M263.8,144.6 264.3,140.2 262.5,138.5 264.1,132.5 265.8,130.7 267.4,129.6 271.8,130.3 275.1,130.1 276.7,129.2 275.3,131.4 272.5,131.6 267.4,131.4 265.6,132.5 266.3,134.7 268.5,134.5 272.5,134.5 271.1,135.8 268.0,136.7 271.4,142.9 268.7,143.1 267.2,138.5 266.1,139.1 266.1,144.9 263.8,144.6 M281.7,127.6 284.4,129.2 282.8,131.4 284.8,133.2 282.6,134.3 281.7,131.4 281.7,127.6 M282.8,139.1 289.0,140.0 288.4,140.9 283.9,140.5 282.8,139.1 M278.4,139.6 281.1,139.8 279.5,140.9 278.4,139.6 M289.5,135.4 292.1,133.4 296.1,134.5 297.2,138.0 299.4,139.8 304.5,135.8 311.6,138.2 318.2,140.9 322.2,143.5 322.6,145.1 326.2,146.0 325.3,148.6 327.0,149.9 329.2,152.4 332.1,155.9 329.2,155.2 324.8,153.5 322.6,150.2 318.2,149.3 316.7,151.9 311.6,152.6 309.4,150.4 306.0,151.1 304.3,144.0 298.3,142.2 293.9,141.6 291.7,138.7 294.3,137.6 290.1,135.8 289.5,135.4 M328.1,144.6 331.5,144.2 334.8,141.8 336.3,142.0 334.1,144.6 331.5,146.4 328.1,144.6 M332.6,138.2 337.6,141.3 338.5,142.9 335.7,139.6 332.6,138.2 M342.5,144.6 344.3,146.9 346.9,149.7 351.3,150.8 354.7,153.5 356.9,155.2 M250.8,181.1 251.9,186.6 250.8,189.9 253.2,195.9 254.1,198.8 255.7,202.7 255.7,206.0 254.1,208.2 257.4,209.8 260.7,209.8 265.2,207.4 269.4,207.1 274.0,205.4 278.4,203.8 285.1,202.3 289.9,202.1 295.0,203.6 296.8,205.4 298.8,209.1 300.3,209.3 301.6,207.6 304.5,204.5 303.8,208.7 303.8,210.9 306.0,209.6 305.4,211.1 308.3,211.8 308.9,214.9 310.5,216.4 313.8,217.3 317.1,218.2 319.3,217.1 320.2,216.2 321.5,217.5 323.3,218.8 324.8,217.3 327.0,216.0 331.2,215.3 331.9,211.3 333.4,208.7 334.1,207.4 337.0,203.6 338.3,199.9 339.4,194.8 338.3,189.9 336.8,187.3 333.2,182.2 329.7,178.9 328.1,177.1 323.3,174.2 322.4,171.1 321.1,165.6 319.3,164.1 317.1,163.4 316.4,159.0 314.9,156.1 313.6,158.8 312.9,160.3 312.7,166.7 311.1,171.1 307.6,170.7 303.8,167.6 299.4,165.6 300.1,161.9 302.3,159.7 300.3,159.0 295.0,158.6 293.0,157.9 289.5,159.4 287.3,162.3 286.2,165.2 283.3,165.4 280.2,163.0 276.2,165.6 272.9,168.9 270.0,172.2 267.4,175.8 262.3,177.3 257.9,178.0 253.0,180.6 250.8,181.1 M319.7,222.4 327.7,222.8 327.0,227.9 324.4,228.8 320.9,225.7 319.7,222.4 M381.6,208.5 386.0,213.8 388.7,215.1 394.4,215.8 393.1,219.1 390.9,221.5 387.1,224.4 386.0,223.7 386.9,220.8 384.5,218.8 385.8,216.4 384.0,213.1 381.6,208.5 M381.6,221.9 385.2,224.6 384.0,226.1 381.6,228.8 378.3,230.8 377.0,233.9 373.4,235.4 367.9,234.1 368.6,232.5 371.9,229.7 377.2,226.8 380.1,223.9 381.6,221.9 M466.3,-2.2 468.5,-1.1 472.9,-1.5 477.3,0.0 483.9,0.2 487.2,0.9 491.7,2.9 495.0,4.0 498.3,6.0 500.5,8.8 504.9,11.0 507.6,12.6 509.3,15.5 512.7,18.1 513.8,20.3 518.8,22.1 523.0,23.6 524.1,26.1 519.9,25.6 521.3,28.9 521.5,30.5 521.3,36.0 520.4,38.0 521.1,42.0 521.9,44.6 524.8,49.0 526.1,51.7 529.0,56.1 533.6,57.4 536.5,60.3 537.4,62.3 539.8,66.7 543.1,70.4 543.4,72.4 546.9,74.0 549.1,78.0 551.8,79.1 552.7,81.9 553.5,79.9 551.1,78.4 549.8,75.5 547.6,68.5 545.1,64.5 541.8,62.3 545.8,63.6 549.1,68.5 552.4,71.8 554.6,76.0 556.9,77.3 560.4,81.3 562.4,83.9 562.6,87.0 565.0,90.3 570.1,92.8 574.7,95.2 581.2,97.6 585.1,96.7 590.0,97.6 593.8,101.8 598.8,102.9 602.1,103.8 604.4,106.0 606.1,108.0 605.7,109.8 608.6,111.3 611.7,114.0 614.3,114.4 617.6,116.4 618.7,116.2 619.8,112.8 622.5,114.2 624.5,115.1 624.7,118.1 624.2,123.7 621.4,129.2 618.7,132.5 617.8,133.6 616.7,137.4 618.9,138.0 616.1,142.0 615.8,145.8 618.9,148.0 622.0,153.5 625.4,159.0 627.1,163.4 629.5,166.7 636.4,170.0 640.2,173.4 640.6,177.1 639.9,184.6 639.5,190.6 637.7,198.5 637.3,205.4 636.0,209.8 634.0,213.8 633.3,218.6 632.6,224.6 632.0,228.6 628.7,235.9 628.7,239.6 628.7,245.1 630.9,248.4 636.4,251.8 640.8,254.0 646.3,255.1 649.2,254.0 651.2,253.5 644.4,248.2 642.4,246.5 643.0,243.4 645.7,240.7 650.1,237.8 646.3,234.5 646.3,233.0 651.6,231.7 651.9,227.2 654.1,225.7 651.9,223.0 657.8,222.2 658.1,218.6 667.3,217.3 668.4,216.2 670.2,212.9 668.7,210.5 666.2,208.9 666.5,207.4 667.3,208.5 671.3,209.6 674.2,209.6 677.5,206.9 680.4,203.2 683.5,199.9 688.1,194.8 688.3,189.9 693.2,185.5 700.0,183.1 704.9,181.1 706.4,177.3 708.9,171.1 709.3,161.2 710.4,161.2 713.7,156.8 717.7,152.4 718.6,148.2 717.7,144.6 713.1,143.1 710.4,140.7 703.8,138.9 697.6,138.0 688.3,135.2 685.0,132.5 683.9,128.5 681.7,123.2 677.3,120.1 674.0,119.5 669.1,119.3 666.9,117.5 662.9,114.0 659.6,111.5 658.7,108.9 654.1,109.1 647.7,109.1 644.6,109.3 641.3,107.1 637.3,108.4 636.6,105.6 631.5,107.8 628.7,109.5 625.8,113.5 624.7,113.5 620.9,111.7 618.9,112.0 616.1,112.6 613.6,111.3 610.8,108.4 610.5,104.9 611.7,99.4 608.8,97.4 604.4,97.6 600.4,97.8 599.3,97.2 600.6,93.9 602.1,90.5 603.3,85.0 599.9,85.0 596.0,86.1 595.5,89.4 592.6,91.4 586.7,92.3 583.1,90.1 580.3,86.1 579.4,83.3 580.1,77.3 580.7,75.1 580.3,71.1 585.6,68.0 588.2,66.9 593.3,67.4 598.4,68.2 597.5,65.8 601.0,64.7 605.5,65.6 608.8,66.5 612.1,68.5 612.8,71.8 614.7,74.9 616.7,76.8 618.5,75.5 617.4,69.8 615.6,65.1 616.3,61.8 618.9,60.1 623.1,57.6 628.7,54.8 627.6,51.0 628.4,48.8 630.0,46.6 632.0,43.1 636.4,42.0 639.3,40.9 640.8,40.4 639.1,38.6 640.4,36.0 647.4,33.8 649.7,32.7 653.0,32.5 652.3,28.7 651.9,25.4 653.6,24.5 649.7,23.8 643.0,25.8 639.3,28.7 638.2,29.2 641.9,27.4 645.2,23.6 654.1,21.6 662.9,21.4 669.5,18.8 672.4,16.6 671.8,14.4 666.2,12.1 662.9,9.9 659.6,7.7 657.4,4.4 653.0,0.0 652.5,-2.2 M649.7,35.8 655.0,34.0 660.7,32.5 662.9,31.1 661.8,28.9 659.6,31.6 655.2,31.8 653.0,32.5 649.7,35.8 M679.0,27.4 677.3,29.4 672.9,28.5 664.5,27.4 666.2,24.3 669.1,21.0 672.6,18.5 672.4,22.7 676.8,25.4 679.0,27.4 M586.5,-2.2 587.3,2.7 591.1,6.6 599.3,7.1 607.7,10.4 613.6,10.8 614.3,15.7 619.8,18.8 621.4,16.6 620.9,12.1 624.2,9.9 626.0,5.1 623.1,3.3 624.0,0.0 623.1,-2.2 M523.0,25.6 518.2,24.5 512.0,20.5 514.0,20.1 519.3,22.1 523.0,25.6 M607.9,84.1 613.2,82.4 616.5,81.5 619.8,82.8 624.2,84.8 628.2,86.1 631.8,87.9 628.4,88.6 623.8,88.6 624.7,86.8 622.0,85.0 617.2,84.4 614.3,83.7 611.0,84.1 607.9,84.1 M631.1,91.9 634.6,88.6 640.8,88.8 644.4,91.4 641.0,91.9 637.7,93.6 634.6,92.5 631.1,91.9 M622.5,91.9 626.9,92.5 625.8,93.0 622.5,92.3 622.5,91.9 M647.0,91.6 650.5,92.1 647.0,92.8 647.0,91.6 M660.3,246.2 665.1,245.8 667.8,246.5 665.1,248.0 661.8,247.3 660.3,246.2 M630.9,248.4 634.2,250.6 638.6,252.9 643.0,255.1 646.3,255.1 M633.1,224.8 631.5,226.4 632.9,228.1 633.1,224.8 M592.0,29.4 596.6,29.6 602.1,29.8 608.6,29.8 608.1,27.8 605.7,26.7 599.9,25.2 597.7,26.5 592.0,29.4 M607.7,31.1 603.3,32.0 601.3,35.3 601.9,40.4 603.9,40.2 605.0,36.4 604.4,34.0 607.7,31.1 M608.8,31.1 611.0,32.7 611.2,35.3 613.2,37.5 615.0,36.4 615.0,33.1 617.6,32.0 615.4,30.5 608.8,31.1 M611.2,40.4 616.5,40.2 621.2,38.0 617.6,38.4 613.2,39.8 611.2,40.4 M619.2,36.9 623.1,36.9 627.1,36.4 626.7,34.9 624.2,35.3 620.0,36.0 619.2,36.9 M451.0,90.3 452.8,89.7 451.2,87.9 451.0,90.3 M70.3,133.2 74.9,132.3 75.4,133.4 72.9,138.0 70.0,135.8 70.3,133.2 M64.5,140.0 65.4,144.6 67.6,151.3 68.5,151.3 66.3,144.6 64.7,139.8 M75.1,153.5 76.2,157.9 77.8,164.1 76.5,162.3 75.6,157.9 75.1,153.5 M229.1,18.3 233.1,16.6 238.6,13.2 242.0,9.3 240.9,12.1 235.3,17.0 229.8,18.8 229.1,18.3 M161.3,113.3 161.3,122.6 161.5,131.8 M160.4,132.1 177.2,131.4 177.2,148.8 160.2,148.8 160.4,132.1 M205.1,102.5 204.6,108.2 M206.6,114.8 207.3,117.0 M117.8,104.7 120.4,104.9 M437.5,11.0 432.0,12.4 M362.8,177.3 369.0,181.7 M391.8,171.4 394.7,172.5 397.3,168.9 M369.2,166.1 370.1,168.5 371.9,171.4 373.9,175.6 M441.9,83.9 446.4,85.0 449.7,86.6 M322.2,36.2 327.0,33.1 331.5,30.5 335.9,27.6 340.3,24.7 344.7,21.0 M274.0,78.6 277.3,77.7 282.2,74.4 284.6,71.1 286.4,69.3 288.6,65.4 M320.0,102.9 322.0,98.9 322.0,92.5 321.3,88.3 M620.9,73.8 624.2,74.2 624.7,77.3 626.9,79.3 628.7,81.3 632.0,83.3 634.2,85.7 M656.3,92.5 658.9,94.7 659.4,96.7 660.3,98.7 660.7,100.3 660.7,101.8 659.2,105.8 660.0,109.3 M658.7,108.9 660.9,108.7 660.7,110.2 658.7,110.2 658.7,108.9 M711.5,251.8 715.9,252.9 M755.7,69.1 765.7,68.7 M740.3,95.0 745.1,96.7 743.6,99.4 M726.6,45.3 733.6,47.3 739.8,49.2 M593.3,132.9 596.6,134.3 M95.7,158.1 98.3,159.7 M122.6,179.1 122.6,179.1 M152.5,240.7 155.3,242.0 M2.9,46.6 5.5,45.0 9.5,44.4 M798.4,46.6 801.0,45.0 805.0,44.4 M51.9,46.8 54.1,48.6 58.6,45.9 61.9,52.3 M630.2,235.9 628.9,238.9 629.1,242.5 629.8,245.8 631.3,248.2 634.2,250.0 637.5,251.8 640.8,253.3 644.1,254.4 647.4,254.6 M632.0,237.4 630.9,240.7 632.0,244.0 633.1,247.3 636.4,249.5 639.7,251.3 643.0,252.4 646.3,253.5 M633.1,231.9 630.9,233.6 629.8,235.9 M580.7,21.2 582.5,19.0 581.2,16.8 579.4,14.6 577.8,13.7 576.3,14.8 578.5,17.2 579.4,19.4 580.7,21.2 M577.2,21.6 578.5,19.9 576.3,17.9 575.4,19.2 577.2,21.6 M653.0,22.5 659.2,24.1 657.4,23.4 653.0,22.5 M653.2,29.6 658.5,30.0 655.2,30.5 653.2,29.6 M274.7,107.1 276.2,108.2 276.7,110.2 275.8,110.4 274.7,108.7 274.7,107.1 M273.6,107.8 274.2,109.3 272.7,111.5 272.7,109.8 273.6,107.8 M273.6,110.2 275.1,110.4 274.7,111.3 273.6,111.1 273.6,110.2 M265.2,119.3 267.4,119.5 269.6,118.4 M281.5,133.8 282.2,136.0 283.3,140.5 M289.5,149.1 291.0,150.6 M296.5,144.4 297.6,147.5" fill="none" stroke="#006400" stroke-width="2.8" stroke-linejoin="round" stroke-linecap="round"/><path d="M340.3 78.8h0.01 M368.1 89.9h0.01 M378.3 116.8h0.01 M370.6 112.4h0.01 M368.8 107.1h0.01 M358.6 106.9h0.01 M374.8 119.3h0.01 M375.7 111.5h0.01 M349.6 117.3h0.01 M360.2 120.8h0.01 M335.4 116.2h0.01 M305.2 111.5h0.01 M297.2 116.2h0.01 M318.2 114.8h0.01 M324.8 113.7h0.01 M382.3 129.4h0.01 M385.6 133.6h0.01 M388.9 135.8h0.01 M368.8 133.6h0.01 M405.3 130.7h0.01 M447.7 128.3h0.01 M437.3 119.5h0.01 M443.3 123.9h0.01 M416.1 140.7h0.01 M414.3 142.4h0.01 M415.9 152.8h0.01 M396.0 151.3h0.01 M392.2 146.9h0.01 M415.0 162.8h0.01 M408.4 179.3h0.01 M411.0 173.8h0.01 M442.4 179.3h0.01 M439.7 155.5h0.01 M446.4 152.4h0.01 M465.1 171.4h0.01 M460.7 168.9h0.01 M475.1 167.8h0.01 M481.7 170.0h0.01 M486.1 172.2h0.01 M472.9 165.6h0.01 M486.1 152.4h0.01 M487.2 154.1h0.01 M465.1 184.4h0.01 M508.2 187.7h0.01 M553.8 192.3h0.01 M621.4 206.7h0.01 M366.8 156.1h0.01 M324.8 136.9h0.01 M371.2 196.5h0.01 M351.3 202.1h0.01 M402.2 196.5h0.01 M405.5 229.7h0.01 M451.9 89.4h0.01 M403.5 70.2h0.01 M428.7 80.2h0.01 M439.7 81.7h0.01 M419.8 15.9h0.01 M414.3 17.0h0.01 M409.9 17.7h0.01 M405.5 18.1h0.01 M401.1 18.1h0.01 M395.5 18.5h0.01 M391.1 17.9h0.01 M384.5 15.9h0.01 M381.2 15.5h0.01 M366.8 11.0h0.01 M314.2 72.7h0.01 M308.3 59.6h0.01 M122.6 142.7h0.01 M127.3 177.3h0.01 M153.6 241.4h0.01 M114.5 235.0h0.01 M162.4 249.8h0.01 M83.5 236.1h0.01 M171.3 216.0h0.01 M233.6 155.7h0.01 M214.1 159.4h0.01 M160.4 109.1h0.01 M652.3 61.2h0.01 M757.9 60.3h0.01 M14.6 131.8h0.01 M19.2 124.8h0.01 M763.7 149.9h0.01 M782.9 167.6h0.01 M768.3 214.4h0.01 M773.6 221.5h0.01 M723.9 140.9h0.01 M730.8 177.8h0.01 M7.5 252.6h0.01 M736.9 258.4h0.01 M31.8 53.2h0.01 M647.4 255.9h0.01 M618.7 206.9h0.01" fill="none" stroke="#006400" stroke-width="4" stroke-linecap="round"/><line x1="397.75" y1="0" x2="397.75" y2="265.0" stroke="#006400" stroke-width="1.1" stroke-dasharray="4.5 5.5"/></g></svg>
<line x1="81.00" y1="735.50" x2="81.00" y2="745.50" stroke="#000" stroke-width="2.2"/>
<line x1="81.00" y1="470.50" x2="81.00" y2="460.50" stroke="#000" stroke-width="2.2"/>
<line x1="114.15" y1="735.50" x2="114.15" y2="740.50" stroke="#000" stroke-width="1.3"/>
<line x1="114.15" y1="470.50" x2="114.15" y2="465.50" stroke="#000" stroke-width="1.3"/>
<line x1="147.29" y1="735.50" x2="147.29" y2="740.50" stroke="#000" stroke-width="1.3"/>
<line x1="147.29" y1="470.50" x2="147.29" y2="465.50" stroke="#000" stroke-width="1.3"/>
<line x1="180.44" y1="735.50" x2="180.44" y2="745.50" stroke="#000" stroke-width="2.2"/>
<line x1="180.44" y1="470.50" x2="180.44" y2="460.50" stroke="#000" stroke-width="2.2"/>
<line x1="213.58" y1="735.50" x2="213.58" y2="740.50" stroke="#000" stroke-width="1.3"/>
<line x1="213.58" y1="470.50" x2="213.58" y2="465.50" stroke="#000" stroke-width="1.3"/>
<line x1="246.73" y1="735.50" x2="246.73" y2="740.50" stroke="#000" stroke-width="1.3"/>
<line x1="246.73" y1="470.50" x2="246.73" y2="465.50" stroke="#000" stroke-width="1.3"/>
<line x1="279.88" y1="735.50" x2="279.88" y2="745.50" stroke="#000" stroke-width="2.2"/>
<line x1="279.88" y1="470.50" x2="279.88" y2="460.50" stroke="#000" stroke-width="2.2"/>
<line x1="313.02" y1="735.50" x2="313.02" y2="740.50" stroke="#000" stroke-width="1.3"/>
<line x1="313.02" y1="470.50" x2="313.02" y2="465.50" stroke="#000" stroke-width="1.3"/>
<line x1="346.17" y1="735.50" x2="346.17" y2="740.50" stroke="#000" stroke-width="1.3"/>
<line x1="346.17" y1="470.50" x2="346.17" y2="465.50" stroke="#000" stroke-width="1.3"/>
<line x1="379.31" y1="735.50" x2="379.31" y2="745.50" stroke="#000" stroke-width="2.2"/>
<line x1="379.31" y1="470.50" x2="379.31" y2="460.50" stroke="#000" stroke-width="2.2"/>
<line x1="412.46" y1="735.50" x2="412.46" y2="740.50" stroke="#000" stroke-width="1.3"/>
<line x1="412.46" y1="470.50" x2="412.46" y2="465.50" stroke="#000" stroke-width="1.3"/>
<line x1="445.60" y1="735.50" x2="445.60" y2="740.50" stroke="#000" stroke-width="1.3"/>
<line x1="445.60" y1="470.50" x2="445.60" y2="465.50" stroke="#000" stroke-width="1.3"/>
<line x1="478.75" y1="735.50" x2="478.75" y2="745.50" stroke="#000" stroke-width="2.2"/>
<line x1="478.75" y1="470.50" x2="478.75" y2="460.50" stroke="#000" stroke-width="2.2"/>
<line x1="511.90" y1="735.50" x2="511.90" y2="740.50" stroke="#000" stroke-width="1.3"/>
<line x1="511.90" y1="470.50" x2="511.90" y2="465.50" stroke="#000" stroke-width="1.3"/>
<line x1="545.04" y1="735.50" x2="545.04" y2="740.50" stroke="#000" stroke-width="1.3"/>
<line x1="545.04" y1="470.50" x2="545.04" y2="465.50" stroke="#000" stroke-width="1.3"/>
<line x1="578.19" y1="735.50" x2="578.19" y2="745.50" stroke="#000" stroke-width="2.2"/>
<line x1="578.19" y1="470.50" x2="578.19" y2="460.50" stroke="#000" stroke-width="2.2"/>
<line x1="611.33" y1="735.50" x2="611.33" y2="740.50" stroke="#000" stroke-width="1.3"/>
<line x1="611.33" y1="470.50" x2="611.33" y2="465.50" stroke="#000" stroke-width="1.3"/>
<line x1="644.48" y1="735.50" x2="644.48" y2="740.50" stroke="#000" stroke-width="1.3"/>
<line x1="644.48" y1="470.50" x2="644.48" y2="465.50" stroke="#000" stroke-width="1.3"/>
<line x1="677.62" y1="735.50" x2="677.62" y2="745.50" stroke="#000" stroke-width="2.2"/>
<line x1="677.62" y1="470.50" x2="677.62" y2="460.50" stroke="#000" stroke-width="2.2"/>
<line x1="710.77" y1="735.50" x2="710.77" y2="740.50" stroke="#000" stroke-width="1.3"/>
<line x1="710.77" y1="470.50" x2="710.77" y2="465.50" stroke="#000" stroke-width="1.3"/>
<line x1="743.92" y1="735.50" x2="743.92" y2="740.50" stroke="#000" stroke-width="1.3"/>
<line x1="743.92" y1="470.50" x2="743.92" y2="465.50" stroke="#000" stroke-width="1.3"/>
<line x1="777.06" y1="735.50" x2="777.06" y2="745.50" stroke="#000" stroke-width="2.2"/>
<line x1="777.06" y1="470.50" x2="777.06" y2="460.50" stroke="#000" stroke-width="2.2"/>
<line x1="810.21" y1="735.50" x2="810.21" y2="740.50" stroke="#000" stroke-width="1.3"/>
<line x1="810.21" y1="470.50" x2="810.21" y2="465.50" stroke="#000" stroke-width="1.3"/>
<line x1="843.35" y1="735.50" x2="843.35" y2="740.50" stroke="#000" stroke-width="1.3"/>
<line x1="843.35" y1="470.50" x2="843.35" y2="465.50" stroke="#000" stroke-width="1.3"/>
<line x1="876.50" y1="735.50" x2="876.50" y2="745.50" stroke="#000" stroke-width="2.2"/>
<line x1="876.50" y1="470.50" x2="876.50" y2="460.50" stroke="#000" stroke-width="2.2"/>
<line x1="81.00" y1="735.50" x2="71.00" y2="735.50" stroke="#000" stroke-width="2.2"/>
<line x1="876.50" y1="735.50" x2="886.50" y2="735.50" stroke="#000" stroke-width="2.2"/>
<line x1="81.00" y1="724.46" x2="76.00" y2="724.46" stroke="#000" stroke-width="1.3"/>
<line x1="876.50" y1="724.46" x2="881.50" y2="724.46" stroke="#000" stroke-width="1.3"/>
<line x1="81.00" y1="713.42" x2="76.00" y2="713.42" stroke="#000" stroke-width="1.3"/>
<line x1="876.50" y1="713.42" x2="881.50" y2="713.42" stroke="#000" stroke-width="1.3"/>
<line x1="81.00" y1="702.38" x2="71.00" y2="702.38" stroke="#000" stroke-width="2.2"/>
<line x1="876.50" y1="702.38" x2="886.50" y2="702.38" stroke="#000" stroke-width="2.2"/>
<line x1="81.00" y1="691.33" x2="76.00" y2="691.33" stroke="#000" stroke-width="1.3"/>
<line x1="876.50" y1="691.33" x2="881.50" y2="691.33" stroke="#000" stroke-width="1.3"/>
<line x1="81.00" y1="680.29" x2="76.00" y2="680.29" stroke="#000" stroke-width="1.3"/>
<line x1="876.50" y1="680.29" x2="881.50" y2="680.29" stroke="#000" stroke-width="1.3"/>
<line x1="81.00" y1="669.25" x2="71.00" y2="669.25" stroke="#000" stroke-width="2.2"/>
<line x1="876.50" y1="669.25" x2="886.50" y2="669.25" stroke="#000" stroke-width="2.2"/>
<line x1="81.00" y1="658.21" x2="76.00" y2="658.21" stroke="#000" stroke-width="1.3"/>
<line x1="876.50" y1="658.21" x2="881.50" y2="658.21" stroke="#000" stroke-width="1.3"/>
<line x1="81.00" y1="647.17" x2="76.00" y2="647.17" stroke="#000" stroke-width="1.3"/>
<line x1="876.50" y1="647.17" x2="881.50" y2="647.17" stroke="#000" stroke-width="1.3"/>
<line x1="81.00" y1="636.12" x2="71.00" y2="636.12" stroke="#000" stroke-width="2.2"/>
<line x1="876.50" y1="636.12" x2="886.50" y2="636.12" stroke="#000" stroke-width="2.2"/>
<line x1="81.00" y1="625.08" x2="76.00" y2="625.08" stroke="#000" stroke-width="1.3"/>
<line x1="876.50" y1="625.08" x2="881.50" y2="625.08" stroke="#000" stroke-width="1.3"/>
<line x1="81.00" y1="614.04" x2="76.00" y2="614.04" stroke="#000" stroke-width="1.3"/>
<line x1="876.50" y1="614.04" x2="881.50" y2="614.04" stroke="#000" stroke-width="1.3"/>
<line x1="81.00" y1="603.00" x2="71.00" y2="603.00" stroke="#000" stroke-width="2.2"/>
<line x1="876.50" y1="603.00" x2="886.50" y2="603.00" stroke="#000" stroke-width="2.2"/>
<line x1="81.00" y1="591.96" x2="76.00" y2="591.96" stroke="#000" stroke-width="1.3"/>
<line x1="876.50" y1="591.96" x2="881.50" y2="591.96" stroke="#000" stroke-width="1.3"/>
<line x1="81.00" y1="580.92" x2="76.00" y2="580.92" stroke="#000" stroke-width="1.3"/>
<line x1="876.50" y1="580.92" x2="881.50" y2="580.92" stroke="#000" stroke-width="1.3"/>
<line x1="81.00" y1="569.88" x2="71.00" y2="569.88" stroke="#000" stroke-width="2.2"/>
<line x1="876.50" y1="569.88" x2="886.50" y2="569.88" stroke="#000" stroke-width="2.2"/>
<line x1="81.00" y1="558.83" x2="76.00" y2="558.83" stroke="#000" stroke-width="1.3"/>
<line x1="876.50" y1="558.83" x2="881.50" y2="558.83" stroke="#000" stroke-width="1.3"/>
<line x1="81.00" y1="547.79" x2="76.00" y2="547.79" stroke="#000" stroke-width="1.3"/>
<line x1="876.50" y1="547.79" x2="881.50" y2="547.79" stroke="#000" stroke-width="1.3"/>
<line x1="81.00" y1="536.75" x2="71.00" y2="536.75" stroke="#000" stroke-width="2.2"/>
<line x1="876.50" y1="536.75" x2="886.50" y2="536.75" stroke="#000" stroke-width="2.2"/>
<line x1="81.00" y1="525.71" x2="76.00" y2="525.71" stroke="#000" stroke-width="1.3"/>
<line x1="876.50" y1="525.71" x2="881.50" y2="525.71" stroke="#000" stroke-width="1.3"/>
<line x1="81.00" y1="514.67" x2="76.00" y2="514.67" stroke="#000" stroke-width="1.3"/>
<line x1="876.50" y1="514.67" x2="881.50" y2="514.67" stroke="#000" stroke-width="1.3"/>
<line x1="81.00" y1="503.62" x2="71.00" y2="503.62" stroke="#000" stroke-width="2.2"/>
<line x1="876.50" y1="503.62" x2="886.50" y2="503.62" stroke="#000" stroke-width="2.2"/>
<line x1="81.00" y1="492.58" x2="76.00" y2="492.58" stroke="#000" stroke-width="1.3"/>
<line x1="876.50" y1="492.58" x2="881.50" y2="492.58" stroke="#000" stroke-width="1.3"/>
<line x1="81.00" y1="481.54" x2="76.00" y2="481.54" stroke="#000" stroke-width="1.3"/>
<line x1="876.50" y1="481.54" x2="881.50" y2="481.54" stroke="#000" stroke-width="1.3"/>
<line x1="81.00" y1="470.50" x2="71.00" y2="470.50" stroke="#000" stroke-width="2.2"/>
<line x1="876.50" y1="470.50" x2="886.50" y2="470.50" stroke="#000" stroke-width="2.2"/>
<rect x="81.0" y="470.5" width="795.5" height="265.0" fill="none" stroke="#000" stroke-width="2.2"/>
<text x="52.6" y="480.50" text-anchor="end" font-size="29.2">60N</text>
<text x="52.6" y="513.62" text-anchor="end" font-size="29.2">45N</text>
<text x="52.6" y="546.75" text-anchor="end" font-size="29.2">30N</text>
<text x="52.6" y="579.88" text-anchor="end" font-size="29.2">15N</text>
<text x="52.6" y="613.00" text-anchor="end" font-size="29.2">0</text>
<text x="52.6" y="646.12" text-anchor="end" font-size="29.2">15S</text>
<text x="52.6" y="679.25" text-anchor="end" font-size="29.2">30S</text>
<text x="52.6" y="712.38" text-anchor="end" font-size="29.2">45S</text>
<text x="52.6" y="745.50" text-anchor="end" font-size="29.2">60S</text>
<text x="81.00" y="786.90" text-anchor="middle" font-size="29.2">0</text>
<text x="180.44" y="786.90" text-anchor="middle" font-size="29.2">45E</text>
<text x="279.88" y="786.90" text-anchor="middle" font-size="29.2">90E</text>
<text x="379.31" y="786.90" text-anchor="middle" font-size="29.2">135E</text>
<text x="478.75" y="786.90" text-anchor="middle" font-size="29.2">180</text>
<text x="578.19" y="786.90" text-anchor="middle" font-size="29.2">135W</text>
<text x="677.62" y="786.90" text-anchor="middle" font-size="29.2">90W</text>
<text x="777.06" y="786.90" text-anchor="middle" font-size="29.2">45W</text>
<text x="876.50" y="786.90" text-anchor="middle" font-size="29.2">0</text>
<rect x="932.40" y="135.00" width="48.0" height="11.67" fill="#D2691E"/>
<rect x="932.40" y="146.37" width="48.0" height="11.67" fill="#E0330F"/>
<rect x="932.40" y="157.74" width="48.0" height="11.67" fill="#8B0000"/>
<rect x="932.40" y="169.12" width="48.0" height="11.67" fill="#5C0000"/>
<rect x="932.40" y="180.49" width="48.0" height="11.67" fill="#300000"/>
<rect x="932.40" y="191.86" width="48.0" height="11.67" fill="#333333"/>
<rect x="932.40" y="203.23" width="48.0" height="11.67" fill="#404040"/>
<rect x="932.40" y="214.61" width="48.0" height="11.67" fill="#4D4D4D"/>
<rect x="932.40" y="225.98" width="48.0" height="11.67" fill="#616161"/>
<rect x="932.40" y="237.35" width="48.0" height="11.67" fill="#707070"/>
<rect x="932.40" y="248.72" width="48.0" height="11.67" fill="#8C8C8C"/>
<rect x="932.40" y="260.09" width="48.0" height="11.67" fill="#A3A3A3"/>
<rect x="932.40" y="271.47" width="48.0" height="11.67" fill="#B8B8B8"/>
<rect x="932.40" y="282.84" width="48.0" height="11.67" fill="#ADD8E6"/>
<rect x="932.40" y="294.21" width="48.0" height="11.67" fill="#5CACEE"/>
<rect x="932.40" y="305.58" width="48.0" height="11.67" fill="#4876FF"/>
<rect x="932.40" y="316.96" width="48.0" height="11.67" fill="#104E8B"/>
<rect x="932.40" y="328.33" width="48.0" height="11.67" fill="#191970"/>
<line x1="932.40" y1="146.37" x2="980.40" y2="146.37" stroke="#000" stroke-width="1.2"/>
<line x1="932.40" y1="157.74" x2="980.40" y2="157.74" stroke="#000" stroke-width="1.2"/>
<line x1="932.40" y1="169.12" x2="980.40" y2="169.12" stroke="#000" stroke-width="1.2"/>
<line x1="932.40" y1="180.49" x2="980.40" y2="180.49" stroke="#000" stroke-width="1.2"/>
<line x1="932.40" y1="191.86" x2="980.40" y2="191.86" stroke="#000" stroke-width="1.2"/>
<line x1="932.40" y1="203.23" x2="980.40" y2="203.23" stroke="#000" stroke-width="1.2"/>
<line x1="932.40" y1="214.61" x2="980.40" y2="214.61" stroke="#000" stroke-width="1.2"/>
<line x1="932.40" y1="225.98" x2="980.40" y2="225.98" stroke="#000" stroke-width="1.2"/>
<line x1="932.40" y1="237.35" x2="980.40" y2="237.35" stroke="#000" stroke-width="1.2"/>
<line x1="932.40" y1="248.72" x2="980.40" y2="248.72" stroke="#000" stroke-width="1.2"/>
<line x1="932.40" y1="260.09" x2="980.40" y2="260.09" stroke="#000" stroke-width="1.2"/>
<line x1="932.40" y1="271.47" x2="980.40" y2="271.47" stroke="#000" stroke-width="1.2"/>
<line x1="932.40" y1="282.84" x2="980.40" y2="282.84" stroke="#000" stroke-width="1.2"/>
<line x1="932.40" y1="294.21" x2="980.40" y2="294.21" stroke="#000" stroke-width="1.2"/>
<line x1="932.40" y1="305.58" x2="980.40" y2="305.58" stroke="#000" stroke-width="1.2"/>
<line x1="932.40" y1="316.96" x2="980.40" y2="316.96" stroke="#000" stroke-width="1.2"/>
<line x1="932.40" y1="328.33" x2="980.40" y2="328.33" stroke="#000" stroke-width="1.2"/>
<rect x="932.40" y="135.00" width="48.0" height="204.70" fill="none" stroke="#000" stroke-width="1.4"/>
<text x="1010.3" y="153.87" text-anchor="middle" font-size="21">320</text>
<text x="1010.3" y="176.62" text-anchor="middle" font-size="21">300</text>
<text x="1010.3" y="199.36" text-anchor="middle" font-size="21">280</text>
<text x="1010.3" y="222.11" text-anchor="middle" font-size="21">260</text>
<text x="1010.3" y="244.85" text-anchor="middle" font-size="21">240</text>
<text x="1010.3" y="267.59" text-anchor="middle" font-size="21">220</text>
<text x="1010.3" y="290.34" text-anchor="middle" font-size="21">200</text>
<text x="1010.3" y="313.08" text-anchor="middle" font-size="21">180</text>
<text x="1010.3" y="335.83" text-anchor="middle" font-size="21">160</text>
<text x="980.2" y="119.90" text-anchor="middle" font-size="29">W m-2</text>
<rect x="934.70" y="523.10" width="48.0" height="20.74" fill="#543005"/>
<rect x="934.70" y="543.54" width="48.0" height="20.74" fill="#8c510a"/>
<rect x="934.70" y="563.98" width="48.0" height="20.74" fill="#bf812d"/>
<rect x="934.70" y="584.42" width="48.0" height="20.74" fill="#dfc27d"/>
<rect x="934.70" y="604.86" width="48.0" height="20.74" fill="#f6e8c3"/>
<rect x="934.70" y="625.30" width="48.0" height="20.74" fill="#c7eae5"/>
<rect x="934.70" y="645.74" width="48.0" height="20.74" fill="#80cdc1"/>
<rect x="934.70" y="666.18" width="48.0" height="20.74" fill="#35978f"/>
<rect x="934.70" y="686.62" width="48.0" height="20.74" fill="#01665e"/>
<rect x="934.70" y="707.06" width="48.0" height="20.74" fill="#003c30"/>
<line x1="934.70" y1="543.54" x2="982.70" y2="543.54" stroke="#000" stroke-width="1.2"/>
<line x1="934.70" y1="563.98" x2="982.70" y2="563.98" stroke="#000" stroke-width="1.2"/>
<line x1="934.70" y1="584.42" x2="982.70" y2="584.42" stroke="#000" stroke-width="1.2"/>
<line x1="934.70" y1="604.86" x2="982.70" y2="604.86" stroke="#000" stroke-width="1.2"/>
<line x1="934.70" y1="625.30" x2="982.70" y2="625.30" stroke="#000" stroke-width="1.2"/>
<line x1="934.70" y1="645.74" x2="982.70" y2="645.74" stroke="#000" stroke-width="1.2"/>
<line x1="934.70" y1="666.18" x2="982.70" y2="666.18" stroke="#000" stroke-width="1.2"/>
<line x1="934.70" y1="686.62" x2="982.70" y2="686.62" stroke="#000" stroke-width="1.2"/>
<line x1="934.70" y1="707.06" x2="982.70" y2="707.06" stroke="#000" stroke-width="1.2"/>
<rect x="934.70" y="523.10" width="48.0" height="204.40" fill="none" stroke="#000" stroke-width="1.4"/>
<text x="1010.3" y="551.04" text-anchor="middle" font-size="21">30</text>
<text x="1010.3" y="591.92" text-anchor="middle" font-size="21">15</text>
<text x="1010.3" y="632.80" text-anchor="middle" font-size="21">0</text>
<text x="1010.3" y="673.68" text-anchor="middle" font-size="21">-15</text>
<text x="1010.3" y="714.56" text-anchor="middle" font-size="21">-30</text>
<text x="980.2" y="507.60" text-anchor="middle" font-size="29">W m-2</text>
</svg></body></html>
